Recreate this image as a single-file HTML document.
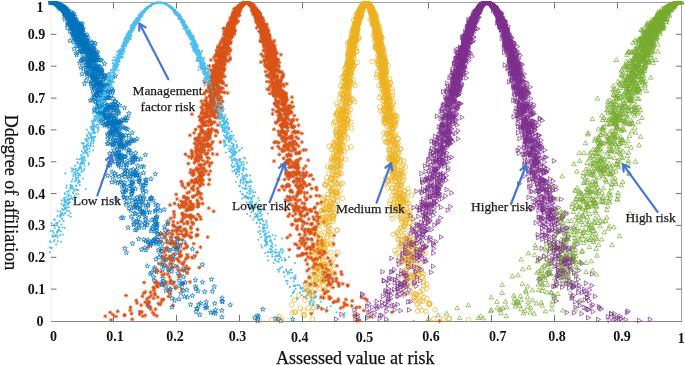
<!DOCTYPE html>
<html><head><meta charset="utf-8"><style>
html,body{margin:0;padding:0;background:#fff;width:685px;height:365px;overflow:hidden}
.w{position:relative;width:685px;height:365px;filter:blur(0.4px)}
svg text{font-family:"Liberation Serif",serif}
.tl text{font-weight:bold;font-size:14px;fill:#111}
.an text{font-size:13.4px;fill:#1a1a1a;stroke:#1a1a1a;stroke-width:0.25px}
.tt{stroke:#111;stroke-width:0.25px}
</style></head><body><div class="w">
<svg width="685" height="365" viewBox="0 0 685 365" style="position:absolute;left:0;top:0">
<defs><clipPath id="c"><rect x="48" y="1" width="637" height="324"/></clipPath>
<marker id="mlow" markerUnits="userSpaceOnUse" markerWidth="10" markerHeight="10" refX="0" refY="0" viewBox="-5 -5 10 10" overflow="visible"><polygon points="0.00,-2.50 0.59,-0.81 2.38,-0.77 0.95,0.31 1.47,2.02 0.00,1.00 -1.47,2.02 -0.95,0.31 -2.38,-0.77 -0.59,-0.81" fill="none" stroke="#0072BD" stroke-width="0.7" stroke-linejoin="round"/></marker>
<marker id="mmgmt" markerUnits="userSpaceOnUse" markerWidth="10" markerHeight="10" refX="0" refY="0" viewBox="-5 -5 10 10" overflow="visible"><circle r="1" fill="#4DBEEE"/></marker>
<marker id="mlower" markerUnits="userSpaceOnUse" markerWidth="10" markerHeight="10" refX="0" refY="0" viewBox="-5 -5 10 10" overflow="visible"><path d="M-2 0H2M0-2V2M-1.4-1.4L1.4 1.4M-1.4 1.4L1.4-1.4" stroke="#D95319" stroke-width="0.9"/></marker>
<marker id="mmed" markerUnits="userSpaceOnUse" markerWidth="10" markerHeight="10" refX="0" refY="0" viewBox="-5 -5 10 10" overflow="visible"><circle r="2.3" fill="none" stroke="#EDB120" stroke-width="0.7"/></marker>
<marker id="mhigher" markerUnits="userSpaceOnUse" markerWidth="10" markerHeight="10" refX="0" refY="0" viewBox="-5 -5 10 10" overflow="visible"><path d="M2.6 0L-1.4 2.3V-2.3Z" fill="none" stroke="#7E2F8E" stroke-width="0.7" stroke-linejoin="round"/></marker>
<marker id="mhigh" markerUnits="userSpaceOnUse" markerWidth="10" markerHeight="10" refX="0" refY="0" viewBox="-5 -5 10 10" overflow="visible"><path d="M0-2.6L2.3 1.4H-2.3Z" fill="none" stroke="#77AC30" stroke-width="0.7" stroke-linejoin="round"/></marker>
</defs>
<line x1="51" y1="2.5" x2="682" y2="2.5" stroke="#a0a0a0" stroke-width="1"/>
<line x1="681.5" y1="2.5" x2="681.5" y2="321.5" stroke="#a0a0a0" stroke-width="1"/>
<line x1="51" y1="321.5" x2="682" y2="321.5" stroke="#858585" stroke-width="1.2"/>
<line x1="51" y1="2" x2="51" y2="321" stroke="#eeeeee" stroke-width="1"/>
<path d="M113.5 2.5v6M113.5 321v-6M176.5 2.5v6M176.5 321v-6M239.5 2.5v6M239.5 321v-6M302.5 2.5v6M302.5 321v-6M365.5 2.5v6M365.5 321v-6M428.5 2.5v6M428.5 321v-6M491.5 2.5v6M491.5 321v-6M554.5 2.5v6M554.5 321v-6M617.5 2.5v6M617.5 321v-6M51 289.1h5.5M681.5 289.1h-5.5M51 257.3h5.5M681.5 257.3h-5.5M51 225.4h5.5M681.5 225.4h-5.5M51 193.6h5.5M681.5 193.6h-5.5M51 161.8h5.5M681.5 161.8h-5.5M51 129.9h5.5M681.5 129.9h-5.5M51 98.1h5.5M681.5 98.1h-5.5M51 66.2h5.5M681.5 66.2h-5.5M51 34.3h5.5M681.5 34.3h-5.5" stroke="#707070" stroke-width="1" fill="none"/>
<g clip-path="url(#c)" fill="none" stroke="none">
<polyline points="85,42.3 80.2,29.2 123.8,148.5 98.9,92.9 58.3,4.3 73.8,21 59.9,5.7 65.8,10.1 86.1,57.6 168.4,249.6 73.5,23.6 195.4,280.2 140.4,198.2 92.5,42.3 90.6,65 101.5,60.4 135.2,172.1 65.6,9.6 81,41.3 58.9,6.5 110,111.8 79.4,45.1 94.5,71.3 143.5,211.5 95.1,59.3 184.6,296.7 64.9,10.2 76.9,38.7 78.8,31.7 178,273.1 81.7,50.2 100.3,83 59.8,6 110.1,164.9 125,170 89.4,53.4 101.3,74.2 87.3,55.6 154.5,280.8 68.3,14.6 111.2,130.5 104.3,83.9 161.7,284.4 89.8,47.6 132.4,190.7 84.6,35.8 74,42.1 112.5,126.6 93.3,77.5 50.7,2.5 96.2,58 92.4,59.1 61.1,7.7 75.7,25.3 112.8,128.9 109.9,133.8 110.9,107.9 196.1,311.8 51.5,2.5 71.7,28.1 64,8.3 155.3,174.1 89.2,75.8 110.4,139.2 59,5.4 135.7,204.7 129.3,179.1 54.1,2.9 70.9,22.6 179.1,280.5 64.8,12.8 64.2,11.9 173.2,260.1 139.2,214.6 62.5,7.2 102.1,119 99.9,71.8 58.4,5 94.4,86.1 88.8,60.1 91.2,81 60.1,5.1 153.7,243.7 54.6,3.1 125.7,156.8 49.8,2.5 132.2,132.9 86.9,48 134.2,206.6 112.1,125.1 60.3,6 51.9,2.5 202.4,282.2 50.8,2.5 56.1,3.3 73.8,30 124.2,156.5 113,120.8 117.5,110.7 91.5,50.5 81.6,37.5 143.9,197.4 183.7,241.8 53.5,2.8 55,3.1 82.4,54.3 93.2,83.7 71.1,19.5 121.6,138 98.8,95.1 101.9,103.2 162.9,258.8 67.4,17.1 62.8,8.4 215.6,310 96.8,81.7 141.4,211.4 58.1,5 70.8,20.9 98.5,105.4 111.2,117.1 65.8,10.7 87.3,76.6 77,32.8 75.2,22.1 79.9,31.9 105.8,120.8 114.1,112.5 64.3,10.5 98,97.3 126.5,164.6 169.2,267.6 103.2,79.2 60.2,6.6 129.2,150.1 59.5,5.8 257.5,320.7 96.7,69.4 95.3,75.9 103.3,115.8 76,21.5 152,229 122.1,145.3 148.2,242.3 190.5,304.6 135.6,153 52.8,2.6 67.9,11.4 135.9,201.8 105.5,110.1 74.8,34.7 145.8,179.5 222,317 118.4,152 96.4,79.2 80.9,38.1 130.1,162.8 91.6,85.9 62.9,7.3 86.2,48.9 117.5,103.7 152.7,226.8 111.8,159.4 89.3,63 92.1,55.6 87.3,58.2 94.4,57.8 115.3,131.8 74.8,37.8 74,19.3 156.2,217.5 184.6,270.1 169.7,291.8 198,291 195.6,286.6 133.2,157.4 112.5,143 257.6,319.6 64,9.2 93.3,52 70.9,16.4 81.4,31.9 108.6,74.6 66.5,17.9 79.5,25.3 109.8,153.5 135.2,230.1 151.1,231 100.2,68.4 73.9,23.4 76.3,42.1 62.3,8.9 132.5,162.3 77.3,32.5 55.3,3.7 97.1,68.6 84.6,36.5 79.7,62.9 65.2,9.2 122.5,191.7 127.5,141.1 100.4,84.6 107.1,109.8 108,117.7 77.6,23.9 131.8,200.4 221.8,310.5 79,36.5 81.8,26.8 197.5,308.6 56.4,3.5" marker-start="url(#mlow)" marker-mid="url(#mlow)" marker-end="url(#mlow)"/>
<polyline points="197.3,50.6 145.8,9.4 141.8,16.4 72.8,169.8 155.7,2.9 106,93.8 153.3,3.8 101.2,103.4 226.3,135.7 311,293.3 121.6,52.1 161.4,2.7 162.1,2.8 188.6,31.3 147.3,7.8 181.2,20.5 149.9,5.7 90.4,145.2 144.6,9.9 124.5,43.5 174,10 136.7,20.2 140.4,16.6 165.2,3.7 175.5,10.4 159,2.5 229.6,157 173,10.2 105.3,88.4 272.5,247.1 166.1,4 264.3,224.7 87.1,144.8 195.5,46.1 270.7,246.3 244.9,175.6 163.8,3.3 120,56.4 117.6,59.4 144.6,9.3 96,127 111,84.3 93.8,131.7 89.1,132.7 173.4,9.8 167.9,5.6 205.3,65.9 92.8,121.7 101.5,115.6 159.3,2.5 154.8,3.2 220.7,114 152.6,3.9 251.5,198.5 163.4,3.1 270.8,252.2 305.9,290.4 122.2,50.2 256.2,214.7 192.2,40 157.2,2.7 144.6,11.5 104.5,114.5 146.4,8.1 220.4,113.1 246.7,174.4 133.1,26.8 192.2,42.2 190.5,34.9 202.9,71.7 80.1,175.4 76.9,159.3 214.6,94.6 270.9,241.4 85.9,152.6 101.6,109.3 93.1,121.9 123.4,47 133.6,27.5 103.5,99.6 54.6,240 275.6,252.3 123.1,43.5 109.3,87.6 220.6,104.1 134.3,26.1 229.7,139.6 207.6,82.5 222.2,120.7 131.3,30.1 198.9,56.9 58.5,229.5 69.8,201.8 139,19.5 245.5,188.4 139.6,16.1 136.3,18 170.7,7.1 82.7,163.7 102.6,89.3 209,75.8 184.2,26.3 208.6,78.2 70.6,213.3 143.6,10.8 172.7,9.1 219.5,118.7 177.2,12.5 142.2,12.5 150.8,5.2 153.1,4.1 64.8,207.9 160.8,2.6 213.7,89.8 207.4,72.7 62.2,219.2 227,145.3 193.8,45.1 205.6,72.7 113.9,66.6 92.8,137.1 135.3,22.1 62.2,218.2 86.9,129.8 274.5,252.4 70.4,188.1 193.9,46.6 175.9,12.3 213.5,96.4 189.1,32.5 233.3,166.8 281,257.5 72,198.2 178.2,13.5 193.4,43.2 189,30.6 258.2,232.1 178.6,15.3 236.3,168.9 234.9,160.8 170.2,6.8 196.2,49.8 109.8,79.6 182.3,20.1 151.3,4.9 132.5,31.1 222.9,127.8 154.3,3.5 297.7,299 250.8,192 211.3,89.3 124.1,45.9 224.3,117.7 171.8,7.8 93.2,137.4 201.2,59.5 179.2,16.3 133.2,28.6 116.7,58.3 83,178.4 126.5,39.3 248.7,207.2 118.5,53.7 320.6,301.7 79.1,180.7 232,156.1 234.9,155.1 238.8,169.6 203.6,59.9 54.3,224.6 237.6,166.6 235.3,152.1 165.3,4 236.4,152.6 102.5,102.9 145.3,10.2 246.6,183.1 258,198.3 127.8,40.4 282.3,253.1 232.3,167 100.8,111 76.4,185.5 285.7,259.7 196.1,47.4 140.2,17.9 186.5,33.1 53.3,237.1 119.3,55.9 57,225.3 120,55.5 185.1,24.5 65.4,202.3 148,7.1 68.9,207.2 174.9,10.4 205.1,78.1 208.9,69.1 217.2,99.5 277.3,261.3 170.8,8.1 168.4,5.4 201.2,58.2 130.2,33.8 75.3,169.4 81.3,168.9 112.6,60.3 131.4,25.8 198.5,50.4 171.9,8.5 295.5,278.9 156.7,2.8 97.2,116.2 240.7,180.1 133.8,28.2 227,128.6 206.4,73.3 117.6,56.8 141.4,15 200.4,64.6 127.9,42.4 135.1,24 158.4,2.5 265.8,236.2 261.6,219.4 176.2,13.8 166.4,4.4 117.6,64.1 244.9,196.9 192.4,35.1 227.7,128.1 73.3,193.3 214.6,102.5 210.4,94.5 233.8,148.9 164.6,3.6 140.5,15.7 207.9,84.4 86.5,152.9 253.2,219.6 185.8,30.6 94.5,133.3 247.6,198.3 228.1,139 267.2,237.1 236.8,147.7 200.1,54.6 94.6,118.8 214.7,102.1 208.8,72.8 138.6,17.3 203.4,73.4 106.5,85.5 239.7,162 175.1,14 182.5,22.9 119.9,56.9 223.7,140.5 176.9,14.7 130.3,34.5 193.1,40.1 244,157.6 68,203.4 87.3,136 300.3,288.3 133.3,25.9 196.9,54.9 141.2,16.6 179.4,17.9 344.6,313.2 202.9,62.2 169.7,6.2 167.6,5.2 110.6,70.8 99.5,100.7 253.2,211.1 198.8,55.1 89.5,148.8 75.7,174.9 353.9,317.1 190.6,35.3 224.9,130.5 203.8,73.9 175.4,13.3 127.7,35.9 151.4,4.4 251.3,199.4 299.4,285.2 195.9,51.8 205.5,70.8 78.4,182.6 134.9,21.7 73,192.4 77.5,173.1 200.9,57.1 255.9,216.7 324,308.9 220.4,108.1 136.9,20.1 245.7,197.4 174.3,10.5 234.6,148.7 52.2,236 255.2,192.2 86,151.8 184.9,27.7 293.5,292.1 168.8,5.4 216.2,94.7 107.3,85.2 96.2,107.8 231.5,135.5 66.1,208.2 80,164.3 284.9,260.4 84.5,166.2 194.3,39.8 240.1,159.5 93.1,130.6 217.9,104.4 103.7,106.2 302.9,291 305.4,297.1 94.4,124.5 200.1,60.2 115.4,64.8 146.4,9.3 95,116.2 193.2,49.1 62.9,234.5 182.6,21.9 151.8,4.6 109.4,79.8 217.3,117.6 138.8,17.5 150.4,5.2 146.9,8.2 224.8,122.3 143.1,12.9 89.7,133.2 81.6,172.1 143.8,12 69.4,190.2 103.9,86.3 250,193.8 71.7,186.7 216.5,104.8 249.5,190.8 225.4,114.9 230.3,151.5 176.5,13.6 91,144.1 193.3,46.5 197.9,48.1 179.1,18 132.7,24.3 185.2,25.7 60,215.1 146.1,9 265.4,241.5 213.5,108 263.3,229.1 139.5,20.3 92,127.8 174.3,10.2 229.9,145.9" marker-start="url(#mmgmt)" marker-mid="url(#mmgmt)" marker-end="url(#mmgmt)"/>
<polyline points="210.9,70.1 261.3,54.4 245.8,2.5 275,87.3 222.6,61.2 264.2,35 219.5,117.8 177,258.7 201.3,183.2 191.9,114.2 200.9,148.7 234.9,16.7 289.8,155.2 205.6,153.7 262.2,36 252.6,6.9 216.4,72.4 210.4,115.5 266.2,32.1 265.3,39 232.5,21 239.2,5.9 197.5,188.6 250.6,4.5 259.6,17.6 336.4,255.4 197.2,181.8 212.7,104.2 250.2,3.7 225.8,53.6 230.7,28.1 246.6,2.5 233.6,16.2 244.9,2.7 265.6,32.4 207.7,237.1 272.1,49.7 168.7,296.5 298.2,248.2 284.9,115.4 219.7,56.6 284.6,133.5 241.5,5.8 263.9,32.2 276.5,83.8 263.3,22.2 246.8,2.5 272.2,60.6 238,7.7 232.1,23.3 213.9,116.4 168.7,258.5 315.3,233.3 277,89.4 197.2,200.3 263.2,28.5 252,10.4 150.6,292.3 211.5,93.5 243.6,3.7 316.1,251.3 284.6,150.6 302.7,181.1 255.8,20.2 281.6,132.4 195.8,157.8 276,61.7 267,81.6 200.4,174.1 257.9,14.6 302.6,225.9 341.8,274.4 294.1,209.8 218.1,67.6 244.3,3 223.2,37.8 296.5,178.8 215.8,91.6 215.9,130.5 168.2,230.6 256.7,11.2 267.2,36.6 220.4,48.9 216.4,74.9 241,5.9 295.1,199.6 200.4,185.1 254.3,12.6 261.6,29.4 295.7,185.2 282.3,104.4 260.1,18.6 295.7,219.8 282,164.8 259.8,20.4 259.7,15.4 196.3,153.9 253.7,7.7 218.4,77.9 201.1,145.5 237.6,10.6 171.8,243.4 216.6,98.1 227.2,36 261.1,24.4 234.3,14.8 264,31 334.1,235.4 287.5,99.9 192.1,151.9 197,252.4 212.6,107.4 214.8,102.7 162.2,275.1 200.5,247.2 167,247.4 218.7,55.3 292.3,205.5 304.3,245.9 209.8,135.4 227,37.5 185.5,201.9 160.7,241.8 241.8,4.7 218.3,70.2 274.5,49.9 228.6,27.3 294.6,131.1 226.9,51.5 276.3,85.3 236.3,15.1 248.3,2.8 269.7,45.5 192.2,205.5 215.5,95.3 239.5,6.5 233.1,23.5 252.1,7 208.1,108.8 170,205.1 238.7,8.8 253.4,8.5 216.6,108.5 282.4,151.4 272,55.5 280.2,82.6 274.1,71.4 207.2,116.2 329,282 214.8,85.9 256.2,18.2 271.4,67.6 258.1,15.9 251.8,6.3 215.4,96.5 231.7,28.8 304.1,183.7 221.7,64.5 273.3,71.1 266.3,33.4 251,4.3 220.6,43.1 243.4,4.3 171.1,244.2 261.7,24.7 226,34 273.5,53.8 264,25.5 219.9,63.2 291.1,112 229.2,33 343.3,306.8 204.7,116.2 220,75.2 217.9,46.7 261.2,19.1 311.3,175.1 234.6,17.6 327.1,276.9 294.9,148.6 239.3,8.4 189,209.4 252.1,4.7 310.9,257.8 196.7,144.5 198,191.3 253.3,9.2 163.5,299.5 294.3,211 187.7,209.2 216.2,65.1 242.1,4.2 300.4,175.4 267.9,32.1 169.9,263.9 179,239.4 255.2,11.1 183.1,283.5 234.2,14.4 222.2,92 281.3,91.1 294.1,167.4 130.5,307.4 263,30 268.4,60.2 213.9,85.5 223.9,57.1 199.2,169.1 231.7,23.1 261.2,25 297,186.6 295.7,203.4 234.2,17.9 222.5,101.4 283.8,121.2 154.3,314.6 180.1,207.6 274.6,55.6 309,292 213,93.8 248.8,3.1 207.3,157.5 241.5,4.5 222.8,88.4 259.9,22.1 265.4,36.4 238.7,11 193,172.4 251.3,4.6 273.9,95.6 217.1,91.8 298.1,187.6 262,30.7 227.5,24.6 231.5,31.5 214,111.8 281.9,109.4 293.2,106.7 228.3,35.1 238.4,8.5 236.9,10.1 273.4,69.4 323,210.8 221.8,66.2 259.5,16.7 270.3,48 293.9,208.3 202.7,104.1 165.9,283 239.6,7 191.2,232.6 305.9,242.9 216.5,70.6 257.3,12.3 256.3,9.8 228.2,28.6 288.9,119.8 233.5,16.3 319.3,265.2 262.5,23.6 136.3,300.4 283.6,110.2 180.7,251.1 261.9,22 361.4,297.3 288.7,147.1 202.7,149.4 215.5,88.4 289.6,214.1 216.7,73.3 299,153.5 258,19.8 242.7,3.4 240.4,5.6 308.9,247.2 185.8,214.7 211.9,148.9 280.1,113.7 297.4,131.8 202.1,179.8 201.4,107.5 202,152.5 272.4,51.3 221,60.2 285.5,209.9 275.3,89.1 253.8,10.6 264.5,50 282.7,102.9 247.6,2.7 254.8,14.8 275.4,92 244.2,2.8 284.2,132.4 241.1,4.6 210.1,80.2 254.7,9.4 302.2,243.1 295.4,220.7 183.7,229.9 226.5,37.2 233,17.6 233.9,19.6 227.2,42.2 236.1,13.9 253.7,10.8 209.4,166.1 200.8,171.8 208.9,150.5 207.5,153.4 272.2,54.4 203.1,148.3 241.8,3.5 272.1,74.4 290.3,138.5 257.7,12.2 273.1,82.3 213.7,211.3 263.5,25.7 301,219.4 237.5,11.8 309.1,268.9 287.8,172.3 149.2,302.1 226,40.3 261.4,25.2 294,163 239.7,6 238.4,10.4 124.6,315 280.2,87.6 316.7,189.7 252,6.1 229.9,36.5 285.1,134.9 273.1,62.9 330.5,284.6 220.5,48.3 197.5,194.2 278.4,179.3 230.6,33.7 223.4,61.5 201.5,176.1 222.2,77.7 157.5,283.4 257.4,14.1 261.5,34.8 284.8,105.9 212.1,95.2 218.1,61.7 185.6,243.8 173.9,211.6 283.5,105.7 356.3,315 207.2,140 230.9,27.2 287.5,113.3 219.5,72.3 272.7,51.2 231.8,17.1 286.1,108.4 236,13.2 209.5,179.7 280.1,92.9 223.5,48.8 211.6,91.7 267.5,50.8 219,76.3 250.2,4.6 293.6,127.2 286.3,144.2 201.8,198.9 269.7,55.5 271.6,43.9 325.4,265.6 288.9,107 238.5,6.7 198.1,140.4 207.3,105.3 213.5,73.5 279.5,85.1 211.8,86.4 289.6,108.2 297.2,173.5 294.2,115.6 288.2,216.3 224.2,38.4 258.3,18.1 293.4,149.9 268.4,40.3 213.3,83.7 239.3,8.2 182.1,239.6 283,91.1 162.4,256.5 255,9.8 289.5,142.7 283.2,109.3 172.8,234.2 253.5,9.7 235.1,21.2 234.3,16.2 301.2,238.4 256.7,15.4 188.7,206.8 200.5,143.2 270.2,73.5 256.2,10.4 212.6,153.9 174.5,243.2 229.2,48.3 231.9,32.4 281.5,92 223.2,57.8 269.5,65 291,166.4 178,234.4 222.7,54.7 307.1,223.5 225.2,34.6 281.4,117.8 217.7,85.9 226.1,31.3 170.3,243 271.2,44.2 225.9,42.2 130.2,310.3 281.3,115.2 275.5,64.5 209.8,96 288.7,163.6 148.4,306.8 160.5,250.1 392,312.2 141.9,311.9 195.6,179.6 224.5,92.5 276.9,80.3 276.9,84.7 257.3,19.1 232.5,17.7" marker-start="url(#mlower)" marker-mid="url(#mlower)" marker-end="url(#mlower)"/>
<polyline points="358.3,21 337.2,166.7 392.9,104.3 364.8,2.8 353.5,66.8 374.7,21.9 377.6,42.8 328.2,218.4 384.3,123.3 416.4,276.2 356.8,22.6 321.9,210.6 373.3,15.1 363.5,3.9 381.2,88.8 396.8,116.1 364.4,3.8 409.8,222.6 322.3,265.4 351.9,65.2 370.7,9.7 375.4,30.1 364.5,3 377.7,37.6 328.8,173.6 325.9,295.3 387,100.3 395.1,195.7 367.4,2.9 347.4,148 351,62.2 382.5,63.4 371.1,13.5 404.3,194.6 408.7,244.9 402.3,181.4 361.4,6.8 389.1,147.2 378.2,49.4 372.5,14 372.5,11.4 365.1,2.7 345.1,118.6 375.3,28.9 350.5,74.4 365.9,2.5 385.7,95.8 385.5,91.6 308.4,257.6 351.5,61.4 341.2,138.7 373.8,16.2 351,73.4 388,117.8 355.4,30.9 379,36.4 347.2,118.7 344.6,75.8 359.7,13.8 377,31.3 309.6,281.1 368,3.4 324.9,208.8 370,6.5 322.2,256.7 354.5,32.6 390.4,159.3 407,203.5 343.6,133.7 398.9,239.3 351.4,34 375.4,34.7 368,3.1 373.2,17.3 370,5.6 383.4,90.8 369.9,6.8 357,38.1 347.5,138 343,145.9 362.4,6 383.5,60.9 374.2,11.8 358.2,24 375.9,21.5 351.8,60.7 367,2.8 373.1,23.8 357.4,32.8 392.9,172.9 386.7,132.9 357,23.1 377.8,45.3 369.3,4.6 372.2,12 401.3,171.1 372.9,13.1 371.9,11.7 387.1,103 386.2,97 413.1,239.8 343.3,94.7 382.4,60.5 316,259.9 366.4,2.5 332.4,178.8 340.8,184.2 362.2,5.2 339.6,139.3 358.5,16.1 294.5,312 398.7,189.9 303.8,311.1 346.7,66.1 407.2,239 337.3,193 409.4,240.3 385.7,142.1 363.4,3.7 357.4,22.5 359,15.1 374.8,13.8 397,119.3 398.5,184.2 310.5,283.3 390.5,100.5 384.8,56.7 337.1,165.9 388.1,105 392.7,112.1 389.1,109.2 387,86.5 390.5,166 352.4,60.8 358.8,37.4 352.6,50.1 400.3,159.6 345.3,73.5 337.7,128.5 335.6,174.8 371.5,10.3 386.6,95 392.8,175.4 342.9,124 342.8,118.3 340.8,116 342.6,99.5 333.4,216.5 407.1,215.9 375.5,31.5 353.5,43 300.2,308.3 398,185.3 383.5,76.2 381,65.4 350.2,73.7 380.1,53.7 349.7,51.6 375.8,27.7 359.9,8.4 332.3,189.6 350.9,147 389.3,130.5 394.7,115.3 360.4,10.5 349,78.6 355.4,39.1 375.6,18.9 326.4,201.8 390.3,108.5 343.7,99.5 331.4,158.3 363.8,3.5 402.8,261.4 345.7,78.8 355.4,29.6 337.1,165.4 371.4,8.6 371.4,10 352.9,31.1 374.8,17.6 383.8,78.4 354.5,39 358.4,16.4 352.3,69.5 350.4,56.1 392.5,150.4 341.5,137.6 368.3,4.4 387.1,118.8 349.8,49.8 380.7,39.6 383.3,63.8 329.2,218.7 384.9,105.4 336.8,142.2 336.4,230.4 317.6,243 360.5,19.5 401.2,219.1 429.5,304.9 417.6,311.1 390.2,179.5 394,148.9 385.5,72.2 379.9,56.4 354.1,27.4 377.7,24.4 376.6,29.6 349.4,63.4 333.4,169 346.4,83 468.5,319.5 342.1,77.4 403.1,200.9 394.2,161.4 387,134.4 352.1,61.1 414.5,275.4 372.3,13.3 350.8,58.6 347.8,78.6 406.7,283.7 338.6,186.6 345.9,71.8 365.4,2.6 376.3,33.9 334,145.5 343.4,132.1 352.1,53.3 377.2,59.1 360.2,9.4 359.4,13.7 370.4,6.2 388.3,107.7 346.6,84.1 349.6,68.9 382.3,67.9 385.3,85.5 358.2,15 397.7,153.4 358.8,10.7 398.9,193 353.7,29.5 355.5,36.3 325.3,219.5 339.8,136.1 352.9,29.6 308.3,288.9 387.7,91.1 378.8,39.1 369.6,6.2 380.8,59.2 353.1,55.8 348,42.2 385.9,87.7 361,7.4 385.3,116.9 355.3,42 381.4,60.7 394.9,165 362.6,4.9 400.8,239.4 406.5,220 291.9,305 421.7,310.2 319.9,238.3 417.3,303.8 341.9,113.5 310.2,288.8 322.9,199.2 375.4,29.5 339.3,137.8 348.7,56 389.9,159.9 340.1,136.8 375.7,33.3 393.2,171.2 314.5,267.6 332.9,168.1 372,7.4 373.3,12.1 316.7,281.3 345.1,105.2 375.1,22.4 375.1,47.9 404,172.5 356.7,28.9 350.2,81.7 342.8,129.1 339.2,120 305.2,284.3 404.7,240.2 353.3,37.7 347.6,80.5 351.6,68.6 378.9,41.1 350.1,96.6 393.2,117.8 369.9,9.2 359.6,12.5 364.6,3.3 390.2,150.1 380,60.5 361.5,6.7 385.5,122.1 312.5,294.6 385.7,62.8 345.8,111.2 348.9,71.2 357.6,17.4 406.7,258.8 359.9,11 361.3,9.6 380.4,44.1 314.3,284.3 359.6,16.5 384.4,57.7 340.1,140.4 378.1,41.9 348.4,94.9 330,228.6 385.9,93.1 386,71.6 339.6,152.6" marker-start="url(#mmed)" marker-mid="url(#mmed)" marker-end="url(#mmed)"/>
<polyline points="574.8,301.8 489.5,3.2 467.6,39.4 547.8,202.3 444.7,111 495.5,8.7 491.1,4.1 524.9,131.4 567.7,257.8 507.5,28.3 435.4,170.7 443.4,177.3 471.8,30.4 530.1,103.4 498.1,20 477.1,12.4 537.1,204.6 446.9,141.1 563.9,277.1 534.4,177.5 520.8,83.4 488.9,2.7 478.3,11.2 489.8,3.1 465.5,37.4 475.4,22.8 457.4,81 516.9,93.9 493.7,6.5 504.5,40.1 459.6,67.3 439.3,161.9 453.1,102.3 497.3,14.9 443.4,151.9 510,61.8 456.7,107.7 470.3,27.4 433.5,156 396.8,280.4 524.1,164.5 481.5,5.4 465.8,56 554.2,236.3 577.9,292.7 488.9,2.9 500.8,20.5 592.7,311.7 460.4,52.8 530.3,171.4 532.1,128.6 468.1,45.8 450.1,117.4 460.2,78.2 495.5,7.1 503.9,24.6 627.7,311.2 443.5,126.2 497.7,10.8 453.3,80.8 521.5,109.4 506.2,35.4 426.4,179.6 471.5,27.6 491.8,4.3 518.8,84.7 512.9,52 515.7,76.3 490.4,3.5 515,64.3 493,5.5 525,133.9 516.5,62 459.1,93.4 487.8,2.5 463.1,72.1 484.8,3 512,60.2 493.1,6.6 485.7,2.8 464.1,45.4 542.4,224.6 490,3.5 447.9,107.5 473.1,27.6 527.2,130.8 573,285.5 539.2,191.7 476.7,13.1 531.5,113.8 426.3,231 518.5,109.1 482.4,6.3 500.8,20.2 442,157.7 506.3,33.2 440.9,165.9 427.2,226.7 545.6,227 442.5,159.9 528.7,126.5 468.1,38.5 490.7,3.2 538.4,162.2 503.8,40.1 446.9,92 468.1,33.1 537.5,199.4 551.7,204 470.6,27.9 523.4,118.9 487.1,2.5 525.8,141.6 448.5,116.3 527.8,103.6 467.7,39.8 434.7,169.6 520.7,65.3 509.1,59.1 426.5,207.7 398.3,296.1 484.8,3.3 505,39.1 467.4,38.2 472.6,25 466.2,41.5 506.3,30.3 541,177.9 509.9,39.7 475,15 458.9,63.8 499,11.1 391.5,290.9 483.6,3.6 487.5,2.5 477.7,11.8 479.5,7.2 424.3,206.1 520.3,67.8 475.2,16.1 488.6,2.7 463.2,36.3 419.8,210.1 477.8,8.7 477.7,11 500,27.1 553.9,247.8 515.2,50.4 556.5,265.8 476.4,14.3 536.6,174.8 525.1,135.8 493.9,6.4 533.5,127 456.3,72 471.2,32.3 467.1,50.8 529.9,154.9 505.3,36.9 510.3,73.2 478.7,7 493.6,5.6 504.2,35.8 505.9,28 463.2,40.7 477.5,20.1 448.8,129.1 518.6,90.4 536.2,148.5 565.8,273.1 367,317.7 523.3,105.8 518.5,58.4 626.8,312.5 471.6,28.1 460.8,76.8 501.6,13.2 436.9,201.3 435.4,195.4 512.5,57.1 416.5,236.9 437.3,143.9 539.6,169.4 509.8,57.6 432.1,178.5 547.2,204.7 492.2,4 473.9,19.1 484.5,3.5 544.2,162.2 509.9,53.5 460.8,103.6 467.5,42.8 519.3,86.4 458.9,55.7 452.7,121.1 381.9,302.2 525.4,98.5 479,9.3 443.4,104.9 459.8,47.8 485.6,2.7 438.9,153.6 556.2,247.5 466.2,43 552.1,229.9 491.4,4.1 573.6,228.4 528.2,132.2 531.3,114.4 469.1,33.7 549.7,190 491.7,6 483,4.2 388.3,291.8 483.5,5.2 575.4,307.3 517.8,64.8 558.9,258.6 496.7,13.5 434,195.3 494.3,7.9 568.3,259.9 497,10.5 482.6,5 441.4,152.3 472.7,17.1 495.1,7.9 531.8,129.2 520.2,93.1 450.9,138.7 416.8,267.1 473.7,17 457.5,74.9 519.4,105.1 455.2,123.4 514.3,63.2 471.9,25.9 533.5,162.3 405.2,272.2 388.6,299.7 502.8,20.4 441.7,127.5 534.8,127.3 486.3,2.6 558.2,258.8 454.9,79.9 408.2,278.6 509.1,40 477.3,9.7 475.6,18.1 573.8,312.7 524.7,89.3 517.1,66.6 434.2,225.1 455,63 525.6,100.6 434.2,187.1 494.2,7.3 448.5,124 437.1,204.9 513.2,60.8 445.9,128.2 520.8,91.3 519.4,147.9 501.4,18.8 527.6,132.9 526.2,125.2 537.5,169.1 497.3,14.5 501.1,17 500.8,22.6 531.7,169.6 469.1,39.5 550.2,218.7 446.2,112.1 562.6,276.6 509.6,66.7 614.2,313.6 497.8,16.1 521,74.7 424.8,223 478.2,11.7 496,10.8 506.8,33.3 519.1,71.8 538,125.2 428.1,214.9 472.7,28.8 513.3,76.9 485.9,2.8 534,173.2 463.3,62 475.5,20.8 516.4,66 537.8,260.2 443.9,177.9 401.2,243.8 432.9,161.7 434.2,169.4 500,16 535.7,122.3 498.5,14.1 510.3,65.3 504.1,28.6 499.6,19.4 497.4,14 531.2,161.5 442.6,146.5 469.2,34.4 501,16.7 581.3,313.6 454.1,94.7 528.5,93.4 458.4,72 481.3,5 452.6,79.4 578.6,270.5 506,29.4 471.6,34.5 527.8,132.3 461.4,65.4 497.7,17.8 437.1,184.1 478.1,13.5 499.9,25.5 503.4,25.2 454.4,91 460,76.5 425.5,246.9 407.6,284.8 479.6,8.6 532.5,158.8 508.1,41.5 511.2,57.9 551.8,247.9 476.2,15.8 541.1,174.7 432.5,196.6 445.2,134.2 447.5,210.2 555,230.7 499.2,14.8 509.8,35.8 469.1,28 510.3,46.6 463.2,52.8 534.7,202 549.7,197.1 464.6,54.5 453.4,85.9 427.7,204.7 429.4,196.1 549.1,194.6 521.5,106.7 553.1,244.3 510.8,61.8 526.9,130.6 527.1,91.2 473.6,21.3 503.5,20.9 536.5,145.3 500.5,16.1 450.9,91.3 457.5,95.4 620.8,318.5 452.5,73.6 468.3,40.9 496.3,10.1 537.5,162.4 478.6,11.9 527.8,94.4 497,12.1 495.6,12.3 455,72.5 472.1,21.2 444.1,125.6 498.4,14.7 504.6,25.6 442.6,124.2 460,54.7 479.6,7.7 543.9,212.5 501.6,22.3 511.3,42.2 553.7,197.9 512.4,61.6 473.4,22.6 573.3,260.4 546.6,190.4 506.4,48.1 518,87.1 542.8,209.3 474.8,16.3 445.8,180.4 509,34.2 491,3.7 481.9,4.9 492.4,5.9 428.8,207 492.7,4.5 481.8,6.9 504.7,28.3 477.8,12.5 521.2,81 453.9,83.3 462.2,54.1 552.8,181.1 415.2,231.8 498.1,17.5 506,39.6 397.9,276.1 497.4,10.3 398.6,291.5 461.2,51.9 450.7,133.1 399.7,284.6 544.3,235.3 466.8,37.3 419.8,252.3 439.2,179.8 474.5,17.5 513.9,44.3 482,6 435.7,194.7 552.6,203.1 495.3,9.2 562.2,218.1 540.6,178.4 496.2,9.8 541.5,178.6 478.6,7.4 530.4,122.8 413.7,244.5 407.9,266.7 448.9,158.3 503.9,33.8 451.8,87.4 458.7,64.2 459.7,58.9 530.8,131.6 521,113.4 476.7,12 508.7,45.3 438.9,150.8 485.8,2.7 511.1,45.4 505.3,28.9 466.6,37.8 446.9,98.7 456,114.9 532.7,198.4 430.2,175 383.4,280.6 554.3,215.2 476.9,15.2 447.1,108.2 522.3,87.6 475.4,19.7 481.5,6.5 498.2,14 473,20.1 504.5,65 520.5,90.4 464.5,50 377.1,308.6 471.6,31.5 462.5,51 515.4,73.1 448,144.2 531.5,138.1 479.7,6.3 500.4,26 528.9,180.2 491.8,5.5 455.5,58.9 499.1,15.7 558.1,270 515.4,111.4 542.7,188.6 533.9,147.5 480.4,10.2 446,158 526.7,139.6 557.2,247.7" marker-start="url(#mhigher)" marker-mid="url(#mhigher)" marker-end="url(#mhigher)"/>
<polyline points="680.3,2.5 660.8,18 674.7,3.5 490.7,311.2 679.4,2.6 574.1,227 642.2,46.5 619.2,152.8 577.2,187.9 666.3,7.4 581.3,221.9 676.3,3.1 663.3,17.8 665.8,10.7 616,118.3 636.2,110 660.8,29.3 585.5,198.4 662.9,18.3 659.2,14.8 644.4,43.7 600.4,161.2 658.7,19.4 662.7,11.4 573.6,245.7 525.7,290.8 603.1,162.7 681.3,2.5 657.8,14 670,5.3 634.4,76.7 676.4,3.3 662.1,24.2 615.8,184.1 645.9,38.4 656.9,26.5 619.4,93.2 665.5,11 674.6,3.8 676.2,3.2 659.2,17.7 679.8,2.5 617.7,151.5 590.5,238.4 654.4,20.4 661.2,18.6 605.7,180.4 593.1,240.5 591.4,206.6 592.5,165.3 640.1,56.1 646.7,33.4 667,12.1 652.9,48.4 594,200.8 667.3,8.5 639.4,39.4 596.3,274.5 601.7,239.6 667.5,11.2 673.8,7.4 613.1,111.4 677.2,3 663.3,12.6 643.3,56.1 634.7,115.8 665.3,19.7 506.5,307.3 588.4,225.4 550.1,269.6 629.8,75.1 645.5,59.6 600,167.4 645.1,44.3 579.5,220.1 666.4,12.3 658.5,21.5 658.4,27.7 674.4,4.3 661.1,20.3 571.1,221.1 582.8,225 602.9,221.9 663.9,25.9 662.7,12 658.1,20.4 629,98.8 478.3,318.1 644.5,43.9 616.9,105.1 668.3,7.3 600.4,168.4 658.9,15.9 678.1,2.9 635.2,52.6 446.6,313.7 675.8,3.5 641.2,48.6 655.6,19.9 580.6,262.5 609.6,198.8 652,26 608.7,201.1 615,178.5 602.7,120.1 586.7,174 664.4,11.3 656.3,22.7 621.8,108.6 649.6,48.8 638.2,67.6 631,100.2 580.1,300.6 653.9,24.8 607.7,171.8 622.4,105.8 658.9,25.6 675,4.4 666.3,11.4 630.7,99.8 558.5,218.2 634.1,58.6 622,74.6 653.9,19.7 647.9,30.1 673.1,7 578.7,207.5 645.2,50.6 569.7,267.5 638.1,63.9 590,190.6 677.6,2.9 678.5,2.9 645.4,49.7 661.7,17 651.9,44.7 610,131.9 595.9,153.3 651.9,37.8 632.5,73.9 626.4,67.1 605.4,133.8 609.5,142.7 638.2,122.2 682,2.5 666.6,9.2 666.8,9.4 667,12.8 637.8,76.2 578.9,214.5 606.6,182.3 642.1,60.2 656.6,28.2 621.5,105 634.7,87.3 667.3,9.3 631.9,109.9 612.6,179 668.7,8.6 668.9,7.2 669.8,5.9 592.7,201.2 674,4.5 582,199.4 588.7,228.8 587.4,207.3 592.2,205.7 671,7.5 550.8,274.4 641.9,70.2 675.3,4.1 545.5,311.5 651.2,55.4 598.3,142.9 599.4,144.1 583.7,200.5 635.8,105 615.6,104.8 671.8,7.5 660,15.8 673.5,4.6 658.5,26.9 663.9,9.3 629,67 606.7,217.6 600.1,135 638.8,99 581.7,236 676.8,3.4 671.7,6.7 623.6,81 644.9,49.6 656.2,16.2 497.5,307.9 579.6,161 649.7,34.3 606.9,141.6 656.3,35 602.2,127.8 566.5,231.1 530.5,307.9 656.7,20.1 595.7,213 575.6,250 675.4,3.4 660.5,17.6 664.3,12.9 639.8,65.6 630.2,99 655.4,19.2 643.8,52.2 666.6,10.5 579.5,199.4 635.5,60.4 626.6,114.9 542.2,305.7 596.3,206 652.3,31.7 672.6,4.6 654,25.5 675,3.5 593.1,230.9 631.4,101.6 642.4,58.3 627.3,80.4 622.4,140.5 544.6,266.1 629.7,60.7 615.9,171.6 646.3,32 593.7,199.9 557,275 637.3,46.1 647.6,60.2 637.5,80.4 667.8,9.9 629.8,76.3 587.8,134.5 627.7,141.2 594,222.3 653.3,27.6 655.4,30.7 657.7,29.6 623.2,114.5 660.2,23.8 600,172.8 572.6,250.1 646.9,52.8 583.2,233 532.5,300.5 637.3,90.5 666.8,9.8 574,164.3 659.6,16.7 582.1,197.8 615.9,132.5 658.5,22.9 670.4,8.8 647.8,55.2 667,13.9 651.1,58.2 664,8.4 680.9,2.5 538.7,290.2 616.9,113.1 653.7,28.2 656.8,20.4 601.4,161.1 671.2,5.7 653.7,32.7 515.8,303.9 629.1,77.6 659.8,17.7 634.3,52.6 627.9,99.1 643.8,60.2 651.5,30.3 564.5,255.8 545.2,270.8 592.8,163 651.2,38 649.4,38.3 638.6,76.1 597.1,239.2 641.4,61.8 651.1,25.1" marker-start="url(#mhigh)" marker-mid="url(#mhigh)" marker-end="url(#mhigh)"/>
<polyline points="126.4,202 70.1,19 210.8,312.4 78.7,31.4 198.7,304.5 75.7,25.9 101.3,106.5 81.4,39 84.8,43.2 66.4,9.3 95.5,76.8 74.7,30 109.9,115.4 107.2,95.1 107.3,123.7 145,223.6 61.4,5.9 115.7,110.1 81.9,29.6 78.4,38.2 60.3,5.1 109.2,107.1 59.2,5.1 278.6,319.9 80.3,33.4 130.3,176 94.4,45.3 177.7,253.1 85.4,40.2 141.5,249.7 61.4,8.8 119.2,176.6 80,25.1 104.5,63.9 115.4,101.8 86.4,71.1 121.2,218 82.8,46.6 108.9,126.5 118.9,135.9 125.9,204.5 89,49.1 91.8,42.9 103.8,76 113.8,129.5 75,24.2 131.3,216.6 68.2,16.8 175.4,244.2 116.4,116.2 137.2,197.7 95.2,85.3 88.8,52.8 58.3,6.4 58.3,6.2 71.1,24.8 87.5,67 70.1,40.7 136.3,204.8 56.8,4 69.2,22 98.2,89.2 134.7,140.5 192.4,295.8 93.2,74.9 77.4,41.8 153.7,277.5 140.6,159.1 65.7,12.8 125.7,190 73.8,13.7 96.9,53.1 118.9,152.1 60.9,6.9 131.5,191.1 75.2,24.4 108.3,98 83,32.4 118,155.7 278.1,319 79.2,42.7 162.5,269.7 95.4,102.1 106.3,115.4 56.6,5 110.1,121.9 155.8,238.4 74.5,18.8 145.2,219 62.9,11 206.2,302 124.9,176.8 179,299.1 141.6,166.9 90.7,66.8 120.8,123.4 91.4,55.8 69,23.2 72.2,33.7 179.9,275.5 55.2,3.4 59.1,4.1 63.2,6.6 154.8,231.2 67.5,12.6 132.9,184.2 75.3,31.5 111.3,135.6 143.2,185.3 143,212.2 102,86.4 108,138.8 95.4,110.7 65.2,11.9 113,103.9 80.5,27.8 58.8,6 86.2,53.1 63.4,8.1 52.3,2.6 107.5,105.1 161.9,248.3 113.7,150.3 71.9,18.7 73.1,34.1 83.3,34.3 66.4,10 73.3,26.1 61.2,8.9 112.6,125.2 132.5,243.6 83.8,46.8 158,205.3 98,98.7 72.7,15.3 116.3,142.1 116.6,134.7 64.4,11.1 59.2,8.6 113.7,124.4 133.4,220.1 88.8,61.6 70.5,17.5 90.1,59.2 92.9,76.6 144.6,223.8 71.6,20.5 128.7,150.2 90.8,57.2 157,242.6 230.3,304.9 140,196.6 101.8,112.5 162,251.2 76.3,37.1 157.4,209.1 88.6,55.8 104.8,85.6 155.5,204.5 119.5,144.6 62,6.4 94.3,53.4 182.2,283.3 98.7,89.4 157,227.7 93.5,60.2 57.5,4.7 77.5,28 147.6,221.8 143.2,204.5 176.6,244.5 120.4,141.4 108.1,114.8 145.9,183.1 97.4,93.2 136.9,139 157.3,234.5 61.1,6.5 107.7,175.6 154.6,269.6 60.7,7.7 110.8,104.7 165.1,229.9 119.6,149 87.4,52.4 91.9,67.9 118.9,123.6 62.1,7.5 120.9,145.2 65.2,8.7 80.2,26.4 124.7,182.5 101.6,95.6 67.3,15.5 135.5,188.9 80.7,33.1 157,223.2 92,99.9 142.6,189.8 125.4,144.7 112.6,106.3 126.3,120.5 126.7,198 74.6,29.2 69.6,18.5 162,284.7 80,42.6 105,125 128.1,152.6 108.2,143.3 79.3,39.7" marker-start="url(#mlow)" marker-mid="url(#mlow)" marker-end="url(#mlow)"/>
<polyline points="218.1,106.4 212.2,92 131.3,32.2 170.8,7.4 110,73.3 214.8,108.1 203.8,66.3 121.4,50.6 171.7,8.4 207.1,84.4 111.3,82 139.1,17.1 204,66.2 206.2,78.7 113.6,57.2 265.7,240.2 297.5,284.9 258,219.6 248.3,197.2 167.5,4.7 253.2,210.6 102.2,93.7 86.5,138.5 181.1,18 107.7,91.1 295.1,262.9 68.1,203 138.3,21.2 265,245.8 211,90.6 184.7,27.2 198.7,57.6 183.7,23.9 169.9,6.1 154.8,3.4 59,226.9 223.7,131.6 135.7,25.2 185.7,29.8 193.4,45.4 232.9,143.8 110.5,80.3 215.3,102.7 219.9,107.9 96.8,125.1 131.2,29 85.5,147.1 238.9,171.4 112.8,79.8 86.6,135.1 202.1,50.9 137.9,20 96.5,112.5 188.6,33.6 218.2,105.6 219,116 205.1,69.9 132.1,28.4 144.2,10.4 210.8,80.3 259.9,213.5 300.5,287.3 250.2,201.5 204.3,74.7 75.8,186.1 135.1,24.4 170.3,6.6 122.3,50.5 197.6,57 275.1,260.3 149.4,6.4 78.4,173.8 126.7,38.1 118.4,70.6 205.4,77.9 254,206 227.2,137 226,137.7 116.9,64.8 84.1,142.9 109.4,85 138.1,17.7 180,18.4 230.5,139.5 167.1,4.8 271.2,251.5 113.4,77.7 205.6,67.8 227,138.1 160.1,2.5 124.8,38.1 153.9,3.5 104.6,96.6 91.9,138.6 211.3,98 121.9,49.1 243,176.1 317.4,308.8 136,20.1 221.3,110.7 259.7,219.6 81.9,163.1 151.1,5.4 149,6 64.3,205.4 183.1,20.6 198.7,55.4 64.5,201 201.6,62.4 144.4,11.1 197.5,51.5 195,48.9 197.6,60.8 78.1,182.6 150.5,5.5 94.5,125.5 104.7,93.4 237.5,146.6 86.9,145.4 231.6,159.9 279.2,259.1 248.2,198.8 83.7,152.8 59.4,227.2 294.3,285.5 143.7,11.9 123.3,54.2 206.8,75.5 239.9,159 148.7,6.8 191.5,36.7 128,32.6 114.9,61.3 140.5,13.8 138.1,19.4 98.4,112.5 191.3,43.1 226.5,134.9 190.8,39.4 114.5,69.5 203,66 63,209.5 143.3,12.3 246.8,202.6 226.4,121.4 148.4,6.4 302.9,288 225.1,141.1 114.7,76.5 178.1,15.5 125.9,36.9 121,56.7 81.4,171.2 208.5,71.3 292.9,293.2 216.7,98.6 70.7,187.6 61.8,213 175.3,9.9 225,137 255.2,213.8 147.3,7.1 263.3,227.1 101.4,118.6 57.7,231.4 276.8,252.5 311.3,296.7 60.9,231.6 220.9,116.1 213.2,91.3 131.3,29.2 95.5,118.9 169.1,6.6 135.8,19.5 213.9,93.6 114.6,59.9 246.8,162.7 118.3,59.6 261.2,237.1 220.3,107 233.9,154.9 134.6,25 145.1,10.5 236.1,163.7 118.6,64.5 109,86.2 145.5,10.3 183.2,22.4 70.8,186.1 120,57.5 86.7,141.3 232.2,137.4 156.8,2.8 202.9,68.3 72.2,186.5 184,24.1 89.5,138.4 116.9,62.4 124.9,42.3 177.3,14.9 67.8,204.8 181.1,19.4 172.7,9.3 100.6,103.3 241.2,180 232.3,155.8 115.7,57.5 268.6,232.3 132.8,29.9 102.2,108.6 239,150.7 181.9,18.6 310.8,297.7 143.1,11.2 207.5,77.3 177.1,13.2 134.8,27.5 157.7,2.6 157.8,2.6 56.7,223.7 222,106.6 119.1,58.5 107.4,88.2 227.2,123.1 243.2,177.9 171.2,6.7 125.8,42.9 140.5,14.7 175.2,11.1 148.8,6.3 93.8,125.5 90.8,136.5 287.4,283.7 179.4,17.2 122.4,49.6 189.8,35.3 109.9,80 143.2,12.5 267.3,225.4 249.9,182.2 88.8,162.9 85.8,150.2 126.6,41.7 291.1,295.9 175.9,13 126.4,41.2 244.3,189.1 225.9,121 102.9,98.5 83.3,158.8 105.3,92.6 74.1,190.7 117.3,61.2 203.5,70.2 234.7,152.1 167,4.5 207.9,76.5 65.5,194.2 267.6,213.5 296.7,298.1 149.8,5.9 196.1,50.5 226.5,131.3 190.4,36.8 55.5,235.6 131.9,29.6 233.6,158.1 193.3,50.8 64.3,198 122,51 115.7,70.3 114,73.3 147.3,7.5 68.5,215.6 185.7,27.4 111.2,70.1 210.4,78.3 311.1,297.8 58,231.3 173.2,9.7 216.8,95.9 119.8,52.9 300,292.5 124.4,41.2 116.6,65 238.2,168.2 99.2,109.2 127.5,35 180.9,17.4 182.3,20.4 217.8,125.4 110.2,79.2 96.2,104.3 123.7,46 127.6,37.8 180,16.6 216.4,95.1 87.1,148.6 119,55.2 141.4,13.1 194.8,50.7 248.6,186.2 73.5,176.2 269.3,236.7 174.8,12.9 179.5,18.4 65,213.1 177.6,13.7 105.6,97.7 194.7,46.4 211.2,79.7 232.4,162.9 83.5,170.5 106.1,87.4 242.1,198.6 194.3,43.2 211.5,91.2 127.4,42.9 210.8,92.7 79.1,168 114.6,66.5 177.3,12.8 250,197.7 202.7,67.5 105.7,92.8 79.3,159.2 197.9,61.3 92,126.9 163.1,3 124.1,44.7 194.7,44.2 75.5,171.4 68.4,195.9 69.8,198.7 147.2,7.7 243.7,180.6 213.4,94.9 173,9.1 239.6,168 223.9,135.2 247.6,192.5 200.4,67.9 186.4,26.8 184,25.9 180.4,15 103.6,101.4 101.8,94.8 262.9,224.6 53.6,241.6 249.4,190.4 252.6,190.5 189,32.2 84.5,168.9 279.4,269.5 228.9,140.7 243.9,168.5 143.1,11.8 186.8,28.2 144.1,11.1 83.9,156.7 108.9,84.7 128.8,40.4 224.2,121.5 196.6,46.1 223.8,130.7 57.3,216" marker-start="url(#mmgmt)" marker-mid="url(#mmgmt)" marker-end="url(#mmgmt)"/>
<polyline points="310.4,284.4 216,87.5 256.3,12.1 301.3,244.1 188.1,185.1 206.1,104.9 279.3,134.7 258.5,25.4 186.5,199.3 307.3,264.2 233.7,19.4 275,77.8 212.3,83.5 310.9,224.2 290.9,108.1 299.7,151.9 236.4,10.7 253.3,5.9 232.3,30.3 220.2,52.7 295.8,172.4 188.3,163.6 225.1,44 226.5,35 221.3,55.1 182.4,183.9 211.4,100.5 273.7,74.9 227.7,33.1 310.8,230.6 189.7,206.1 285.6,118.7 259.8,13.6 192.2,209.3 226.6,38.9 227.8,37.1 298.9,167.7 273.7,95.6 196.1,179.1 169.7,256.9 191.1,217.5 236.9,13.9 260,15.3 284.2,111 262.4,24.9 237.2,13.4 282.4,118.8 274.1,76.5 308.7,219.1 297.4,182.9 219.3,94.1 174.5,226.3 273.6,47.8 286.7,139.2 214.2,83.4 304.6,204 240.7,7.6 259.3,13.5 190.6,218.4 164.4,251.9 228.4,32.7 198.3,180.7 241.6,4.9 152.8,312.4 211.8,112.3 261.5,28.5 172.9,305.2 224.7,34.3 182.7,214.4 163.4,285.4 292.3,126.6 279,119 224.6,47.5 215.1,60 303.4,177.4 275.3,141.7 243.3,5.7 271.2,78.3 229.7,32.9 264.9,37.7 221.9,49.5 262.1,33.8 230.6,25.2 219.9,54.4 259.6,18.1 275.3,89.7 258.6,15.6 208.7,129.7 268.9,37 189.9,135.3 201.4,178.1 237,20.3 271.4,67.1 269.4,47.7 265.8,30.3 303.4,174.6 272.2,77.8 229.2,37.9 277.2,64.7 233.2,26.1 258.9,14.4 264.5,36.2 238.2,7.9 176.6,231.9 235.2,12.5 239.2,9.4 224.9,42.5 197.9,169.3 176.1,245.2 273,50.5 272.9,71.3 317.2,265.4 271.9,52.3 281,80.6 240.3,5.8 270.4,59.3 253,9.4 265.5,35.5 231.1,41.8 266.9,32.4 298.1,138.6 206.1,121.4 221.5,52.3 185.5,154.4 284.4,92.8 279.2,95.6 213.8,96.6 276.2,84.2 230.1,57.8 224,40.8 263.9,38.2 228.7,30.9 221.5,61 283.9,97.5 288.1,163.7 351.7,305.9 217.8,54.8 232,24.4 172.8,225.1 196.4,168.2 266.7,48 258.8,12.9 254.6,11.3 265.3,29.1 214.1,103.6 174.2,246.9 280.1,134.6 296,144.5 243.6,3.2 274.8,74.3 225.6,48.2 244.6,2.7 240.1,8.6 257.5,19.9 298.7,193.1 267.5,56 142.9,316.2 241,5.4 245.4,2.6 275.7,83.2 213.4,76.1 208.6,91.2 231.9,22.9 219.4,77.2 289.6,197.7 267.7,49.8 280.2,114.5 338.9,286.1 234.9,11 235.1,18.6 193.6,173.5 223.5,62.9 204.2,117.8 263.9,33.3 265.1,29.7 291.9,97.2 210.9,87.5 297,119.8 206.1,125.2 305.6,175.9 305.7,166.1 284.9,138.9 329.2,283.4 278.4,131.3 236.3,13 236.1,10.7 215.9,85.3 254.4,10.3 222.4,81.2 220.3,58.5 203,123.7 174,243.1 347.1,305.1 274.7,103.6 144.1,282.6 263.4,31.2 224.6,48.5 153.3,287.4 240.4,9.8 254.4,9.2 268.4,49.9 291.8,145 206.4,97.7 265.5,64.2 266.5,45 261.9,25 250.2,4 285.9,170 208.6,174.4 183.1,214 318,248.8 263,29.5 279.4,148.2 257.9,11 238.1,21.6 229.7,32.2 254.1,6.1 228.8,33.3 285.7,95.7 272.4,91.2 312.3,233.2 219.1,67.1 290.3,124.6 258.4,25.1 161.4,301.9 262.1,27.1 228.4,29.7 230,22.7 221.2,64.7 290.4,166.8 273.3,78 256.5,14 298,159.8 284.3,125.7 215.1,79.4 208.4,121.4 214.1,112.9 282.8,93 297.1,180.3 275.3,55.3 242.7,4.4 201.1,156.1 241.2,6.8 330.7,298.1 228.2,51.9 219.5,73.7 304.4,207.7 249.3,3.1 205.6,125 224.7,39.7 253.2,7.7 284.8,147.6 321.6,308.8 304.1,208.6 282,77 221.1,69.3 279.2,66.8 297,195 279.4,111.3 272.3,82.4 288.2,145.3 249.2,4 295,149.8 278.1,83.5 297.8,165.2 224.9,65 287.5,196.7 202.8,117.8 243.9,3.4 200,153.2 210.3,109.1 232,19.9 287.2,127.7 200.4,174.5 308.5,229.4 253.5,12 260.9,62 296.5,206 215.4,130.8 184.9,202.2 214.5,84.7 259.8,22.3 266.4,31 233.7,21.9 217.6,61.4 241.7,4.2 195.4,139.7 191.8,222 261.1,30.6 204.1,164.6 230.7,34.8 151.3,295.6 205.6,162.9 203.1,184.3 263.8,24.9 224.4,31.5 258.9,17.2 217.5,53 184.8,207.1 272.1,61.8 228.9,49.5 261.4,17.8 217.2,80.1 232.9,26.5 287.5,156 208.7,122 221.3,51 264.7,56.4 156.9,315.9 264.4,39.4 297.6,255.9 255.3,10.8 171.9,267.4 290.7,176.7 333.4,302.3 267.7,40.5 194.7,143.5 212.5,71.9 252.5,5.5 285.1,145.8 170.2,294 231.6,19.8 306.6,253.5 222.6,54.8 187,198.8 235.8,19.8 172.8,260 287.9,130.7 240.4,7 276.9,82.6 269.2,37.4 302.9,187.8 297.1,229.4 234.7,30.3 291.6,123.3 251.3,4.9 219.1,56.2 218.9,100.4 223.6,42.1 111.1,319.9 302.4,253.5 274.1,68.9 269.8,63.3 253.3,6.4 218.8,81.5 263.1,35.1 247.8,2.8 239.6,5.7 255.2,10.4 226.4,49.3 267.3,58.5 292.3,119.9 250.1,5.1 273.6,86.7 253.5,6.9 143.7,293.4 172.8,267.7 237.2,9.2 198.1,146.1 271,46.4 194.8,182.3 226.2,28.2 224.1,46.1 210.9,77.1 249,3.6 229.9,43.2 253.1,6.5 264.4,42 237.9,8.6 223.5,67.6 213.7,65.6 227.4,36.1 228.7,43.5 249.3,3.4 363.9,310.6 285.2,145.7 247.8,2.7 276.3,52.2 272.2,51.5 295.7,173.1 297.6,200.9 206.2,113.8 315,292 227.7,93 219.6,87.7 164.6,237.5 176.2,248.3 313.5,273.5 295.6,213.8 206.4,114.7 208.9,139 300.8,215 210.5,109.8 265.8,37.4 328.4,279.8 278.1,86.1 317,216.2 258.9,12.5 196.5,235.7 204.7,82.6 176.5,247.3 262.7,21.2 201.3,175.7 252.6,6.1 227.2,34.9 219.5,64.3 269.8,43.3 227,32.1 219,88.7 285.5,126.6 183.3,206.8 291.3,161.6 193.4,196.9 255.6,11.3 264.1,43.6 238.1,12.3 206.8,90.7 234.4,17.8 232.6,20.2 207.6,143.1 286.3,97.5 216.8,53.3 218.7,73.6 304.4,193 220.4,75.9 170.8,218.4 243.2,3.2 332.6,281.8 222.9,47.4 302,188.2 277.9,102.7 299.4,207 242.4,3.8 234.2,17 239.8,8.1 262.8,18.4 283.8,120.7 307,238.5 184.1,248.6 293.6,142.2 264.2,26" marker-start="url(#mlower)" marker-mid="url(#mlower)" marker-end="url(#mlower)"/>
<polyline points="394,121.4 375.6,24.5 375.8,24.1 336.8,152.9 403.2,203.6 384.9,84.7 371.4,7.3 349,54.8 395.3,190.2 343.5,98.4 350.4,83.4 427,288.3 382.5,56.6 388.1,112.7 382.7,75.8 404.2,287.2 377.4,29 378.4,41.9 345.9,100.2 332.5,219.3 357.8,23.1 380.3,77.1 411.5,195.2 350,66.8 341.3,139.5 373.8,14.7 354.7,101.6 407.5,245.8 397.2,178.2 345.6,122.2 372,10.8 388,181.8 343.8,109.8 352.7,37.2 364.8,3.3 392.1,195.5 377.3,36.4 360.2,11.4 373.1,18.8 366.9,2.7 370.3,7.2 375.1,36 378.4,61.3 361.5,16.1 357.1,18.5 328.1,234.1 350.1,41.3 398.6,252.6 378,36.8 385.1,92.7 352.5,43.5 356.6,24.9 376.1,35.5 351,122.2 383.3,97.8 384.8,58.6 370.9,7.7 371.8,8.7 380.8,67.3 313.4,307.8 377.7,34.3 342.2,123.5 352.2,45.2 351.9,34.9 356.4,34.1 320.4,246.2 329.4,271.1 362.9,4.4 375.4,26.2 334.4,181 356.4,18.3 384.5,84.1 357.6,24.4 354.3,53.5 416.5,278.8 331.3,239.8 348.2,89.7 339.8,145.3 352.8,39.6 433.7,318.7 338.6,133.7 357.7,14 356.1,44.3 343.9,82.4 392.6,95.5 356.3,32 394.6,144.2 393.4,206.9 354.4,34.2 398.8,206.5 337,156.5 373.6,23.2 388.7,141.8 344.2,122 377.7,45 380.9,61 374.1,27.8 414.2,281.9 385.7,178.1 420.1,291.7 354.4,46.6 359,21.4 347.6,120.6 382.3,85.9 397.6,215.3 323.9,241.9 349.5,99.5 351,45.5 414.1,298.1 358.2,15.9 378.8,34.3 344.1,151.6 392.6,118.8 335,121.3 341.1,118 373.2,17.1 372.6,15.9 416.9,267.4 348.2,62.6 400.4,203.6 378.1,27.3 376.7,26.4 373.5,20.8 395.4,115.4 392.4,108.8 377.7,72.2 373.2,21.8 332.2,215.4 392.4,117.5 401,166.8 377,35.9 376.2,27.1 345.9,78.9 373.4,24.1 391.6,119.8 337.7,167.1 356.7,23.5 392.8,188.1 358.4,22.8 323.5,248.2 398.7,199.1 357.5,23.1 371.6,14.8 406.7,251.4 361.4,8.2 361.3,8.5 379.8,36.8 347.3,72.7 320,234.9 371.7,9.5 358.9,16 377.9,29.4 370.7,8.7 381,52.9 344.9,129.6 375.6,25.1 346.3,97.6 376.6,28.1 354.5,23.4 423.3,249 342.7,93.9 312.3,292.1 355.7,27.6 346.6,101.9 372.3,12.9 405.6,242.4 363.3,4.8 346.6,64 398.6,207.9 392.2,156.2 354.7,41.9 380.9,77 351.6,66.3 350,55.9 345.3,88.9 379.9,45.6 400.3,217 415,252.6 328.5,272.6 332.5,245.1 386.2,103.4 396.2,176.5 314.2,255.4 355,85.5 333.8,218.2 342.7,110 337.2,136.4 346.1,93 333.9,168.5 344.7,104.9 358.3,17 386.6,141.6 351.7,37.4 373.4,35.8 356,34.5 403.1,165.6 385.5,61.6 383.1,66 348,122 360.4,11.3 379,34 390.5,115.9 349.5,72.5 352.9,53.9 327.8,198 328.8,225.7 391.6,125.7 380.4,35.6 391.3,127.2 335.4,139.9 348.2,60.7 375.2,24.1 387.7,187.8 387.8,120.3 348.3,73.1 340.7,86 378.3,32.6 380.1,41 373,11.2 391.3,171.4 371.6,13.1 394.6,202.3 378.5,43.9 338.9,143.4 372.7,18.6 388.1,105.4 370.1,8.1 335.9,114.1 325.3,256.7 357.2,12.9 419.1,249.7 344.2,141.7 353.7,31.6 384.2,119.1 340.9,115 373.9,16.8 341.8,151 376,28.3 340.3,124 370.3,7.6 380,58.7 368.4,4.1 340.9,163.9 383.8,69.7 377,74.5 371,6.8 386.2,91.9 354.7,30.2 344.2,87.1 362.8,6.4 382,37.7 384.1,105.1 348.7,64.1 371.8,10.3 354.7,34.5 328.1,272.7 323.5,238.8 380.3,111.1 330.9,212.5 325.9,251.4 323.2,203.2 357.9,20.9 394.2,170.9 373.5,20.7 355.6,37.5 358.7,18.8 376.8,27.2 324.9,248.6 388.4,158.6 339.6,137 361.1,11.8 375.2,28.3 357,19.3 408.4,252.7 359.9,15.5 383.9,119.9 333.3,147.1 382.6,61.6 377.1,23.3 392.5,157.7 402.6,229.7 398.1,139.1 373.3,21.5 381,49 388.4,101 347.6,77.2 337.4,113.2 383,89.1 342.1,135.2 362.2,10.5 402.7,254.9 387,113.5 394.8,174.4 395.7,157.8 348.9,84.5 353.1,79.6 362.6,5.4 349,63.3 392,180.5 363.1,5.4 331.5,149.4 391,105.2 386.3,73.6 397.4,159 337.5,153.9 347.5,92.8 307.9,291.3 374.8,23.4 352.4,48.1 397.5,183.6 345.2,79.8 355.4,40.3 336.6,103.3 344.8,130.9 359.9,10 357.7,25.6 340.3,152.2 332.5,194.1 357.2,62.5 363.1,5.1 346.8,111.4 354.4,38.3 355,29.1 339.4,125.3 319.8,223" marker-start="url(#mmed)" marker-mid="url(#mmed)" marker-end="url(#mmed)"/>
<polyline points="516,68.5 543.5,167.1 496.5,8.4 528.5,106.7 553.3,198.6 536.8,183.6 452.1,95.4 506.6,35.8 504.2,45.1 516.3,63.2 483.4,3.8 506.9,39.5 473.4,22.1 516.3,108.5 452,94.2 428.2,180.6 541.5,147.3 409.3,267.8 482.3,5.7 529.4,107.4 478.2,7.8 480.3,7.8 411.9,255.4 528.6,127.6 448.4,132.1 456.9,85.6 537,152.9 456.1,113.4 437.7,192.8 518.9,183.8 456.2,64.1 504.5,29.3 427.6,218.9 525.1,128.4 445.4,134.3 504.6,31.3 450.2,107 532.6,114.3 457.4,106.4 431.4,188.1 531.6,160.6 432.8,266.4 477.5,10.2 381.8,315.4 527.6,154.1 445.4,131.6 540,184.4 576,275.6 479.8,6.7 460.1,79.4 428.6,210.2 540.5,180.9 423.3,205.9 459.4,90.1 473.6,18.8 538.3,144.9 520.3,96.5 453.9,63.6 493.7,7.2 468.5,32.9 476.8,14.6 562,287.2 505.2,35.6 476.3,13.8 448,140.7 423.2,203.7 522.7,76.9 514.8,94.9 558.8,230.3 443.9,134.7 519.2,81.8 421.1,173.5 519.6,69.8 511.7,50.8 497.2,11.4 478,17.4 465.5,38 473.4,23.9 405.8,273.2 515.4,68.1 434.9,155.3 495.5,6.5 521.7,76.3 521.3,129.9 467.9,24.5 454.9,102.5 483.2,3.6 526.8,83.3 503.5,31 494.8,8.8 553.7,160.9 501.6,21 508.2,67.5 473.9,21.7 567.3,227.8 518.9,74.2 448,104.3 448,95.8 569.1,262.8 499,16.3 546.8,259.1 592.6,304.7 495,10.1 502.9,25.1 532,108.1 451.6,92.8 415.4,251.1 568.1,274.2 454.9,76.1 542.1,232.1 494.6,7.3 538.8,135.2 506.3,30 443.4,162.8 462.3,65.9 493.2,8.5 540.3,143.6 432.9,215.3 509.3,51.7 470.2,29.8 478.3,10.3 519.1,91.8 421.1,256.4 449.4,100.4 504.5,21.8 433.6,202.8 539.3,195 335.9,319.2 525.4,154.1 517.5,88.9 463.5,56.5 459.3,73 557.7,271.6 505.8,44.2 497.7,18.8 445.2,196 401.3,270.7 493.6,8.5 550.2,210.6 517.3,67.6 480.6,6 474.6,19.6 542,188.3 511.6,61.5 499.2,21 589.2,289.9 467.1,47.9 442.1,109.3 478,9.6 467.8,40.5 463.4,47.6 517.9,63.1 506.4,49 425.1,247.8 463.5,65.9 407.7,263.6 513.1,59.6 492,5 456.3,64.9 497,11.1 466.5,36 507.4,36.3 457.2,74 532.9,112.1 505.1,26.4 465.4,56 440.1,185.6 500.3,14 532.8,143.9 544.3,203.3 513.8,77.7 541.8,180.8 413.2,218.9 458.4,66.8 490.5,3.8 496.2,10.5 481.2,6.4 469.3,30.1 385.3,292.3 544.6,150.2 519.2,80.8 460.1,63.9 526.3,126.6 535,156.8 468.7,43.2 445.8,115.8 421.3,241.5 502.5,28.9 458.8,62.9 508.4,45.9 540.8,140.4 500.7,17.2 549.8,217 471.7,28.7 455.2,92.4 500,14.5 433.1,253.1 440.4,148.3 545.9,182.4 452.7,90.3 477.2,11.9 463.3,42.1 562.6,283.8 532.1,141.4 570.2,269.2 448.2,121.8 494.8,7.4 570.8,270.4 442.5,180.2 461.6,117.4 452.7,119.3 474.7,23.7 517.2,85.9 540.6,219.3 529.6,155.6 544.8,188.2 502.4,22.7 465,45.9 441.9,110.9 451.2,111.2 428.6,171.2 506.7,46.1 458.2,103.9 471.9,18.4 576.5,283.6 508.7,37.4 509.9,40.7 475.8,12.3 451.3,112.4 510.4,49.2 472.1,29.9 479.6,7.8 460.1,61.1 502,24.3 362.1,293.9 452.2,124.2 572.4,262.3 440.6,126.8 499.9,20.1 539.1,144.8 535.6,142.7 465,46.3 522.8,106.8 497.5,11.3 463.3,42.8 391.3,258.3 465.4,47.1 415.8,231.6 505.1,25.8 560.3,248.8 427.8,222.9 430,237.2 477.4,13.1 527,91.3 431.3,170.8 419.5,268.3 444.7,144.3 625.5,319.6 442,147.7 457,75.6 521.1,79.7 508.5,39.7 466.8,45.7 386,319.1 507.8,42.5 465.8,63.7 536.4,169 503.6,36.3 406.3,278.4 479.6,6.2 464.4,44.2 498.4,22 509.7,43 465.9,39.6 510.4,52.1 544.2,212.2 479.2,7.9 498.9,14.1 479.2,10.5 497.3,12.7 513,87 475.5,22.1 512.3,65.1 545.8,240.7 478.8,10.2 446.7,83.3 469.8,27.7 511.1,65.3 498.9,26 465.7,54.5 400.4,310.7 501.6,38.4 506.6,31.7 503,28.7 457.3,72.4 362,295.1 471.1,25.5 455.7,84.7 511.4,50.7 547.5,224.5 518.7,102.8 475.9,15.5 524.8,92.5 467.2,42 513.2,85.1 491,4.4 471,34.9 504.4,29.8 548.8,207.8 483.8,3.7 552.8,212.5 505.6,31.1 500.6,16.7 553.2,286.3 376.6,301.3 441.8,198.7 470.1,38.8 552,209.9 552.7,244.2 511.5,38.3 469.3,31 445.1,163.1 520.3,88.5 511.6,59.4 471.5,18.8 551.2,184.8 573.9,272.7 462.9,59.3 511.6,53.4 440.4,130.8 506.1,41.6 450.3,128.2 502,19.1 584.6,291.5 474.4,18.8 555.9,250.4 537.5,234.8 556.2,212.9 447.5,162.4 497.4,15.5 519.1,103.8 470.8,19.6 457.8,65.6 451.8,134.8 649.7,319.3 398.7,264.3 522.8,127.7 478.8,17.3 549.9,196 542.6,211 452.9,99.8 480.1,6.1 522.9,78.1 526.5,123.3 515.5,66.3 468.8,29.3 528.2,173.3 518,63.3 514.7,71.1 476.6,12.5 524.5,107.5 476.5,11.3 555.9,214.5 518.2,53.8 403.4,288.7 516.3,89.3 516.6,72.3 495.6,10.1 532.1,125.4 438.3,188.7 508.7,42 504.7,24.5 463.6,49 432.8,152.8 478.8,7.6 437.4,222.9 495.4,8.1 524,103.7 544.3,208.3 508.1,47.3 553.9,199.6 450,91.1 415.1,272 550.1,198.9 439.2,155.7 408,260.3 504.8,24.4 480.4,6.5 475.2,12.3 437.4,181.5 467.7,32 534.8,176.5 426.6,208.4 496,9.3 539.3,206 457.7,138.8 520.3,74.9 518.9,78 457.3,74.7 516,76.7 528.1,116.2 465.5,44 421.3,202.2 496.7,10.5 495.5,10.3 519.8,77.8 542.3,209.6 537.3,163.2 517.8,118.9 546.4,192.3 534.5,174.6 476.4,13.4 469.7,26.9 434.4,179.8 467.7,26 491.5,4.3 515.2,70.3 491.7,5.7 461.6,84.1 545.6,189.9 424.5,231.4 541.4,152.1 494,6.8 502.5,24.6 461.3,49 571.7,248 505.5,29.4 357.5,317 464.9,36.8 463.3,51.8 435.7,150.6 558.4,248 482.2,4.3 459.2,65.5 527.8,107.6 514.7,69 427.1,179.2 511,50.4 390.2,298.8 386.3,311.3 477.5,11.5 569.3,251.9 510.6,52.9 456.1,95.5 481.2,5.4 505.3,45.1 452.1,83.4 464.2,36.7 523.5,108.8 544,171.4 469,52.4 555.7,220.3 530.6,191.3 457.7,83 460,61.4 434.1,172.3 454.7,85.8 387,294 598.7,306.6 511.3,72 562.5,269.9 402.3,261.5 474.4,14.6 473,20.6 461.8,37.3 432,192.7 457,77.7 573.4,287.3 441.4,145.9 565.8,212.6 502.3,25.6 517.5,93.5 534,158.9 443.4,124.5 507.8,33.6 611,313.7 505.5,33.3 529.1,137.1 496.2,11.5 503.4,27.7 498.8,17.5 541.3,146.2 501.3,21.7 516.9,115.8 463.4,58.1" marker-start="url(#mhigher)" marker-mid="url(#mhigher)" marker-end="url(#mhigher)"/>
<polyline points="632.3,72 671.9,6.2 637.9,85.9 678.6,2.7 631.4,92.5 592.1,235.4 620.2,114 656.9,25.8 617.9,161.5 627.4,89.1 583.2,216.9 658.6,16.6 665.8,15.7 607.5,137.4 515.4,306.7 649.4,35 538.4,284.8 653.5,41.6 678.8,2.7 671.7,5.4 625.6,121.1 579.1,192.2 647.7,29 595.8,237.7 564.6,237.1 612.5,113.5 532.4,290.5 659.7,32.1 596.3,196.4 597.4,191.9 584.7,182.9 613.1,172.6 669.8,6.3 672.8,4.4 650.6,40.3 645.4,48.2 668.7,8 669.6,7.6 664.2,11.7 562.9,223.3 657.5,18.2 648.1,53.5 626.9,145.9 648.7,46.9 668.5,9.5 661.8,16.9 642.7,56.9 612.4,121.3 621.3,185.5 668.2,13.4 667.4,19.9 660.5,17.2 626.7,107.7 649.8,28 587.3,189.8 640.7,80.3 649.1,40.4 611.2,107.3 670.6,7.2 644.4,33.8 552.1,304.9 666.5,14 662.6,19 656.8,18.3 649.5,42.1 635.9,68.6 628.4,74.1 500.9,313.3 615.9,99.4 599.9,149.4 619.5,83.4 673.8,3.6 635.5,55.8 615.8,119.4 635.9,107.8 530.3,312.6 598.2,223.1 638.6,49.6 671.8,5.5 629,85.8 644.7,86.4 637.3,54.4 626.5,81.1 636,83.2 617.4,96.9 585.5,143.3 635.6,63.1 557.7,231.2 596.2,149.2 653.1,43.5 574.9,190.7 598.5,196.7 563.5,263.2 647.8,36.3 639.4,83.2 586,272.2 653.2,22.4 648,35.8 620,149.7 641.1,44.1 639.1,107.5 644.8,69.3 629.1,173.5 638.3,112.3 629.6,84.4 604.6,160.1 624.3,76 628.2,92.1 650.6,31.4 491.4,310 614,106.1 670.7,6.5 617.1,146.5 610.4,146 644.2,37.4 664.3,14.9 595.2,211.1 613.9,227.4 617.7,127.4 608.2,113 615.7,102 635.4,66.1 635.5,75 540.5,282.6 660.4,22.7 541.2,302.8 651.9,36 585,196 656.4,20.8 628.7,69.9 579.4,206.6 623.5,86.1 614.6,152.3 620.7,120.1 647.1,55.7 563.3,230 558.2,262.2 590,196.7 653.1,44.3 669.2,7.4 632.4,72.6 539.4,258.5 637.6,92 666,12.8 654.6,30.8 588.1,133.2 614.3,137.2 674.2,4.2 600.7,168.1 643.4,75.9 596.9,255.8 546.6,292.4 634.8,67.4 643,31.2 598.3,148.9 575,260.5 576,262.6 631.2,83.3 667.6,11.7 660.5,22.8 624.4,66.1 609.3,163.8 660.6,15.2 656.5,27.2 667.5,7.7 615.2,144.3 608.9,124.9 610.9,173.7 659.1,24.3 644.6,49.6 626.8,77.5 619.4,84.3 648.5,54.9 625.9,73.1 648.7,31.3 577.2,196.8 591.2,184.9 572,207 641,30.2 602.6,128.5 592.8,171.1 663,11.1 674.1,6.4 600.3,201.9 642.9,68.3 672.1,4.4 655.7,39.2 641.8,58.6 619.6,144.3 657.6,25.9 661.1,20.9 654.7,27.5 645.1,34 652.9,20.4 664.5,9.7 638.6,40.9 608.9,146.5 582.3,209.1 428.3,319.1 634.9,75.8 626.8,118.9 657.1,28.2 638.8,90.1 620.8,137.4 618.1,91.2 641.9,38.2 596.6,206.9 588.1,207.3 667.9,16.3 623,109.4 652.3,26.6 625.8,97.3 643.2,58.4 613.8,123.2 648.1,43.7 625.2,106.6 643,71.8 549.9,243.6 634.3,109.1 601.3,135 635,74.4 615.1,124.3 635.5,48.7 675.2,3.8 651,45.1 671.6,5.1 635.4,161.9 666,11.5 669.8,7.4 602.2,193.1 650.1,35.6 624,103.1 633.2,83.5 657.7,32.6 597.6,187.8 656.7,20.7 645,84.6 606.9,167.5 649.8,32.1 659.6,17.5 669.4,9.6 574.9,238.2 627.7,52.8 661.2,16.8 593.8,200.2 664,11.2 586.6,207.8 666.1,11.1 614.5,158 669.1,10.1 589.8,153.6 560.9,274.3 596.1,249 561.2,239.6 654.7,25.1 637.4,86.9 563.5,245.5 632.9,88.7 625.6,81.1 664.9,12.2 595.7,190.4 559.3,229.6 626.3,85.7 656.8,28.5 641.3,40.7 611.6,151.1 534.7,255.2 600.2,226.3 644,55.8 566.5,260.3 629.4,136.1 617.9,165.7 670.7,5.9 560.4,213 674.3,5.3 522.7,269.4 596.7,169.1 608.1,105.9 646.9,32.7 667,11.3 662.6,12.5 659.2,17.1 615.9,96 615.4,124.9 645.5,31.3 659.9,18.6" marker-start="url(#mhigh)" marker-mid="url(#mhigh)" marker-end="url(#mhigh)"/>
<polyline points="68.6,18.6 97.7,65.7 145,185.2 146.1,191.6 164.7,264.9 173.1,249 90.6,52.6 158.9,257.4 80,36.2 139.8,205.4 70.8,17.2 148.7,201.2 205.6,305.7 139.7,180.3 92.8,127.3 96.6,93.2 139,180.5 57.8,5.3 62,9.6 70.8,27.3 102.2,92.6 147.2,212.5 95,73.3 110.6,107.4 182.9,290.5 77.1,33.4 154.2,219.1 132,156 106.7,125.1 137.8,159.3 76.4,53.2 166,290.6 186.9,270.7 73.6,28.4 95,60 130.2,170.7 70.1,24.4 67.2,10.7 86.3,72.5 66.3,10.6 63.5,9.6 222,301.2 100.1,85.9 117.5,183 59.7,5.4 126.5,190.5 127.6,129.6 114.6,137.3 106,118 100.4,91.8 71.9,22.5 86.9,34.8 70,14.1 117.7,163.5 115.9,122.8 57.3,5.1 205.5,308.2 107.5,117.6 115,140.7 88.6,54 122.7,135.5 83.2,51.9 124.5,186.5 153.5,240.9 53.4,2.6 75.2,30.4 87.8,45.6 185.2,282.5 163.6,265.8 83.8,42 118.1,132.4 96.6,95 64.9,9.6 107.1,97.4 100.7,83.9 83.1,28.7 186.8,290 73.9,20.2 100.1,103.8 99.4,71.3 93.4,93.7 78.4,27.5 68.5,13.6 193.5,257.1 171.1,237.7 88.9,45.5 102.3,77 143.7,239.7 53.2,2.8 86.9,41.2 148.9,306.1 155.2,239.5 93.5,87.5 90.8,68.9 84.6,46.3 80.7,26.2 173.5,255.9 71,24.4 98.5,119.1 82.2,46 72.8,20.3 72.5,27.1 133.1,175.6 117.7,159.1 96.7,84.5 67.9,12.2 84.3,43.5 98.9,88.1 84.7,59.7 179,286 81.2,31 117.9,128.4 131.2,141 84.9,51.5 162.4,243.6 145.3,155 76.2,19.2 124.5,197.7 63.1,7.8 97.3,106.6 64.6,14.3 80.2,44.4 94.7,67.3 160.2,253.9 97.9,108.9 93.7,79.8 129.8,142.9 215.3,313.4 97.3,57.1 87.1,45.6 120.3,135 91.3,62.1 60,4.3 108.2,86.4 92.3,56.6 84.4,83.7 82.7,45.4 66.7,11.8 84.8,37.8 139,178.2 110,116.1 91.6,71.1 67.7,11.1 95.5,101.6 69.4,14.2 88.3,58.1 173.5,265.5 121.5,161.2 70.5,18 120.4,122.3 92.3,71.5 86.2,80.6 172,298.3 67.5,16.3 124.9,248.4 124.3,128.2 125,120 57.9,4.5 137.1,174.7 93.7,97.5 65.3,8.9 112.5,121.2 94.3,49.5 62.6,6.5 71,15.5 84.4,48.8 74.2,48.8 140.6,184.3 166.1,259.6 121.3,181.8 74.3,33.4 108.2,165.9 112.9,98.6 92.6,73.6 121.8,159.7 92.6,89.8 222.6,301.9 64.6,14 91.5,46.6 83.3,68.7 132.2,182.3 83.8,62.8 79,34.6 143.5,198.8 104.3,78.9 68.1,16 122,155 134.6,213.3 136.8,222 78.8,34 68.2,13.4 108,119.6 66.2,14.7 71.2,18.6 157.8,239.5 70.1,18 56.8,3.6 158.3,244.3 213.7,312.7 169.5,242 119.6,129 104.9,75.3 73.1,24.4 74.7,37.6 67.5,27.7 84.8,43.8 64.9,7.2 93.8,60.4 86.4,44.9 81,60.4 156.5,219" marker-start="url(#mlow)" marker-mid="url(#mlow)" marker-end="url(#mlow)"/>
<polyline points="190.8,36 145.3,8.9 127.4,37.2 92.2,137.5 265.2,230.6 99.6,106.3 248,181.8 100.4,101.1 83.3,153.4 195,49.7 180,17.8 209.1,78.2 95.3,136.9 113.7,69.1 172.5,8.7 207.7,65.5 94.1,137.3 141.8,11.6 266.4,220.4 109.1,82.5 165,3.8 200.5,66.6 124.5,45 122.2,52 76.8,170.5 311.7,299.9 95.2,120.8 238.8,167.2 59.4,220.9 260.3,233.9 131.3,35.3 50.5,242.2 95.1,112.8 113.1,66.5 182.8,19.8 71.9,185.5 367.2,317.5 212.3,91.8 145.3,9.3 120,51 354.9,311.8 107.4,86.2 261,210.9 99.5,116.6 196.6,49.9 246.3,197.3 259.7,208.3 195.6,45.3 169.4,6.4 78.8,169.7 317,304.8 261.4,219 206,75.2 254.7,217.2 160.7,2.6 87.3,149.9 222.3,117 98.6,120.2 124.8,43.8 210.1,81.6 142.6,15.7 84.8,158.1 81.1,167.6 145,9.8 138.8,15.8 70.8,216.7 75.9,177.2 105.2,91.2 227,122.1 116.7,68.1 125.3,39 109.6,92.2 215.4,96.6 134.2,21.3 201.9,65.9 79.8,185 152.4,4.4 100.3,113.4 120.3,57.6 81.3,162.5 212.3,84.3 132.2,31.8 191.3,33.6 86.9,152.7 199.7,61.5 201.5,69.3 202.8,63.9 203.5,64.9 93.9,121.5 241.9,148.1 98.3,120.5 316.2,296.2 97.7,113.7 164,3.2 194.4,49.4 120.9,53.4 102.1,98 189.9,32.6 231.3,152.8 233.8,153.2 67.9,199.7 282.2,249.2 109.8,81.1 129.2,36.6 284.4,258.6 215.6,112.4 137.6,20 61.1,241.7 141.7,14.2 118.9,53.2 246.7,182.1 222.1,114.7 275.6,235.8 123.1,50.2 79.5,168 218.8,110.2 270.8,246 207.7,81.9 208.1,88.8 196.2,50.8 69.1,211.1 206.7,81.3 57.1,231.2 181.3,19 201.5,57.8 87.8,154.2 118.7,56.6 178.6,15.9 162.7,3 101.1,100.3 327,307.6 124.3,48.5 272.5,235.1 77.7,162.3 118.2,59.3 247.3,192.8 211.6,102.4 270.1,236.7 197.1,57.8 118.7,55 130.5,31.4 233.8,139.5 200,59.3 244.5,177.5 112.9,68.7 134.4,22.5 243.5,182.5 238.2,164.4 174.9,9.8 69.1,199.2 232.3,160.5 61.3,213.8 167.9,5.2 195.8,53.7 213.7,96.8 119.6,61.8 90.4,134.6 136,21.7 184.4,23.3 130.4,33.7 115.3,60.4 190.6,39.5 214.8,94.3 178.6,15.2 92.7,132.7 294.3,291 93.5,141.4 135.9,22.4 218,112.5 94.7,119.9 246.5,182.5 224.9,124.5 199.5,56.3 138.9,18 70.1,199 235.9,141.2 100.9,99.4 212.9,89.7 223.1,111.3 213.6,90.8 309.6,303.8 201.1,62.1 141.8,15.1 199.1,51.8 187.1,26.7 210.4,88.3 220.3,117.1 289.9,287.1 223,125.5 128.9,39.5 306.1,297.8 220.9,113.9 310.6,294.6 241.2,162.2 65.2,204.6 181.8,19.9 211.5,85 150.9,5.9 91.5,141 233.4,145 128.7,38.7 269.8,241 197.8,61.1 203.4,65.5 212.2,90.4 130.8,30.5 135.8,21.1 247.5,197.3 107.8,85.9 208.9,85.6 130.4,36.2 76.9,178.6 121.5,48.2 101.1,105.5 202.5,64.6 269.6,249.3 207,79.3 222.7,115.4 121.6,57.5 223.1,107 117.2,62.2 107.2,76.4 190.4,33.2 214.3,91.9 181.4,19.6 132.8,26.1 183.5,24.4 187.8,32.7 240,185.5 81,163 85,151.6 107.7,86.4 112.8,75.8 268.1,260.4 106.6,93.3 117.2,63.6 136.1,20.6 105.8,88.7 120.4,50.9 217.2,105.4 258.4,210.2 126.9,42.6 224.3,145.5 193.4,44.9 130.4,38.2 201.1,68.7 129.9,32.9 188.3,36.1 97.6,121 123,46.3 205,72.4 212.8,92.2 231.5,147.7 247.2,213.9 98.5,108.8 124.5,51.7 226.6,126.8 188,33.1 186.1,27.4 197.1,46.9 143.1,13.6 244.1,197 102.1,96.9 208.4,87.5 131.6,32.3 108.1,83 295.4,285.7 143.3,11.4 212.2,89.2 117,62.8 251.5,181.7 193.2,42.7 198.4,49.9 206.4,74.4 222.2,116.6 196,52.4 209,86 186.7,28.5 175.2,11.8 242,165 218,110.1 177.4,14.5 122.5,54 205.6,68.4 90.6,142.8 102.3,105.7 98.1,107.9 267.2,241.8 73.3,188.5 211.8,102 94.3,132.9 197.4,58.5 225.9,122.7 289.7,272.7 216.6,117.5 189.6,34.9 204,69.2 168.6,5.8 237.3,163 122.3,52.2 230.1,136.7 130.7,38.9 126.4,37 209.6,88.3 203.3,60.5 170,6.4 314.5,292.4 68.1,200.4 76.9,189.8 67,210.9 64.2,198.5 155.9,2.9 120.8,56.9 193,38.4 99.6,115.7 272.9,251.2 83.8,146.3 124.2,42.7 68.4,194.7 224.7,116.7 220.9,110.5 204.8,80.1 270.7,249.3 100.8,101.2 189.2,33.2 218.4,102 82.2,156.6 118.8,61 195.5,43.7 51.5,248.2 191.8,39.5 56.3,223 98.4,126.9 195.4,42.4 235.9,173 214.3,94.8 344.1,315.2 77.4,163 108.7,76.3 223.6,130.6 100.5,124.2 97,113.8 279,252.5 116.2,63.4 103.8,99.5 210.4,91.5 289,257.1 93.3,145.9 118.2,60.7 203.1,80.8 57.6,210.9 250.2,204.7 229.4,136.1 105.8,97.8 91.6,139.8 198.3,55.1 210.5,80.5 265.6,233.5 93.1,129.5 218.7,118.2 88,156.1 217.7,114.4 214.8,92.1 111,76.6 265.1,224.4 71,196.2" marker-start="url(#mmgmt)" marker-mid="url(#mmgmt)" marker-end="url(#mmgmt)"/>
<polyline points="201.6,126.7 257.9,23.2 179.4,253.5 293.3,176.3 210.6,106.5 242.5,5.4 280.9,54.7 201.2,181 282,99.2 265.9,31.6 316.3,226.7 259.9,19.2 244,4 184.2,261.9 231.5,19.7 303.9,240.2 232,29.4 234.1,34.3 283.6,102.9 186.6,247.3 317.3,259.4 270.4,56.9 327.8,275.5 229.1,27.1 285.6,96.2 251.6,5.3 201.1,168.6 273,78.3 238.3,11.8 229.2,23.6 212.9,94.5 200.1,140 249.7,4.1 207.4,107.6 271.4,54 301.1,184.9 281.6,126.6 239.7,11.6 263.2,32.3 208.2,146.9 266.7,33.9 227.4,34.2 296.7,196.2 220,64.1 255.9,8.9 212.9,75.8 273.4,62.6 274.1,64.6 209.7,119.4 323,274.7 268.7,42.8 192.6,196.7 210.6,101.3 187,254.7 187.2,273.3 242.9,4.6 170.6,280.4 265.3,27.2 172.5,230.6 234.3,21.7 299.3,247.6 286.2,174.4 233,15.6 268.7,47.1 209.4,86.1 231.5,21.8 252.9,5.9 220.9,78.5 268.3,56.8 275.1,62.6 217.8,112.1 276.4,69.9 285.9,100.1 200.2,120.3 142.3,296.3 282.6,130.3 278,101.9 200.3,158.5 282.5,186.4 211.3,105.2 284.9,119 269.2,39 237,11 278,70.7 230,25.5 232.6,19 214,100.7 288.5,109.1 279.9,109.7 203.7,122.8 261.9,31.6 257.2,12.9 273.9,55.4 236.4,12 307,192.8 218.6,59.6 239.6,9.9 188.4,257 227.2,27.4 224.9,41.2 236,23.6 263.6,45.5 220.9,61.1 259.1,24.1 228.7,28.8 226.8,37.8 166.4,266.2 258,21.6 270.7,49.3 194.1,132.9 158.8,263.7 226.8,30.6 195.7,159.5 257.8,15.7 239.4,9.3 263.7,40 205.6,112.6 165.7,255.2 215.2,69.4 322.6,245.6 251,5 289.4,185.4 228.2,29.8 181.4,233.8 264.9,40.7 255.3,10.2 253,8.7 191.3,204 254.6,8.7 210.1,107 288,173.5 190,282 230.2,22.2 257.8,11.5 292.4,120.5 207.1,111.4 273.6,67.2 261.6,35.7 179.2,261.7 181.3,255.3 110.2,312.4 212.9,141.7 208.5,129.8 145.3,291.9 310.5,253.5 200.3,197.2 255.8,16 269.3,62.1 347.5,285.1 229.7,26.2 312.2,223.8 203,160.6 242.9,3.4 228.8,31 210.9,132.2 257.7,17 322.8,264.9 342.7,283.8 272,63.2 197.4,155.5 204.1,93.9 266.8,51.9 264.4,47.4 270.9,45.9 234,15.5 210.2,112.1 264.3,31.2 244.8,2.8 305.9,200 283.2,95.3 290.7,190.6 315.3,274 325,272.5 207.8,134.4 194.4,162.8 251.8,5.5 148.7,302.1 300.3,211.9 261.6,38.8 280.5,132.2 252.8,7.9 289.8,159.8 257.1,13.6 328.8,270.3 188.8,156.6 271.9,46 185.1,229 320.1,217.3 201.3,166.6 170.7,259.5 236.1,10.1 327.6,275.1 180.4,227 156.4,281.7 354.2,315.2 221.8,52 190.1,215 252,5.2 263.7,50.6 312.2,228.8 236.3,9.6 214.7,77 272.9,66.1 210.9,93.9 258.5,21.2 283.2,122.4 218,75.8 214.6,71.4 255.8,14.1 266.9,33.4 199.9,216.6 216.7,95.8 227.8,26.8 329.2,296.9 265.8,71.6 298.7,172.8 284.1,137.2 232.1,21.5 314.7,227.3 222.3,82.6 298.5,125.2 256.2,12.2 231.7,25.3 315.4,229.4 285.6,122 235.6,8.9 209.8,88.1 277.3,93.2 215.1,94.6 266.1,44.9 211.2,112.9 250.3,3.8 214.1,105.9 235.9,9.6 311.3,239 314,249.9 223.9,39.2 238,15.6 187.4,246.1 258.5,15 291.1,151.1 211.5,103.2 206.9,115.1 258.8,20.6 223.4,53.2 252,7.4 291.6,224.7 267.6,33.5 269.5,66.3 313.9,267.1 257.6,11.2 277.9,69.7 218,83.6 309.8,233.7 197.8,202.2 198.6,160.6 212.4,96.1 188.8,184.4 234.6,13.5 269.6,34.8 309.5,184.5 188.9,268.5 256.4,10.4 232.6,27.8 226.3,59.8 241,4.8 325.6,292.2 260.5,20.4 192.4,156.6 293.2,145.9 230,43.4 242.8,4 216,85.1 204.3,114.9 188.4,183.4 181,201.2 277.1,75.4 303.3,240.5 320.4,264.7 219,60.4 222.4,73.1 280,82.1 207.6,104 298.1,153.2 283.8,138.4 208.1,116.6 283.4,84.4 311.2,211.4 263.3,37.3 235.7,12.9 239.8,5.4 266.4,41.2 216.8,71.9 266.8,24.3 218.9,71.2 214.4,114.7 267.9,54.7 204.8,100.9 256.6,13.4 186.6,257.9 263.7,26.3 281.3,124.4 271.1,49.4 268.6,55.1 236.9,10.4 204.1,125.3 198.2,149.3 219.6,74.4 257.5,15.4 291.1,137.5 259.1,26.2 280.5,89.7 233.6,14.6 256.6,12.7 240.2,7.1 198.6,172.7 232.3,19.7 214.9,82.5 305.8,253.5 301.7,211.9 230.4,51 210.5,91.5 186.8,209.6 288.8,179.1 228,31.2 294.7,141.3 287.8,184.2 254.2,7.4 285.9,132.5 189.1,235.9 215.4,77.1 215.4,92.4 186,230.8 277.5,104 344.2,302.9 194.9,182.8 225.3,46.5 282.8,140.9 236,14.8 209.4,87.4 259.5,19.9 200.7,119.8 276.1,81.1 263.7,42.9 262.5,24.1 220.5,81.5 237.5,9.4 267.6,35.4 212.9,105.2 126,295.5 224.5,44.4 240.1,6.1 287.6,115.8 199.7,165.1 190.2,207.5 295.9,163.7 274.3,142.7 192.4,153.2 229.6,39.6 185.7,259.2 296.8,178.8 271.5,85 203.4,137.8 255.2,13.9 220.7,74.8 255.9,17.2 227.2,46.7 272.1,57.8 296.4,173.9 261.6,25.6 277.3,101.9 230.7,28.3 238.1,6.9 300.4,185.2 252.7,6.7 269.5,49.8 193.6,190.1 234.8,16.1 263.2,37.1 235.9,16.5 223.1,47.8 230.6,22.4 269.7,43.1 206.5,113 217.7,65.4 357.3,320.5 272.8,57.9 261.5,17.4 201.3,193.9 288.7,186.3 220.5,103.8 273.1,81.8 227.9,47.4 257.1,18.3 208.8,184.4 276.1,64.9 226.2,36.8 188,198.7 216.1,90.6 278,65.5 179.7,227.3 183.9,196.3 269.7,82 261.8,24.6 273.2,91.3 166.3,249.9 272.3,57 175.9,237.5 304.9,243.8 230.3,32.9 266,53.2 259.1,18.1 216.7,61.1 295.7,161 316.1,285.4 259.4,20.5 318.4,306.7 288,200.5 220.1,81.8 341.1,271.9 296.2,175.1 288.6,175.1 236.1,14.4 219.2,48.1 217.6,96.4 298.1,161.3 279.8,71.2 156.4,286.2 286.1,139.7 217.7,66.7 139.9,311.6 190.3,172.9 263.5,31.4 324.2,222.4 140.2,312.9 189.5,192 184,223.8 204.3,134.2 191.6,215.8 233.5,23 206.5,102" marker-start="url(#mlower)" marker-mid="url(#mlower)" marker-end="url(#mlower)"/>
<polyline points="359.3,10.4 407.6,212.4 375.7,26.7 350.5,78.7 349.6,67.6 395.4,124.8 334.3,157.2 399.1,246.1 357,20 393,117.6 382.8,114.2 408.9,259.1 370.6,10.1 331.4,203.6 378.8,42.7 375.3,22.2 389.7,106.5 396.5,148.7 338.1,148.6 362.9,6.2 363.2,3.9 321.5,245.8 373.3,15.6 368,4.2 417.3,270.4 348.6,86.9 357.3,30.8 380.2,37.5 389.1,108.5 400.2,170.9 340.9,93.4 368.7,6 380.9,68 347.3,70 415.3,294.1 370.3,20.1 371.1,9.1 329.3,208.3 348.8,58.7 317.4,269.5 381.9,70.5 347,79.8 374.9,26 356.1,25 381.5,79.1 335.2,143.8 315.4,260.9 326.3,208.6 376.6,77.3 400.3,196.3 354.4,47.8 375.9,23.7 340.4,191 350.7,43.6 328.3,209.5 278.9,316.5 325.3,224.7 320,255.4 376.6,27.1 362.7,4.5 421.8,273.2 335.7,131.7 349.8,44.5 382,51.6 374.7,24.1 405,281.7 368.7,5.1 343.7,126.3 336.7,155.9 385.1,75.1 304.6,314.9 371.9,18 383.5,82.8 356,41.1 390.4,169.9 402.8,201.7 401.8,184.2 385,110.5 336.6,171.4 319.9,288.9 401.6,245.9 390.1,122.1 328.6,187.3 383.9,133 353.2,37.2 339,175.5 413.8,277.3 337.6,161.2 382.2,84.2 380.8,35.5 336.4,141.4 360.5,12.2 350.3,109.7 352.9,45.5 406.2,252.4 372.4,11.2 386.2,79.8 336.5,115.4 352.2,51 377.3,28.3 392.7,159.4 410,211 422.6,301.2 322.4,259 382.2,59.9 359.5,11.8 405.4,237.7 374.1,17.8 331.2,234.6 388.4,120.5 357,21.8 376.3,27.6 343.6,76.2 360.3,9.2 324.6,185 356.3,15.4 388.4,139.7 386.3,108.9 340.4,129.1 388,87.3 356.3,30.5 349.9,69.7 381.5,46.3 380.2,66.2 349,66.8 391.2,105.9 423.4,285.9 329.3,221.5 360.8,14.6 345,106.2 333.7,200.6 395,163.4 372.4,12.2 330.1,203.7 351.3,53 356.5,29.3 372.8,15.4 342.6,131.7 397.8,208 390.1,200.9 379,42.8 360.8,15.2 361.8,8.2 376.2,24.4 373.3,12.3 381.6,81.7 394,169.4 343.9,131.6 326.6,237.3 344.9,112.9 393.4,168.3 348.1,61.2 374.3,20.3 383.4,75.5 340.4,151.3 344.9,126.4 363.7,4.7 348.1,80.6 403.6,295.4 398,170.6 362.3,7 379.3,64.3 339.7,168.5 389.9,111.6 361,8.9 348.4,73.8 324.5,197.4 392.3,91.8 349.9,54 387,126.4 361,13.5 371.5,12.1 352.4,38.5 375.1,26.6 339.8,160.3 345.9,97 348.4,49.9 384.3,71.7 355.1,40.2 375.3,27.6 323.9,217.9 407.1,215.4 402.2,209.4 371.8,15.4 357.5,28.5 327.4,217 310.7,252.4 354.1,65.8 328,226.9 323.4,209.4 380.9,43.6 340.8,166.3 435.1,309.8 342.5,101.7 359.1,19.6 364,3.2 370.4,11.5 371.2,12.5 389.5,133.9 392.5,155.2 372.5,19.2 346.4,86.1 347.4,61.4 355.9,28.4 400.4,185.1 347,77.5 369.6,7 384.8,83.4 349.8,58.3 353,28.1 398,138.5 371.4,11.5 353.7,45.9 389.9,158.6 367.8,4.5 351.1,41.4 390,111.1 396.2,253.9 356.4,26.1 333.7,123.9 305,300.2 413.8,260.8 352.7,44 359.7,16 346.3,124.7 340.3,134.1 401.8,221.7 385,72.9 349.9,43 334.1,166 382.4,54.6 347.1,93.1 391.3,181.9 375.7,16.4 332.3,160 372.1,13.4 342.5,183.1 400.4,161 334.1,272.4 358,20 419.2,301.8 354,36.5 386.6,80.8 395.6,142.5 372.3,24.4 384.3,138.1 395.5,146 398.6,234.2 396.3,192.7 347.3,119.1 379.9,50.5 383.3,57.9 371.9,9.8 352.5,47.1 333.8,152.6 380.9,49.4 316.7,220.5 352.8,39.8 324.7,264.3 351.2,60.2 370.9,10.6 334.6,191.7 386.1,97.3 393,127.6 379.3,38.2 383.9,76.3 405.9,222.5 383.8,93 330.1,232.5 349.8,80.9 312,231 368.7,5.5 361.7,7.3 349.8,103.4 316.6,279.3 335.7,175.6 331.1,183.2 378.2,43.2 345.9,82.3 416.8,243.6 382.5,56.8 412.9,225.7 392.8,142.1 396.9,233.2 373.6,20.1 358.1,22 329.1,146.2 381,58 379.2,44.1 385.8,70.9 375.7,21.2 389.5,149.6 400.4,200.5 369.1,5.1 343.1,88.1 397.2,232.4 403.2,196.1 351.9,37.2 399.6,210.2 381.3,73.2 344.9,73.8 374.5,19.5 336.6,131.1 360.5,8.3 369.2,5.3 387.5,180.7 332.4,174.4 303.4,315.1 389.6,103.2 400.3,149.1 390.4,132.2 416.9,261.1 315.2,253 408,248.2 369.9,6 358.8,15.7 403,250.2 408.7,203.4 341.2,158.8 358.1,29.2 403.1,235.5 336.3,161.7 380.3,50.8 382.8,74.4 360.9,16.9" marker-start="url(#mmed)" marker-mid="url(#mmed)" marker-end="url(#mmed)"/>
<polyline points="502.5,22.2 509.9,45.8 569.3,258.9 401,284 457.9,80.5 440.5,118.4 478.8,11.5 423.3,247.2 452.1,116.4 452.4,115.5 416.6,254.4 447.7,138.4 461.1,61.7 532.8,134.4 464.9,45.2 459.2,84.9 534.1,163.1 545.8,180.8 449.9,102.9 469.8,24.3 500.8,15.6 447.7,141.4 514.5,51.3 523.6,91.5 533,106.6 569.9,266.5 529.3,125.2 427.9,204.8 461,65.1 532.3,147.9 440.2,175 466.3,40.3 562.1,216.2 461.7,65.8 495.8,8.1 527.7,138.1 427.8,196.9 455.1,96.2 503.4,33.1 500.2,13.6 455.5,81.8 498.2,11.5 411.9,243.5 437,178.1 523.9,147.6 478.9,8.7 548.2,215.8 446.5,91.7 475.4,15.5 550.7,263.9 464.1,42.7 446,99.1 523.6,124.7 614.1,316.8 524,119.3 540.4,187.4 539.7,191 506.1,50.4 482,5.5 548.4,264.1 514.3,49.3 438.3,139.5 469.7,30.3 455.7,83.4 472.5,21.6 473.1,22.2 430.1,205.1 540.2,223.8 448.5,142.5 439.1,178.3 516.4,70.6 482.2,4.1 561.1,262.7 459.7,71.9 432.5,178.7 448.5,97.4 455.8,59.2 500.9,16.2 508.7,49.2 534.8,162.7 468.7,27.1 509.1,42.3 444.8,117.1 468.2,35.6 494.9,6.4 432.7,153.1 568,249.9 469.8,29.2 457.6,108 456,110.5 563.3,248.1 451.2,192.9 493.1,6.1 446,105.4 525.5,96.1 466.6,45.2 388.8,294.3 439.1,160 474.9,17.3 471.8,19.6 558.2,220.4 503.4,29.1 449,137.7 514.6,87.5 585.7,283.2 472.7,15.5 459.9,63 554.8,256.7 471.2,26.2 557.7,224.2 530.4,186 525.3,150.7 511.4,57.5 560.7,269.8 468.9,33.2 394,305.3 517,79.1 478.5,8.8 538.1,170.8 402.5,293 475.2,16.9 547,186.1 499.7,17.5 533.5,179 497.1,13.9 435.4,169.7 495.7,7.6 434.7,189.4 564.1,233.2 452,107.8 414.4,260.6 509.3,40.6 477.9,10.7 468,39.7 425.9,261.3 517.5,83.7 445.9,133.9 505.4,36.7 422.7,252.9 440.3,144.5 524.2,91.1 425.8,217.4 433.7,176.4 472.2,24.3 475,22.2 517.5,65.7 469.9,22.5 549.2,236.4 525.4,111.6 494.7,9 501.1,19.2 411.2,266.7 429.3,185.4 572.8,287.4 418.7,225.3 523.8,117.1 504.5,26 470,31.6 586.2,308.4 550.4,213.4 463.4,71.3 496.7,14.8 500.3,17.5 522.7,154.2 496.1,13.8 437.9,188.3 412.2,256.2 550.9,198.8 532.4,120.9 533.6,104.6 478.9,11.9 507,37.5 382.6,296.4 464.1,65.4 387.8,301.6 466,33.3 495.8,13.3 465,60.5 541.4,189.9 483.1,4.4 537.5,161.7 522.9,99.6 423,182.9 398.1,291.8 471.1,25.2 501.8,17.7 468.8,42.6 581.8,292.6 538.4,216.9 405.2,252.3 508,36.4 532.4,140.3 599.4,308 458.4,70 461.2,54 471.6,18 463.7,53 545.6,192.1 457.8,56.1 521.8,94.2 509.2,54.8 494.3,6.9 537.5,152.9 430.8,272.3 452.1,81.3 410.4,301.5 471.2,26.6 501.4,17.6 414.5,282.1 446.2,135.4 448.6,104.4 535.9,163 514.8,65.2 505.3,26.2 446,116.3 562.9,264.5 540.3,149 511.7,74 548.3,210.4 495.5,9.5 520.9,89.2 521.7,95.4 577.3,244.1 470.3,25 567,264 537.5,144.5 499.3,24.3 411.4,259.7 481.6,6 471.3,24.2 587.5,309.4 471,24.5 507,54.5 509.7,74 471.1,29.4 426.8,206.5 442.3,116.5 550.5,230.9 459.4,79.6 503.1,21.1 500.1,17.4 431.8,148.4 521.2,95.8 503.8,43.6 437.5,191.3 452,122.2 471.9,33.2 527.7,144.4 459.6,77.9 406.7,280.4 555.7,256 440.1,146 460.1,59.8 459.8,63.7 400.3,283.5 529,187 520,127.6 527,143.6 597.9,319.5 431.4,206.9 470.6,19.2 385.1,303.6 454.5,99.5 475.2,13.1 480.2,6.9 471.6,26.6 475.3,15.1 540.3,180.7 536.5,200.5 539.1,217.8 452.8,103 505.4,31.8 541,197.3 387.6,298.9 473.5,17.4 591.4,306.1 479.8,9.4 452.2,80.6 461.3,85.9 462.5,58.5 463.9,42 493.5,5.2 417.4,206.7 542.2,179.6 538.2,149.1 465.6,49.4 475,15.3 505.1,28.5 511.9,53.4 532.9,155.4 538.1,237.5 534.1,145.6 480.3,6.8 418.6,224.5 493.6,6.2 565,248 515.9,63.2 461.5,59.9 501.9,24.2 474.1,26.3 456.9,58.2 541.5,248.3 407.5,293.1 440,138.8 514.6,63.6 390.9,295.2 473.3,32.3 437.4,186.8 502.3,20.9 476.9,11.3 556.6,276.6 474.3,22.2 449.4,143 425.5,231.1 441,151.6 517.9,132.9 524.4,154.7 455.7,120.5 392.2,271.7 525.7,140.1 473.7,13.9 584.2,307.5 440.8,237.1 472.7,23 560,231.4 528.8,152.7 499.7,27.1 519,71.3 501.2,23.4 401.7,259 454.3,100.5 501.5,23.4 539.8,258.9 541.5,185.5 448,101.8 506.7,31 424.4,215.8 424.8,190.8 567.5,264.3 502.6,28.1 498,22.4 436.2,170 459.5,63.3 416.6,240.7 524,108.5 467.1,29.7 555.9,189.6 440.3,217.9 472.3,29.6 526.2,139.1 474.4,18.4 413.6,231.2 472.4,25.3 519.2,86.7 495.7,11 442.9,91.7 466.2,72.6 572.2,262.6 553.8,245.1 540.3,202.7 484.7,2.9 411.8,228.1 513.8,93.7 461,66.7 525.8,97.2 470.4,24 462.7,70.9 390.8,272.1 504.4,20.6 509.7,60.8 509.5,71 521,127.2 412.7,244.2 526.8,117.4 530.3,154.1 421.4,236.7 501.3,18.5 526.4,152.1 511.3,79.3 451.2,107.2 534.7,129.4 501.1,19.5 551.7,223.7 462.4,65.7 496.7,9.3 489.5,3.3 517.7,80.9 433.6,204.7 439.8,186.4 464.5,49.2 524.1,99.1 507.5,44.2 505.1,36 482.5,4.3 464.6,59.7 417,255.9 497.7,12 466.7,42.4 449.3,77.9 442.2,149 505.5,48.6 453.5,75.3 511.9,76.9 422.5,212.1 449.2,104.4 516.9,76 477.2,14.2 466.5,49.7 508.3,41.1 515.2,81.6 499,23.6 461.7,50.3 498.6,13.2 476.1,14.1 397.2,286.5 464.8,61.9 422.4,226.6 450.6,132.4 431.5,200.6 412.3,229.7 504.8,33.2 464,41.3 425.2,179.7 501.6,33.6 513.5,85.8 421.1,222.3 511.3,62.3 430.6,184.3 601.1,309 499.3,17.9 394.5,282.8 544.6,157.3 440.6,131.9 503.1,31.1 556.6,249.1 406.9,238.8 462.9,63.5 496.7,10.8 472.4,20.6 551.6,225.1 460.9,62.2 541.9,170.1 442.1,125 428.2,222.1 537.1,158 422.9,199.2 469.7,28.9 473.5,36.8 457.4,49.3 517.7,59.8 455.2,67.6 529.5,130.3 514.5,56.9 540,118.4 529,148.8 507.2,32.5 456,73.4 426,205.9 462.8,67.6 538.2,155.9 424.7,258.9 442.6,105.9 426.8,190.7 501.1,24 455.7,133.3 559,276.1 591.5,285.6 451.7,95.8 461.1,66.8 473.5,20.5 529.7,110.4 544.2,196.8 425.5,203.9 516.1,54.1 493.8,6 447.7,125.7 467.2,42.6 426.3,246.1 464.4,42.2 459,59.6 379.5,318.5 548.9,186.6 512.1,59.5 460.5,64.2 528,125.6" marker-start="url(#mhigher)" marker-mid="url(#mhigher)" marker-end="url(#mhigher)"/>
<polyline points="633.4,66.1 644.7,71 620.5,140.5 639.5,55.4 647.3,26.4 534.1,313.9 645.8,42.5 580,240.5 655.8,33.4 655,38.3 649,44 599.2,140.2 617.2,127.4 645.4,66.9 589.4,233.3 624.3,86.3 649.9,40.2 611.1,136.2 642.2,60.3 649.7,50.3 546.8,243.8 665.9,7.8 594.6,163.2 583.4,201.5 653.8,27 664.1,15.9 603.1,166 576.3,222.8 607.2,153.5 649.8,40.8 604.4,158.9 625.7,113.5 608.5,138.2 559.2,256.7 653.3,45.8 661.3,15.3 636.3,70.3 636.8,55 611.7,119.3 666.2,19.6 609.1,138.4 593.5,166.5 659.7,12.4 670.8,5.9 621.6,75.8 649,31 613,112.7 647.3,38.5 642.5,48.6 661.5,27.6 614.2,142.6 604.4,170 593.4,149.8 566.6,275 657.5,15.3 664.1,10.2 653.2,23.1 586.5,189.2 631.8,63.1 667.8,7.9 663.6,12.1 618.2,129.1 622.5,80.1 663.1,12 588.4,173.2 528.9,267.8 561.7,219.4 606.5,120 647.6,49.2 648.8,62.2 658.6,20.4 634.8,49.9 671.3,10.5 669.5,15.5 624.1,130.1 542.2,291.1 595.4,182 588.7,230 604,143.6 536.5,303.7 674.4,4.9 631.7,70.6 645.4,41.9 547.4,285 650.2,48.6 660.4,21.8 657.1,24 585.7,210.4 579.4,262.2 636.7,83 672.7,4.2 560.8,268.4 642.9,42.8 609.6,226.3 611.7,139.6 634.8,110.7 652.1,24.5 562.3,257.8 616.3,60.1 619.5,105.8 621.8,75.4 667.7,9.1 573.4,262 560.8,218.7 650.1,25.6 650.3,23.3 613.9,112.7 661.3,15 575.4,230.5 641.5,52.9 607,123.8 591.9,228.2 632,72.2 500.7,309.4 630.9,84.2 642.7,73.4 637.9,64.4 600,146.1 650.1,31.6 502.9,308.4 648.3,38.2 577.4,231.5 608.9,193.9 601.9,170.4 574.4,242.1 667.9,13 663.6,10.7 660.5,18.5 654.8,27.5 602.9,169.5 645,47 647,24.9 617.9,81.9 640.7,56.8 595,156.1 626.3,61.7 662.8,14.7 571.2,260.7 582.4,251 605,174 611.6,102.5 613.5,118.2 542,283.8 552.6,301.6 626.6,64.7 633.3,95.9 611.2,173.9 641.9,118.1 612.6,136 603.2,128.3 643.5,55.2 659.2,23.7 604.6,169.4 610.2,157 665,10.2 590.6,226.5 635,65.4 604.6,166.7 598.7,217.7 542.3,284.3 630.9,79 615.2,108 651.3,31.9 632.3,89.5 566.9,245.3 599.3,177.7 652.7,33.7 657.9,25.6 647.8,32.6 568.3,277.5 673.4,4.1 619.2,144.2 631.1,52.7 551.7,292.9 581.8,252.1 617.5,98.8 631.8,75.6 616.5,164.8 673.7,5.3 665.5,12.7 644.1,46.1 664,13.1 676,4 603.3,188.4 642,41.1 561.4,259 670,8.7 589.3,185.8 606.9,136.2 668.2,8.6 678.8,2.9 657,22.4 623.5,124.3 599.3,164 612.4,143.6 653.8,20.5 579.7,207.1 632.1,94.6 669.6,9.1 589.7,200.8 669.4,6.7 668.1,8.8 625.1,86.1 575.9,217.4 538.6,278.5 613.7,95.2 664.7,11.8 671.5,7.1 583.6,243.2 647.1,52.5 563,272.2 662,13.7 643.3,40 649.5,48 569.5,230.8 647.3,31 567.8,234.6 576.6,199.3 637,60.2 668.2,6 612.9,90.6 648.7,37.3 645.5,47.4 590.5,157.8 561.4,212.1 576,190.9 644.4,45.9 624.1,103.7 632.1,124.1 595.4,150.3 544.1,256 554.7,241 590.7,192.3 584,230.5 567,239 644.7,59.2 550.3,248.7 660,21.7 667.8,10.8 631.3,106.4 643.2,45.1 609.8,118.2 644.4,66.5 595.4,138.8 668.3,11 653.7,36.5 672.9,5.6 640.6,77.6 630.1,101.2 639.7,60.4 587.1,193 623.7,94.6 523.5,313.4 653.9,34.2 618.1,196 576.7,204.8 666.4,10 620.4,112.6 618.8,115.7 627.2,88.6 610.5,195.7 653.6,24.6 628.7,63.4 672.4,5.1 634.4,59.5 616.9,122.7 661.2,27 562.8,242.5 667.1,7.9 607.3,166.3 561.9,280.9 583.9,153.2 673.5,6.8 661.9,18.1 658.3,14.5 659.6,18.6 610.7,167.9 628.6,88.1 660,33.9 633.7,67.1 612.1,120.1 657,19.8 670.5,8.1 663.4,11.2 519.8,305.6 630,213.6" marker-start="url(#mhigh)" marker-mid="url(#mhigh)" marker-end="url(#mhigh)"/>
<polyline points="70.3,17 116,129.9 180.3,245.4 117.2,149.3 113.6,155.3 133.9,207.6 75.7,38.7 73.4,23.2 101.4,91.2 69.7,14.5 122.1,186.6 174.5,300.5 98,60 102.5,110.6 170.5,289 97.7,70.5 90.6,54.7 66,9 63,8.9 84.4,38.9 101,76.2 90.2,46.6 275.1,318.7 60.8,5.1 110.4,132.7 125,173.6 109,82.2 105.9,118.5 149.1,243.9 120.1,144.2 97.4,59.7 121.5,175.4 207,307.2 110.1,112.3 106.9,107.9 156.7,271.9 82.3,32.6 115.1,101.3 100.3,66.7 123.9,197.1 136.4,201.6 154.7,267.7 75.8,28.8 64.8,19.2 97.8,73.5 71.9,14.7 140,209.7 115,173.4 100.5,80.2 77.6,30.3 116.1,120.9 86.9,45 89.3,68.2 121.4,158 153.1,200.5 132.4,188.4 92.2,75.3 119.8,155.3 114.7,115.5 102.1,105 71.9,21.6 126.3,252.8 146,250 93,59.5 169.8,289.6 63.5,6.3 79.9,34.5 157,224.8 74.6,31.9 87.9,42.6 67.2,11.3 98.8,92.5 60.7,5.5 138.6,239 110.2,123.4 257.6,315.5 118.6,165.6 109.4,162.4 119.7,158 96.4,95.3 104.2,109.8 72.7,28.5 167.3,233.3 108.9,122.5 86.8,48.5 116.2,128.1 61.4,6.4 88.9,60.9 67.7,11.8 87.9,49 71.3,16.5 80.8,24.2 67.4,24.6 132.5,159.4 111.4,114.8 112.1,171.9 88.1,73.6 152.1,220 199.8,314.8 67.8,22.9 138.5,218.2 97.9,56.7 101.5,120.9 71.7,31 87.8,61.8 139.9,222.5 167.8,223.8 73.6,21.8 56.7,3.9 160.6,233.3 88.2,40.8 92.8,76.1 101.8,101.4 72.5,27.5 78.4,36.1 162.9,278.3 113.2,144.5 161.9,264.6 113.3,109.9 127.5,171.6 112.6,177.1 87,43.5 143.6,166.5 169.7,250.8 64.7,13.5 67.2,12.7 61.5,5.6 145.7,180.9 75.9,26.5 128.9,113.4 139,201.5 64.5,7.7 90.8,62.1 129.1,208.5 107.9,135.4 60.8,5.8 113.1,145.4 106.3,105.9 87.7,61.5 110.4,131.1 128.9,143.9 95.9,84.2 74.9,16.4 73,16.2 68.6,22.6 74.7,20.2 57.3,3.9 104.7,75.9 165.2,234.6 98.9,70.5 78,28.8 98.2,70.2 113.6,121.2 89.8,72.6 59.4,4.7 86.3,67.1 125.7,162.5 93.3,51.3 72.3,13.4 123.8,185.1 102.6,91.2 103.4,113 147.3,266.1 135.3,171.9 135.7,206.7 83.6,46.2 150.3,273.9 104.3,101.4 196.7,308.5 144.6,248 58.9,4.6 62.6,9.8 113.6,118.3 66.4,12.7 280.9,320.9 167.9,221.7 88.7,61.1 115.8,175.8 70.5,15.3 75,34.8 95,54.2 172.7,256.2 80.2,48.4 222,298.1 147.6,205 90.7,83.3 103.5,85.5 82.9,46.2 76.9,28.5 118.8,123.2 67.3,13.1 106,108.3 94.2,78.3 118.2,111.8 82.8,38.8 92.9,50.7 112.6,133.7 113.3,134.6 65.9,12.8 133.2,181 87.9,54.9 96.3,65.8 82.6,40.5 164.1,209.7 131.3,182.9 212.4,291.4 182,284.5 124.3,147.1 130.2,204.3 111.2,117.6 160,210.7" marker-start="url(#mlow)" marker-mid="url(#mlow)" marker-end="url(#mlow)"/>
<polyline points="216.7,106.1 223.8,109 252.4,201.5 212.1,92.7 197.7,45.2 253.4,208.3 120.5,52.3 212.7,88.7 92,121 221.3,127.2 194.1,39.8 120.3,53.5 146,8.5 85,139.6 231.6,131.5 229.3,151.3 93.4,143.1 185.4,27.1 230.9,139.9 74.9,195.9 182.7,24.3 176.7,12.3 62.2,214.1 113.5,77.9 65.4,213.4 277,256 110.5,78.5 66.5,202.4 61.6,200.4 286.5,270.9 219.8,125.3 194.3,47.8 106.1,92.5 186.3,25.8 207,78.6 65.4,207.2 205.6,76.8 221.5,124.8 102.3,104.8 96.3,112.9 73.5,189 140.6,14.9 141.6,15.4 252.8,195.9 92.2,126.6 138.4,18 239.1,186.3 218,133 198.1,60.4 113.1,73.6 139.2,16.3 113.7,64.2 267.3,241.9 190.6,44.2 187.8,28 145.4,10.9 259.5,220.4 206.5,67.8 236.3,173 134.3,21.2 126.4,38.5 102.5,100 64.2,200 88.7,164.6 236.8,163.3 132.2,29.1 206.1,77.3 99.5,122.5 106.4,97 130.3,32.9 226.9,131.4 118.4,51 193.9,42.3 267.5,244.4 128.1,35.8 272.2,256.4 96.2,110.6 209.6,98.8 127.2,38.4 82.7,158.4 191.6,38.4 73.6,168.9 214.2,94.4 232.9,151.6 114.5,72.2 224.9,142.8 171,6.9 215.8,104 128.8,36.1 184.6,23.9 89.5,151.8 121.5,53.5 183.6,23.5 209.3,84.1 107.1,88 191.5,37.1 112.2,80.4 181.6,20.2 128.4,37.6 95.9,110.1 279.9,256.1 54.2,235.8 174,10.7 87.1,144.5 194.3,48.9 64.9,209.1 253.1,207.5 234.6,170.9 86.4,146.9 283.9,272.4 156.7,2.7 113,71.1 173.8,10.9 182.5,21.1 149.1,7 188.2,31.8 64.6,193.2 128.8,35.6 80.5,166.2 110.4,76.2 278.7,256.1 91.6,129.3 253.4,206.8 233.6,159.4 182.5,25.6 202.3,61.3 95.9,105.7 86.1,140.2 212.5,77.8 59.5,230.3 68.2,191.7 60.8,213.9 136.5,22.6 122.8,46.1 88.3,145.8 125.2,43 320.1,298.6 99.7,94 194.6,42.5 228.7,129.2 193.7,39.6 88,141.4 83,160.3 204,62.6 205,68.6 93.8,120 81.8,151.5 234.6,169.9 224,142.5 208.6,81 229.8,141.7 140.2,15 231.6,143 140.6,13.5 202,67.9 94.1,111.2 62.9,210.1 81.9,143 189.8,33 98.7,114.6 188.8,30 237.8,164.8 169.3,6.8 222.1,114.2 97.9,127.7 193.7,37.6 118.2,61.5 270.6,239.7 63.8,204.4 141.8,15.8 215.6,107 71.4,188.4 201.6,65.2 200.5,62.9 83.3,163.1 175.8,12.2 200,58.4 201.4,63.5 252.1,205.4 222.5,120.4 142.7,12.3 200.8,65.9 81,154.9 60.2,235.3 212.9,88.6 230.4,149.7 199.3,53.7 180.4,17.1 64.7,227.7 64.6,201.9 118.3,57.7 265.1,238.1 140,15.6 107.5,86.9 242.3,187.8 201,52.2 190,36.3 141.1,13.9 121.8,53.3 262.2,247.7 81.3,159.2 63.3,206.1 248.1,204.3 116.1,66 102.9,98 262.7,228.3 97.4,107.3 114.9,68.5 192,45.6 188.2,34 210.1,83.5 76,174.3 176.7,14 232.7,154.1 65.8,199.9 221.1,118.3 122.4,48.6 119.3,52.9 120.3,49.6 206.8,79.1 173.6,10.8 100.7,117.4 266.4,233.6 101.7,108.1 240.4,191.6 245.6,181.3 208.1,84.1 82.6,163 113.3,70 263.9,231.8 179.1,19.2 192.4,38.6 179.6,19.2 224.5,146.5 311.2,291.8 214.4,95.7 245.8,186 192.9,41.7 94,140.1 124.4,41.4 204.7,67.3 134,27 191,38.7 213.4,92.6 263.4,221 279.2,254.2 204,70.5 238.6,165.8 111.8,76.9 206.3,80.5 261.4,245.6 204.1,71.1 49.7,247.4 242.5,169.3 303.9,282.9 219.3,110.7 118.5,61.4 102.2,109.6 266.2,238.9 196.5,50.4 148.6,7.5 195.7,47.1 139.4,17.6 55,219.7 180.6,19.7 256.9,215.8 214.4,93.1 240.9,182.8 123.4,44.8 122.4,46.3 98.7,104.9 226.6,127.6 255.5,207.6 129.7,37.1 196.2,60.4 85.5,160.6 195.2,41.8 223.8,122.9 122.9,57.3 250.9,204.4 186.9,33.7 282.1,260.3 76.1,189.8 204.5,64.3 282,238.6 168.8,6.1 200.5,66.2 291.3,269.6 132.7,27.4 107.8,81.3 119.9,54.4 228.6,148.6 56.9,232.8 98.1,124.5 128.8,38.1 108.7,83.2 310.4,300.9 235.5,153.1 129.6,32.9 119.5,52.4 94,130.3 184,23.1 256.4,216.6 125.7,42.9 222.7,129.4 207.3,68.9 82.1,161.1 121.7,56.8 223.7,121.3 114.2,65.7 171.3,7.5 101.4,107.4 233.8,151.8 301.7,288.5 96.1,117.4 216.2,87.4 183.9,24.3 80,166.8 57.9,241.2 140,17.5 224.2,141.1 225.6,144.4 330.8,306.2 55.4,235.9 183.8,25.4 293.8,281.6 124.4,48.1 262.2,218.7 65,209.5 237,166.4 106.6,91.1 92.9,113.1 191.2,36.4 135,22.1 181.4,21.8 110.4,77.9 212.8,105.2 117.3,60.1 116.2,64.2 76.1,180.2 183.2,23.6 254.2,196.1 200.4,53.2 238.1,171.3 127.1,36.5 141.2,14.7 225.1,128.8 260.1,230.8 166.1,4.3 232.4,171.2 206.2,74.4 265.3,252.9 294.1,276.7 244.5,178.3 142.1,13.1 137.1,20.4 234.4,151.3 126,41.3 141.8,14.4 107.8,77.2 249.4,194.2 74.9,181.5 260.5,216.2 78.3,175.7 200.7,61.2 186.8,27.6" marker-start="url(#mmgmt)" marker-mid="url(#mmgmt)" marker-end="url(#mmgmt)"/>
<polyline points="291.2,122.2 255.3,9.1 289.3,249.7 185.4,235 279.7,80.7 117.7,311.4 257,16.8 226.8,40.9 345.1,304.7 275.9,66.1 202.4,120.8 273.3,68.5 112.9,314.6 209.3,133.5 231.2,25.9 166.5,234.1 285.6,122.6 308,239.4 191.7,205.4 213.3,97.1 226.9,41.7 279.5,95.6 274.5,62.5 211.2,81.1 269.9,45.9 239.4,9 231.3,37.8 235.4,10.2 293.3,126.6 329.9,284.4 187,204.2 211.5,129 241.3,6.4 307.6,213.1 219.5,99.4 352.2,300.9 329.5,298.8 147.4,302.3 282,72.1 278,59.5 230.9,27.3 161.6,262.9 256.6,16.7 297.4,169.4 275.3,56.2 212.9,110.7 332.7,279 322.8,267.9 297.2,225.8 294.3,126.7 252.8,6.8 225.4,38.5 165.1,260.7 155.8,271.9 284,86.1 182.4,185.7 259.8,15.2 238.1,10.2 206.6,144.7 211.7,123.4 228.3,42.4 302,228.9 266.7,33 278.7,107.6 196.5,151.3 198,214.4 213.9,99.5 283.7,146 238.5,12.7 231.4,26.7 293.6,181.6 271.9,80.3 213.2,98.8 209,132.6 216,112.1 278.3,80.7 255.2,8.5 216.9,93.1 215.7,135.7 298.6,187.2 209,86.4 250.3,3.6 249.1,4.4 262.2,33 233.4,20.6 190.9,237.6 332.9,287.5 202.7,145.5 268.7,56.3 202.8,147.2 267,67.4 208.9,145.4 306,249 196.9,235 312.4,247.9 161,271.9 232.5,21.4 296.3,152.6 231.8,27.3 301.4,185.3 214.1,57.3 302.1,179.2 226.5,39.4 284.9,119.5 233,14.2 185.1,205 209.9,82.5 356.4,307.5 366.9,299.8 160.3,234.4 274.3,89.7 309.3,175.7 233.5,16.8 275.2,68.1 204.6,140.6 230.4,22.8 281.6,138.2 234.4,15.3 182.7,203.5 198.9,142.9 221.8,52.4 218.5,114.8 326.4,268.6 171.1,263.4 198,157.4 212.3,73.2 265.7,39.7 187.1,222 252.2,10.1 206.7,112.5 212.3,100.9 260.5,26.9 280.3,91.3 281,131.9 200.3,175.2 298.5,132.3 292.3,136.1 260.2,17.2 265.7,31.7 239.1,7.4 292.1,102.3 313.6,246.7 282.5,119.3 208.8,208.2 295,244 264.8,24.8 318.7,217.7 235.7,15.2 211,106.9 199.4,116.6 278.8,119.6 256.9,16.3 220.4,142.1 271,41.6 233.3,24.7 216.8,72.8 197.2,170.1 274.7,45.7 213.5,70 264.8,39.2 287.1,110.4 191.4,158.1 256.9,12 346,299.4 225.7,37.7 236.2,15.7 221.2,41.8 277.5,111.2 221,87.8 268.6,50.7 231.6,27.5 236.3,17.8 303.1,237.9 257.2,15.2 300,200 207.1,132.9 269.1,68.6 168.1,290.4 231.5,31.2 287.4,149.2 278.8,82.5 277.6,105.6 311.5,224.2 269,46.6 269.4,54.2 323.2,271.7 276.5,111.6 213.5,88.2 210.7,105 216.5,81.7 215.4,81.2 316.2,187.5 292.1,143.8 216.5,85.7 209.2,87.3 295.2,173.6 174.2,282.2 206.1,171 154,290.2 215.6,71.5 326.6,310.7 218,88.9 292,138.4 321.8,240.5 224.1,70 218.7,78.6 270.9,66.7 186.3,234.7 215.5,97.3 300,241.1 212.8,97.1 261.5,23.3 279.2,135 237.5,8.3 222.8,51.1 215.6,68.5 223.2,60.3 166.8,242.7 227.8,43.5 234.4,11.3 272.8,74 230.6,31.9 222.6,69.1 317.6,269.6 206.4,107 226.2,44.7 205.2,105 203.9,174.6 230.5,35.5 199.3,203.8 321.2,250.8 209.6,163.8 302.6,254.7 261,17.7 290,105.5 315.6,212.3 193.8,243.7 312,239.9 268.2,38.9 226.5,38.7 223,82.9 260,23 197.7,234.9 305.7,260.1 238.4,6.2 250.9,5.9 233.9,26.8 231.5,21.3 216,96.6 302.7,186.7 268,44.1 271.3,78.6 261,41.6 290.4,191.4 225.4,52.6 210.1,116.3 235.8,13.6 289.6,175.7 296.1,137 279.2,62.4 270.3,53.5 258.5,13.3 282.7,97.2 253.8,9.5 225,62.3 211.4,90.7 260.9,17.9 288.8,143.9 255.8,11.1 205.5,146.4 297.6,210.5 310.3,247.5 217.3,131.9 225.6,43.8 259.8,13.2 183.2,202.2 291.7,166.9 265.7,26.2 306.5,172.6 221.8,55.2 220.3,66.2 268.8,74.5 283.4,124.6 289.1,167.5 269.7,36.4 279.3,154.5 216.6,83.3 292.8,147.9 206.7,90.7 252.5,7.3 236.8,11.3 209.9,109 186.5,232.1 295.1,198.9 294.9,208.7 215.3,99.5 250.9,4 239.9,5.2 192.8,223.9 289.3,172.9 237.3,13.2 254,11 210.3,121.6 318.3,223.6 185,217.6 313,267.7 232.5,26.3 235.1,20.5 215.1,66.9 285.4,199.9 211.3,99.2 219,102.8 214.6,117 261.2,37.2 270.2,44.2 218.1,75.6 274.2,40.8 297.5,220.9 202.9,130.8 304.5,223 265,65.8 178.5,205.1 214.4,79.8 131.5,313.7 264,38.7 192.4,175.2 300,193.2 191,208.2 284.7,94.3 233.9,20.1 204.4,150.5 302.8,172.7 261.2,23 217.6,77.1 264.4,36.5 213.9,110.1 228.4,30 178,237.9 199.1,193.4 273,93.5 188,209.8 237.8,13.3 235.2,23.3 199.1,192.4 219.5,91.1 273.5,49.2 251.6,6.2 280.1,98.1 259,24.5 267.3,89.1 238.3,9.4 240.6,8.2 240,7.4 177.8,222.9 261.3,26.2 220.7,74 219.7,91.4 230.5,29.3 323.4,279.1 220.9,97 305.2,208.1 175.6,288.4 232.8,19.8 314.4,264.1 260.9,19.5 222.6,55.6 169.5,277 266,36 288,105.9 292.7,132.3 321.8,266.4 270.4,39.8 181.8,289 231,22.5 250.6,5 305.1,174.8 313.1,260.6 308.1,231.4 261.1,32.5 250.7,5.4 289.5,159.8 234.1,8.7 171.8,240.6 199,165.1 370.4,316.5 279,190.1 221.9,39.9 235.4,13.8 260.1,16.3 257.7,17.9 179.8,274.9 187.5,197.9 272,70.7 296.6,228.1 257.9,12.9 287.4,123.2 221.1,55.4 322.6,281.1 205,139.4 273.3,86.9 282.4,76.5 304.3,230.9 199.4,150 210.6,108.3 237.5,14.5 283.1,76.3 278.7,101.2 155.5,309.3 233.8,17.3 254.9,12.2 260.1,21.2 258.5,22.2 186.4,266.2 285.7,101.8 147.4,304.1 207.3,115 195.6,129.5 275.7,98.2 260.2,17.6 269.2,52.5 291.3,135.9 288.5,147.8 279.2,84.9 260.9,32.2 266.4,75.7 150.7,309.2 225.2,46.7 211.1,81.7 216.4,78.8 272.7,54 297.6,164 278.4,88.1 202.5,172 208.2,136.9 231.3,23.7 201.5,129.3 324,221.7 216.6,50.4 294.5,166.5 198.1,137.7 234.4,14.3" marker-start="url(#mlower)" marker-mid="url(#mlower)" marker-end="url(#mlower)"/>
<polyline points="393.1,128.4 349.4,81.6 380.9,95.2 330.9,179.7 360,12.2 372.2,61.5 339.9,165.1 397.8,239.6 377,46.1 370.4,5.4 342.5,95 375.2,25 383.1,48.4 358.3,23.8 378.6,34 336.9,184.6 328.1,194.4 350,58.8 325.1,264.6 315.2,232.7 350.6,56.3 351.4,64.3 403.4,179.5 348.5,53.5 352.6,39.8 360.1,10.7 394.3,135.9 417.5,249.5 371.3,12.7 393.4,102 384.8,76.6 353.6,20 405.1,191 374.3,17.8 369.1,6.6 377.5,33.3 386.7,106.2 315.8,279.9 389.9,203.4 334,273.8 334.3,158 382.8,67.7 340.9,152.9 347.5,85.7 347.6,67.4 375.5,45.1 312.6,303.9 400.1,214.1 341.5,143.4 337.2,135.6 340,110.1 353.3,52.7 409.2,242.5 383.3,52.9 391.3,128.8 390.6,154.7 368.8,4.1 386.1,89.7 326.9,198.2 347.1,87.5 390.6,82.5 420.7,295.1 405.5,277 342.8,111.8 361.1,6.9 426,311.3 351.6,62 395.6,181.2 378.8,85.4 334,160.9 427,284.7 322.2,280.1 357.6,21.4 336.7,195.5 357.1,18.8 358.2,21.6 335.8,151.5 356,40.6 362.4,7.9 369.7,8.6 324.6,290.2 352.2,43.6 392,135.1 395.2,156.6 337.6,252.5 349.1,52.8 371.4,14 388.9,85.6 425.3,253.4 332.9,171.2 371.7,15.5 353.5,57.6 346.4,106.8 330.7,179.1 352.6,45.2 375.5,19.6 343.4,111.8 279.7,320.4 349.4,102.2 384.9,65.3 385,110 400.3,228.3 380,47.5 395.6,208.3 378.2,35.4 422.7,289.8 349.6,65.7 389.7,112.1 317.5,236.6 403.8,196.3 347.3,75.3 347.3,64.5 398,143.4 380.6,54.3 409.8,217.1 389.3,136.7 308.1,307.8 384.4,84.5 361,9.5 375.8,15.4 344.3,136.1 369.1,6 382.7,100.6 352.7,39.5 354.4,23.9 326.6,182 360.5,12.4 379.4,49.7 338.5,159.7 390.9,157.2 368.3,3.4 360.8,11.2 380.8,75.7 314.9,275.3 395.6,122.9 383.9,53.3 312.4,319 259.7,320.8 314.1,266.3 390.1,83.7 383.1,110.8 294.4,300 341,131.8 358.7,12.1 341,148.9 380.3,75.1 356.8,24.6 373.4,16.1 343.5,87.1 337.6,230 331.6,191.9 340.3,123.4 412.1,274.4 374.6,21.1 362,6.2 384.2,100.6 339.9,161.3 371.1,12.2 372.8,13.3 313.3,296.8 349,60.6 359.7,17.9 342.8,94.9 387.6,94.9 385.5,117.8 336.4,134.8 361.3,14 396.2,177.1 340.4,93.9 322.5,213.6 392.3,137.2 334.9,179.3 387.4,90.5 387.4,118 324.9,232.3 358.5,15 358.4,19.3 359.1,12.6 354.9,36.8 322.7,260.8 332.9,199 350.5,64 411.7,262.6 346.6,75.6 361.4,9.8 402.6,198.4 381.2,50.4 385.2,110.9 345.2,87.7 380.6,57.2 382.6,75.1 402.9,211 410.2,265.2 356.6,51.2 404.3,220.7 408.1,227.1 373.8,19.3 381.3,67 411,258.8 429.4,303.8 384.1,98.3 346.6,104.2 374.4,18.4 378.1,31.7 319.5,269.8 362.8,9.4 402.3,219.3 385.7,85 349.7,61.3 374.9,32.1 333,221.6 380.1,54.7 349.4,86.9 349.1,80.4 397.3,145.2 360.9,10.2 326.9,177.8 396.1,177.5 311.4,311.4 338.2,146.5 410.8,250.8 379.8,30.9 390.2,108.7 327.3,244.7 391,123.1 405.8,214.1 385.6,93 323.8,250 330.3,167.6 295.4,312.2 386,118.1 356.1,48.4 336.1,132.9 383.4,81.8 335.8,150.4 421,263.2 376,37.5 406,198.3 369,4.7 357.9,14.6 377.4,37.9 347.2,97.9 358.6,12.4 361.8,6.5 341,128 331.1,161.9 318.7,278.2 356.4,26.7 361,10.4 355.4,30.3 362.2,5.7 361.1,6.7 312.8,250.5 385.9,112.9 352.9,41.1 348.6,111.9 348.1,70.7 380.2,35.1 400.8,148.7 448.7,318.7 271.8,319.7 350.5,81.6 381.3,70.2 375.9,28.9 384.3,122.8 395.5,120.7 356.6,35.3 388.4,90.6 342.2,145.1 340.3,109.9 384.6,65.6 346.7,123.6 380.6,62.2 385.5,73.2 334,160.2 413.8,267 356.6,25.6 405.4,223.1 348.2,85.2 320.5,274.4 393.7,172.1 335.2,212.7 348.1,107.2 423.6,274.2 376.5,25 399.5,258.2 376.1,47.7 352.6,45.8 385.6,115.3 339.9,134.3 390.6,117.3 384.8,87.1 342.7,121.6 325.6,184.6 403.6,160.9 335.7,182.2 281.1,319.2 352.2,63.4 400.9,189.9 327.1,222.8 388.7,125.5 382.8,47.3 345.4,98 372.9,9.3 384.3,65.9 335.9,191.8 318.9,260.5 384.4,65 375.9,22.8 367.7,3.6 351.8,56.2 388.7,109.4 377.7,47 415.9,249.8 386.7,70.6 369.8,8.4 355.7,20.4 405.1,233.2 360.1,13.1 374.6,20.2 377.8,50.1 401.4,209.3 426.9,298.6 370.7,6.4 375,18.8" marker-start="url(#mmed)" marker-mid="url(#mmed)" marker-end="url(#mmed)"/>
<polyline points="468.9,38 500.1,22.7 499.9,12.2 521.1,101.2 471.2,31.6 516.2,69.7 544.1,166.8 496.7,12.5 459.7,60.5 468.8,26.6 471.5,21.9 502.6,27.4 566.2,214.1 527.5,160.7 450.6,140 554,208 521.1,90.2 528.7,124.3 562.3,270.8 460.1,74.8 540.9,217.1 471.9,29.1 477.3,13.8 528.9,106.3 404.1,273.9 527.2,110.4 537.8,187.6 409.3,243.3 466.2,60.4 533.4,139.4 444.4,120.4 436.9,187.8 552.2,258.8 470.3,25.7 549,238.8 525.6,137.1 503.3,26 459.5,86.8 532.3,150.1 514,42.9 465.5,48.7 454,76.9 475.3,19.8 440.2,153.9 468,38 506.7,37.7 447.4,106.5 468.9,22 480.7,5.5 458.2,68.2 533.6,165.7 439.1,181.4 465.6,46 535.5,161.6 524.3,105.5 478.9,6.9 434,141.4 498.2,12.3 459.4,60.2 411.2,243.8 465.5,46.3 501.9,26.6 425.9,218.1 428,160 408.1,262.7 524.7,103.5 515.7,63.6 577.9,279.2 435.7,241.7 521,96.4 461.2,56.2 437.8,137.2 523.3,112.3 512.6,47.8 429.1,159 429,211.9 500.6,18.8 468.4,36.7 496.2,8.8 492.9,7.9 499.3,22.1 531.7,129 514.5,78 503.4,25.3 463.9,38.4 543.5,197.5 469.6,43.8 539.5,194.7 515.2,66.5 514,52.3 512.6,72 506.1,32.2 442.9,177.1 425.2,216.5 461,83.1 464,54.6 481,7.2 497.8,18.1 433.5,248.4 450.3,86.7 454.5,80.8 457.1,83.3 447.4,128.2 514.1,57.9 517.6,62.3 453.5,89.3 448.5,89 532.2,148.9 509.5,44.2 479.9,9.2 427.3,188.8 468.5,51.1 431.1,165.2 505.2,29.5 469.9,23.3 411.6,246.9 457.9,52.9 526.9,122.6 402.3,258.9 446.6,141.6 436.1,144.9 459.3,75.6 524.6,141.2 532.2,208.9 383.9,280.9 527,161.8 508.6,56 519.7,73.5 506.7,32.6 463.8,49.4 461.8,63.6 452.7,117.1 493.1,5 416.5,249.2 451.9,91.4 448.7,118.7 483.9,4.8 525.4,88 550.9,218.9 514.3,62.7 509.9,44.7 456.9,76.4 522.3,98.5 472.1,20.7 552.2,219.1 591.8,273.9 459,67.3 499,16.8 554.4,225.5 435.2,173.5 539.4,170.6 533.4,155.5 515.7,59.8 504.6,27.2 441.3,183.5 470.3,37.1 468.8,32.3 512.5,59.7 473.1,21.1 532.2,148.2 477.7,17 507.9,52.8 441,174.1 528.1,141.7 524.2,130.7 638.9,320.5 469.4,32 462.3,53.8 435.2,161.1 587.9,317.7 456.2,68.6 525.2,124.6 544.5,199.3 553.6,217.8 520,73.3 496.8,22.8 520.5,114.8 537.3,139.4 440.8,207.4 553.8,222.8 524.4,131.3 530.3,141 501,29.8 439.4,149.5 409,241.9 518.7,114.7 464.4,56.6 419.7,207.7 465.9,39.9 562.6,227.2 452.5,141.8 505.5,34.7 469.8,32.5 441.7,130.6 533.5,205.3 478.9,9.1 498.4,16.5 475.6,12.2 571.3,260 499,18.1 471.8,31.6 524.1,109.5 449.7,125.3 423.2,215.5 464,55.5 459.7,47.3 421.9,230.2 406.6,286.5 512.1,45 432.1,177.4 482.5,4.1 468,31.9 451.4,120 461.9,57.6 464,74.4 467.7,34.4 449.6,138.7 442.4,148.7 477.2,13.4 520,55.6 474.7,22.6 449.6,113 421.9,179.7 515.7,87.1 461.4,63 439.6,162.6 543.8,189.5 517.4,112.4 458.8,66.5 436.7,116.2 536.7,183.9 513.4,116.9 539.4,170.1 394,269.6 454.7,89.6 538.8,177.4 461.2,64.4 459.5,66.1 459.5,89.7 527.3,93.4 579.3,302.2 400.2,287.2 436.9,183.3 564.1,261.5 529.4,112.3 460,74.4 467.5,57.3 418.1,239.3 533.9,121.3 422.1,243.6 518.2,75.4 526.6,104.6 533.4,149.7 583.9,289.3 453.1,91.5 554,250.7 388,288.5 469.2,27 478,9.9 518.7,153.2 448.5,116.1 456.7,125 466.6,27 509.1,41.2 444,149.2 457.8,70.5 505.6,32.5 441.6,159.8 432.9,175.6 452.9,85.3 499.4,13.5 531.6,173.2 455.7,77.6 566.1,283.5 519.7,83.5 397.4,304.4 514.9,59.2 533.6,150.1 533,134.8 463.1,52.2 426.2,237.8 488.7,2.8 513.1,58.7 506.8,41.4 497.7,17.4 458.1,81.9 462.3,47.5 573.2,255.9 553.8,260.3 470.4,33.3 463.7,36.8 427.2,192.2 517.1,46.6 464.9,31.6 534.9,133.3 461.5,69.4 460.7,50.6 433.4,244.8 512.2,68.4 466.1,51 524,73.8 481,8.4 457,61.9 442.5,119.1 533.3,146 512.4,47.2 539.3,119.1 428.1,214.5 476.9,9.7 512.4,47.7 509.9,60.7 522.7,96.3 531.3,133.1 519.5,109.5 546.6,235.4 419.4,256.1 510.6,65.2 514.9,59.4 522.2,92.2 458.3,78.3 498.1,12.8 514.4,87.1 518,116.2 404.4,284.7 556,300.9 439,141.5 579.7,305.6 514.1,88.4 468.6,52.7 484.1,3.2 510.1,58.2 433.8,201.4 475.4,16.9 408,301.9 473,40.7 436.3,150.3 449.1,132.9 461.6,55.5 469.2,42.8 461.6,52 460.1,65.8 530,140.2 471.5,26.9 519,77.1 549.7,186.6 422.2,205.5 476.4,21.8 448.2,121.2 433,243.3 457.6,130.8 446.1,90.8 520.1,109.8 397.7,288.9 505.9,43.5 457.6,55.1 458.1,74.8 558.2,270.3 469.5,38.6 533.1,149.9 446.5,100.5 477.9,10.8 500.4,27.7 512.3,74.1 581.7,263.4 516.1,53.7 546,172.6 462.1,62.8 464.4,44.6 373.6,316.3 467.2,47.4 541.4,158.2 549,229.7 555.5,218.6 470.9,23.3 562.6,249.4 435.4,159.4 448,145.1 456.6,109 462.9,54.8 368.3,303.3 521.9,64.3 476.9,17.8 421.4,250 500.6,20.6 522.4,115.9 553.3,252.5 532.8,123.8 524.6,106.1 560.5,251.9 447.6,170.4 568.6,258.7 566,266.8 539.8,158.8 429.9,192.7 607.7,316.9 526,108.3 454.8,107.3 492.6,6.4 523.8,89 536,159 505.2,25.3 462.7,38.5 530.3,147.1 620.7,319 401.4,283.6 528.4,140.6 455.5,50.9 445.4,133.6 452.2,71.7 435,136.4 402.4,255.2 427.9,202.7 530.3,121.1 492.5,4.8 433.7,162 460.6,75.6 451.4,101.2 520.7,92.5 483.6,4.4 499.1,15.8 503.6,47.4 454.4,77.9 422.1,209.7 467,36.8 498.4,21.7 429.9,196.9 549.7,200.3 546.3,182.7 508.4,42.9 481.3,4.7 447,115.2 446,106.1 550.1,245.5 458.8,91.8 460.3,86.6 463.4,60.2 495,6.9 446.1,155.9 526.2,146.1 620.1,316.2 498.8,23.9 470.4,53.7 429.1,240.9 443.6,116.9 460.1,51.6 517.4,123.6 451.7,90.3 560.2,249.7 537.1,157.5 469.1,28.4 519.9,111.1 437,140.5 490.7,4.4 502.2,18 496.2,7.5 535.8,139 546.6,220 518.4,67.8 535.8,179.7 455.8,71.9 404.6,283 479.9,11.7 394,289.5 451.4,128.9 500.9,28.7 432.9,186 402.4,286.3 426.5,198.2 579,285.6 404.5,282.2 442.3,161.5 534.8,164.1 506.9,29 387.7,283.8 531.2,111 554.1,237.3 453.7,63.6 456.7,87.6 474.4,24.5 441.5,181.5 439.9,158.9 539.7,164.3 465.2,56.3 429.6,219.5 505.2,32.4" marker-start="url(#mhigher)" marker-mid="url(#mhigher)" marker-end="url(#mhigher)"/>
<polyline points="491.2,297.6 590.2,195.9 663.4,11.4 551.6,263.1 594.5,176.2 586,169.4 528,302.5 589.3,221.9 664.5,16.9 598.1,149.9 611.1,150.9 609,173.9 600.6,164.7 615.6,89.9 637.6,46.7 645.3,63.7 617.9,95 632.1,73.5 586.9,239.1 607.7,206.6 646.4,91.2 649.4,32.1 583.2,202.3 661.6,17.6 641.8,64.3 593.9,204.2 643.3,41.9 657.7,51.7 594.5,203.5 596.5,193.2 651.1,37 459.7,318.2 576.9,267.9 593.3,191.8 603.3,197.6 629.1,76.8 662.2,26.5 625.8,68.4 618.7,116.2 664.2,12.2 620.9,85.4 480.7,316.4 538.8,271.6 546,275.4 642.9,79.4 576.1,235.5 602.1,198.3 632.1,64.7 656.2,27.1 591.2,152.5 635.5,132.8 634,88.1 651.9,26.9 643,40.2 564,245.9 608.1,105.4 599.7,170.3 633.1,60.2 545.8,250.3 662.5,11.1 658.1,17.4 601.5,171.9 586.3,240.7 551.9,309.6 671.9,5.1 650.8,77.8 660.2,12.5 649.9,23.5 657.5,23.3 607.6,170.8 661.6,15.8 652.6,34.9 632.7,113.5 664.1,13.4 641.2,71.1 660.8,22.2 671.4,9.1 635.9,55 514.6,298.7 601.8,151.7 652.8,25.7 557.8,249 554.6,278.4 586.6,220.7 585.4,211.7 544.4,248.5 672.8,5.9 626.3,91.9 594.7,186.5 561.5,257.7 587.3,192.4 637.2,114 636,67.1 598.6,245 612.5,165.6 648.9,29 651.3,25.4 599.1,190.9 659,22.2 645.3,81.4 581.1,207.6 634.3,75.1 658.1,18 621.1,157.4 670.2,5 642.5,51.9 657.9,12.3 656.1,27.5 527.7,286.6 665.8,22.1 600.4,143.8 520.3,296.3 649.1,34 595.7,184.6 661.1,19.1 522.4,284 605.3,164.9 642.3,36 660.5,12.7 584.3,232.5 666.1,11.8 631.1,61.7 632.1,52.2 604.2,232.5 591.2,261.4 614.9,117.5 592,185.9 647.4,36.5 647.1,44.9 627.4,156.1 617.2,161.4 655.3,24.3 671.1,9 521.1,259.7 646.5,54.7 638.7,77 633.9,63.6 528,306.8 639.8,92.8 669.3,8.3 652.4,27.5 563.3,213.5 606.9,198.4 614.7,141.7 669.2,9.1 631.8,131.4 634.1,73.2 672.3,8 653.1,24.4 647.8,50.8 558.1,232.1 572.6,257.9 574.8,273.8 628.5,152.7 560.6,259.4 652.6,60.1 657.5,25.4 583.3,176.6 639.5,89.7 623.2,129 639.1,69.3 640.3,47.8 667,10.5 661.2,17.6 603,201.8 634.8,52.1 673.9,5.6 666.7,9.7 671.1,4.8 587.5,189.7 651.2,36.3 621.9,69.8 668.3,5.9 618.9,107.7 647.4,58.8 668.8,13.5 502.2,284.9 656.3,28.9 635.2,68 642.5,30.2 569.6,227.9 616.9,124.1 637.9,66.4 664.4,13.7 597.6,166.2 641.6,59.1 601.8,115.7 664.9,9.1 646.3,63.5 636.3,65.5 659.7,24.4 599.5,161.7 628.1,163.4 586.9,163.1 603,176 580.4,199.9 662.7,10.3 618,193.2 670.4,5.6 553.8,242 659.2,25.1 585,178.2 620,117.4 638.8,64.7 661.5,26.6 644.7,67.6 663.2,17.3 612,245.3 597.5,140.8 659.3,13.3 612,135.5 582.9,199.4 656,40.3 627.5,90.6 554.4,210.5 652.2,33.1 597.8,153.7 505.5,301.8 629.1,173.9 650.5,33.8 663.1,27.7 622.4,108 657.7,21.7 643.5,40.8 644,29 652,51.2 650.8,52.5 610.7,112 653.4,38.9 653,33.3 623,143.1 629.9,123.5 588.3,169.3 601.3,170.6 651.6,24.4 651.1,40.6 549.2,263.4 549,272.9 483.3,318.4 615,137.3 614.2,89.3 638.4,65.8 657.4,27.1 604.7,202.9 617.2,199.5 573,260.1 575.7,241.1 643.4,82.4 595.7,180.6 615.5,182.4 653.2,46 657.1,17.3 651.9,30.4 659.7,20.5 570.4,293.3 627.8,92.5 630,91.5 643.9,36.5 574.9,208.8 672.7,7.1 639.1,89.2 629.5,88.7 659.3,17.8 614.5,138.7 648.1,44.4 655.9,21.7 645.9,41.2 535.1,245.5 605.8,221.2 639.8,38.8 526.1,292.4 595.1,218.7 637,59 542.7,288.1 540.2,278.7 554.6,298.8 592.9,156.1 631.5,78.1 496.8,302 612.8,169.3 645.9,47.4 618.7,138.4 652.6,31.1 599.2,144.6 625.4,122.6 650.3,44.4" marker-start="url(#mhigh)" marker-mid="url(#mhigh)" marker-end="url(#mhigh)"/>
<polyline points="135.9,175.1 78.9,25.3 91,56.4 116.9,143.7 107.1,105.2 71.3,16.9 55.3,3.2 115,128.4 75.3,33.1 135.2,174.1 79.5,34.6 171.7,282.5 113.8,125.2 69.3,17.2 87.9,49.4 117.3,121.2 71,14.6 94.9,57 68.1,14.1 97.4,83.8 211.5,279.4 119.5,139.7 148.2,205.4 104.4,94.5 107.5,84.4 58.2,4.2 67.5,10.6 93.1,55.5 118.6,163.5 73,35.3 123.8,164.6 72,25.5 82.2,23.6 112.6,92.1 101.8,71.7 150.3,245.7 97.4,52 62.9,9.8 100.6,59.9 155.1,211.6 114.2,118.5 63.3,8.8 187.4,297.2 128.1,227.7 118.9,136.9 94.3,88.9 78.1,36.6 74.8,28.5 94.8,68 75.8,25.3 59.8,6.8 88.7,64.5 66.1,8.2 183.6,268.4 156.3,230.6 92.4,60.3 177.5,228.4 98.9,85.6 121.5,141.2 81,39.2 146.3,207.6 134.3,224.1 122,147 111.1,107.5 163.3,281.2 161.5,282.7 100,82.2 214.3,286.8 72.3,18.4 59.6,7 135.3,157.2 59.8,7.9 80.5,36.7 121.1,137.5 102.9,114 123.2,217.8 76.9,46 124.8,174.1 111.8,88.7 127.7,142.7 72.5,17.4 115.1,107.6 76.7,55 67,16.6 128.6,176 126.5,167.2 113,104.6 80.2,35.4 144.1,227.5 63.3,7.4 200.7,303.3 177.4,268.1 166.1,286.3 139.9,208 158.1,234.1 130.1,197.2 96.7,75.2 90.6,64.2 122.2,155.5 109.3,97.8 123.8,120.3 108.7,117.9 151.2,198.6 77.8,22.9 86.4,61 81,67.6 292.7,319.1 139.3,227.5 111.2,95.1 112.9,90.5 138.8,181.7 135.1,159.2 145.6,241.2 121.6,119.7 120.1,127.8 107.6,91.8 67.9,17.7 147,225.2 82,60.2 115.2,129.4 103.3,88.7 97.4,79.4 180.9,293.3 82.7,41.6 72.5,23.9 70.4,11.7 82.9,49.7 107.7,97.6 177.4,241 121.3,134.1 62.1,7.2 115,123.8 80,51.3 72.4,22.5 93.4,78 105.6,117.2 93.5,47.7 97.9,76.5 83.3,38.2 68.7,14.9 94.8,95 135.6,213.8 136.8,175.6 196,288.8 102.8,123 109.7,126.4 132.9,141 79.7,43.6 133.2,174.3 102.8,98.7 164.6,226.8 75.3,24 160.8,239.2 63.6,10.8 116.8,132.2 112.1,144.5 151.7,272.6 65.9,11.5 119.6,161.9 64.1,9.6 101.4,72.3 77.9,28.1 115.3,181.4 62.1,6.1 65.1,10.8 123.4,194.1 85.6,64.8 177.4,238.9 87.4,50.4 94.7,67.2 63.5,10.1 132.6,190.1 56.2,3.8 72.8,22.2 88.8,66.1 204.7,291.8 124.9,191.6 110.4,91 95.4,68.7 91.1,82.9 150.4,198.7 101.8,70.6 96.6,54.6 97.9,75.8 90.6,64.7 63.8,7.5 116.6,157.2 101.1,82.3 143.3,192.9 151.4,197.4 137.6,165.8 96.7,83.4 78.4,46.2 118.8,157.3 96.2,60.6 81.8,26.3 152.6,240.9 70.5,15 82.1,39.5 137.5,208.2 152.8,241.5 262.8,309.3 126.1,145.5 90.5,100.6 131.6,194.5 101.6,69.4 117.6,146.7 78,22.6 86.3,42.7 62.5,8.3 110.4,162.7" marker-start="url(#mlow)" marker-mid="url(#mlow)" marker-end="url(#mlow)"/>
<polyline points="187,27.2 126.4,45 257.8,217.1 233.2,147.2 310,302.2 240.3,182 260.3,223.4 148.2,6.7 126.9,35.8 203.7,72.4 388.2,319.9 61.4,224.6 121.6,52.5 222.1,125.9 135.7,23.8 215.4,91.2 111.7,84.4 194.6,45.8 292,272.8 265.9,243.3 114,66.9 122.2,49.3 107.9,87.6 267.2,227.7 61.1,215.5 76,193.8 293.9,278.4 260.3,212.4 204.1,66.9 56.2,244.4 115,64.1 233.5,135.6 104.7,106.3 204.7,85.7 225,126.7 75.8,177.8 104.1,94.9 209.5,81.8 68.4,199 218.3,108.9 230.6,137.5 205.4,69.5 63.5,214.9 74.2,172.8 135.4,22.7 147.7,8.4 91.2,137.8 91.1,128.1 87,139.8 124.2,49.2 138.1,20.3 99.2,112.9 229,139.4 171.7,8.9 92.8,127.4 336.5,312.3 199.1,58.5 124.2,51.3 229,139.8 215.7,108.8 193.3,38.5 174,9.6 222.2,116 173.8,11.9 252,197.7 124.5,42.1 182.8,20.9 106.4,94.9 96.1,116.3 105.8,95.5 188.9,33.7 258.4,239.7 270.9,241.1 266.3,238 192.3,47.4 230.2,135.8 94.2,119.6 246.4,175.2 111.9,82.6 203.6,72.9 260.4,223.1 258.3,210.9 204.5,79.3 286.2,269.5 181,22 116.3,59.8 181.7,22.4 198.8,54.1 76.6,189.4 92.9,123.3 228.4,123.6 192.9,41.1 122.7,48 224.3,128.7 127.9,35.7 280.7,249.2 132.8,23.8 178.1,16 108.4,75 193.8,36.4 212.3,98.1 119.1,60.3 81.1,158 132.7,28.3 175.5,11.7 54.1,219.5 100.4,104.9 93.6,107 133.7,28.6 142,13.9 193.6,40.4 127.1,37.3 180.7,17.6 116.3,62.6 107.2,89.1 198.1,51.2 189.3,31.9 66.4,197.2 263,231.5 136.4,21.5 248.1,182.5 106.5,88 239.7,160 236.9,159.9 149.5,6.2 295.7,288.7 130.9,25.2 198.4,69.8 111.1,76.8 187.9,31.5 238.9,171.8 204.1,57.7 197.6,53.5 231.4,138.6 117.4,59 115.6,66.1 112.3,81.5 203.6,72.2 135.5,21 178.2,14.5 224,128.1 262,214.7 146.8,8.8 143.9,12.9 227.6,133.1 315.1,297.6 259.4,200.6 199.4,52.8 189,31 137.7,19.3 287.8,274.3 128.6,39.1 111.1,76 195.3,40.9 205,63.5 113.6,66 246.3,169.2 124.2,48.6 184.7,25 196.9,50.5 208.6,90.3 265.1,233.9 66.6,185.6 88.3,132.6 97.5,132.1 179.3,17.4 243.4,167.3 192.6,36.4 221.4,108.3 343.9,317.3 84,158.8 250.6,186.3 134.9,22.8 287.8,272.4 188.3,31.2 256.4,202.8 78.2,177.4 256.5,222.9 192.8,38.8 220.3,122.9 101.2,101.9 198.8,57.9 175.6,11.8 185.1,26.6 112,80 213,93.3 84.3,163.4 100.9,115.3 280.3,251.4 267.8,252 130.9,36.1 133.6,29.4 97.9,110.2 161.9,2.7 83.5,147.8 72.8,199.2 235.4,152.3 203.7,68.2 141.7,14.7 278.8,271.8 144.5,10.7 137.1,19.4 260.1,208.4 245.9,195.8 140,17 91.4,134.5 262.7,209 91.8,128.6 318.4,304.9 133.5,23.1 288.5,271.9 71.7,181.6 100,95.2 249.5,202.4 210.1,82.1 234.8,151 277.9,269.7 86.4,147.3 137.9,18.8 228.8,129.7 222.6,131 101.6,101.4 251.2,212.2 183.4,22.2 188,33.5 270.9,246.4 93.1,138.3 183.3,28.6 114,78 113.9,82.2 259.1,219.9 194.2,47.9 180.6,18.9 212.9,92.5 131.3,28 245.1,188.2 209.1,78.7 173.1,8.6 227,133.9 106.8,87.3 216.7,104.4 217.8,111.5 133.5,26.4 97.3,119 190.2,30.8 133.8,26.3 54.7,228 204.9,72.2 198.9,50.5 138.3,18.8 72,171.3 123,48.5 128.2,34.3 213.7,99 99.8,107.1 136.3,22.2 301.8,295.2 187.5,33.5 184.4,23 295.7,275.5 242.2,177.6 189,31.4 95.4,115.8 315.6,297.1 275.2,256.6 69.3,203.2 243.4,183.6 185,25.1 137.3,21.5 135.9,24.1 130,35.6 282.1,267.1 312.9,304 121.8,56.3 207.3,78 128.5,36.3 111.4,72.8 93.2,150.5 277.2,255.2 49.9,252.3 50,241.6 250.1,180.2 78,170.4 117.7,58.6 102.5,96.2 132.6,29.4 189.6,34 135,23.3 112.8,72.7 228.9,133.3 141,13.6 268.9,252.2 121.5,45.9 76,168.4 200.7,56.4 62.6,227.6 67,191.7 153.7,3.6 94.1,129.9 184.4,21.4 72.6,179.2 123.1,45 272.1,243.2 117.2,51.7 198.3,58.6 102.9,108 141.9,13.3 222.5,118.7 192.1,36.8 124.3,39.8 215.6,98.5 210.8,87.2 267.7,256.2 108.4,82.4 110.8,82.7 247.2,196.8 117.4,66.7 138.6,14.9 185.5,28.3 237.2,172.2 234.1,151.5 181.8,21.2 227.2,118.9 103.3,102 110,84.4 250.5,188.9 182.1,19.2 215,101.3 202.3,65 216.8,91.9 219.2,102.5 229.2,128.7 290.4,270.2 251.4,208.6 82.9,143.7 213.4,106 81.1,163.7 100.2,112.4 126.8,37.9 303.6,296.8 224.3,119.2 93.2,126.3 147.9,8.2 65.4,200.3 280.1,268.1 237.5,168.5 200.4,64 234.4,166.2 186.4,30.4 114.3,64.3 90.5,146.5 198.9,66.7 104.8,93.2 84.4,149.4 194.4,47.5 104.5,87.3 211.6,92.8 239.2,174.8 275.3,259.3 215.7,96 181.2,18.6 229.1,127.5 109.6,77.8 57.7,237.6 199,53 224.4,124.2" marker-start="url(#mmgmt)" marker-mid="url(#mmgmt)" marker-end="url(#mmgmt)"/>
<polyline points="280.8,85.5 259.1,15.2 141.1,305.2 263.6,29.5 187.4,222.1 226.2,38 231.7,20.6 263.1,22.2 297.5,169.1 185.4,197.5 201.9,112.9 298.9,219.9 290.4,155.6 317.9,241 280.1,125.3 136.9,303 213,122.4 174.6,203.5 210.5,146.2 284.7,120.7 298.6,208.9 225.7,41 230.2,23.9 286.7,155.1 219.2,69.8 266.6,53.6 300.4,158.6 139.8,314.3 238.5,9.9 271.6,65.7 224.5,52.5 201.2,119.8 256.7,27.9 250.3,5.8 256.1,12.6 295.4,173.6 257.5,17.5 199.1,150.4 226.5,29.1 314.2,208.5 266.1,34.5 230.8,20.1 277.6,77.2 231.4,33.6 261.2,33.1 200.2,143.4 327.5,276.3 280.5,119.9 273.5,57.5 281.7,101.1 271.1,70.9 200.4,156.2 234.2,32.9 218.3,67.3 266,34.8 273,109.8 336.4,278.7 201.1,147.9 255.7,16 257.9,13.7 263.7,40.8 221.7,47.9 287.7,124 221.4,56.6 282.8,102 210.9,60 233,22.5 317.4,244 286.4,108.6 264,36.5 264.2,35.3 279.5,91.8 213.5,80.1 292.7,164.2 283.6,158.4 301.9,142.1 298.5,146.2 147,299 287.5,127.5 264.7,38.5 167.9,223.6 267.5,65 226.6,45.5 217.1,154.4 219.7,55.7 115.9,316.5 257.6,10.4 201.4,101.2 233.8,21.2 313.3,217.1 213.5,104.5 233.6,15.1 154.1,288.8 211.5,76.1 167.9,274.1 272.5,67.1 220.5,67.7 274.2,85.8 204.7,144.4 235.3,12.7 208.4,105.7 198.9,126.7 232,17.3 216.8,67.4 239,10 196,158.3 171.2,233.5 287.5,176.7 231.4,30.6 251.2,5.7 206,136.9 183.3,216.2 259.5,26.6 258.3,16.9 268.8,63.5 240.6,4.9 310.7,232.8 271.1,51.2 187.6,223.7 201.4,132 315,229.5 223.8,51 255.6,17.4 220.9,50.1 310.2,210.2 289.3,137.1 229.1,29.7 233.4,17.8 292.4,192 158,286.8 302.1,221.5 279.3,119.6 181.3,181.5 258.3,14.4 269.2,54.6 254.4,10 287.3,237.6 285.8,172.9 217.1,81.7 272.6,114 280.5,117.7 230.3,17.9 296,153.7 212.6,88.8 285.5,96.6 178.8,247.9 265.5,38.7 336.2,281.2 314.1,219.5 219.6,87.2 105.3,316.2 255.1,15.8 285,142 253.4,4.9 255.6,12.4 187.2,193 198.2,176.9 200.3,180.6 306.9,198.9 263.6,21 210.8,87.8 237.2,8 210.4,121 217.2,55.4 173.3,221.7 220.3,66.6 295.2,132.3 203.9,123 213.8,108.5 264.3,34 170.1,256 220.7,52 212.6,111.2 184.4,236.4 237.9,12.2 216.9,63 203.7,140.9 217.2,79.4 226,85.4 276.3,122.8 262.1,35.1 291.9,175.4 275.9,105.5 319.6,252.3 256.9,14.5 229,22.7 272.1,67.6 264.1,28.7 265,43 293.2,142.2 192.1,188 274.4,58.7 218.1,47.6 238.8,13 285.7,103.2 274.9,84.3 259.2,31.5 296.6,143.9 277.4,142.4 281.7,95.9 235.5,13.4 201.2,130.1 315,207.2 277.5,106.7 296.8,244.8 168.4,270.9 269.2,69.9 228.2,40.2 290.8,190.3 268,36.9 279.2,112.2 242.8,5.5 263.7,27.4 284.9,132.1 240.7,6.7 319.7,195.9 309.8,277.3 233.3,17.6 237.1,8.7 299.2,189.9 232,19.5 294,181.3 282.9,126.8 309.1,277.3 162,299.4 234.9,17.1 269.8,65.7 255.1,8.1 281.7,136.3 269.2,69.4 295.4,167.5 234.6,31.5 266.8,56.6 322.4,254.6 231,37.1 258.2,20.9 190.6,170 269.1,45.9 221.9,57.1 277,80.8 211.2,124.7 212.9,103.2 251.4,4 268.9,44.5 335.2,301.5 267.2,44.8 269.7,53.1 307.2,270.8 287.1,160.2 202.3,111 266.4,60.7 287.8,111.3 276.2,58.3 191.2,237 315.9,264.1 291.4,112.5 213.4,85.3 191.4,181.1 132.2,319.3 273.3,42.9 207,136.4 213.7,72.7 217.4,86.6 233.8,30.5 230.2,37.6 304.5,216 273.3,46.2 293.1,171.9 165.7,281.9 319,253.3 290.1,235.2 275.9,59.7 171.1,237 313.1,179.2 211.5,103.5 282,149.3 222.2,70.5 211.6,92.6 265.9,35.3 201.6,117.6 265.7,42.8 234.8,22.9 330.4,277.8 225,41.4 289.5,113.4 276.3,95.1 177.1,228 261.4,23.9 274.9,64.6 238.9,8.2 306.7,214.6 289.8,197.1 232.8,24.3 202.4,144.5 266.6,52.7 305.8,149.9 224.7,58 181.8,270.3 202.5,113.4 274,161.1 327.8,291.5 281.9,95.6 315,283.8 298.5,190.8 230.6,27.2 221,60.5 334.7,273.3 261.6,28 278.9,142.6 221.1,108.1 222.5,52.8 279.6,117.7 209.5,66 225.3,34.9 299.7,219.3 273.9,53.3 257.7,19.3 201.6,122.8 182.6,218.8 173.6,225.7 224.7,58.4 263.2,25.1 288.6,149.9 195.9,150.9 236.2,11.2 202.6,132.1 154.6,293.3 213.5,99 277.2,106.4 179.7,256.3 275.4,93 283.7,98.1 239.1,7 302.2,203 303.3,150.1 277.8,121.4 193.8,186 206.4,109.3 170.8,260.2 219.3,74.2 325.2,280.6 178.7,276.8 210,89.2 182.2,263.6 254.1,12.8 278.4,94.6 307.4,248.1 215,92.4 273.8,51.6 208.7,125.5 275.4,49.2 197.5,229.5 235.2,14 212.9,77.6 259.3,14.2 283.2,74.2 191,228.6 189.1,215.9 158.6,303.6 204.1,168.2 222.8,83.5 192.3,188.1 193.4,170.6 285.4,163.7 281.6,125.2 290.8,191.3 248.3,3.6 359.7,307.2 214.3,102.9 233.8,26.6 202.6,203.6 220.9,98 227.6,33.5 228.8,54.4 189.4,202 216.2,117.7 286.2,114.2 172.6,283.9 236.8,11.8 284.3,111.2 270.9,49.9 233.8,26 263.3,28.4 257.9,19.1 258.2,17 220.4,51.5 124.6,315.4 201.1,157.8 206,100.2 271,75.2 214.6,94.9 262.9,24.2 292.7,224.5 254.7,8.2 281.7,99 268,30.8 220.9,48.2 298.1,209.7 274,129.3 223.8,34.1 239.3,7.7 284.7,179.5 229.1,35.9 299,178.6 305.2,233.1 324.7,293.6 233.3,13 268.3,75.6 227.2,44.7 200.8,164.5 230.5,29.9 195.1,195.4 274.6,70.4 268.6,76.7 277.2,61.4 264.4,62 216.6,92.1 269.6,43.5 255.4,8.6 213.4,67.1 256.4,22.4 211.4,143.7 145.2,315.3 263.9,29.6 253.6,10.6 320,257.1 233,18.6 283.9,104.5 219,103.6 201.5,152 234.4,17 288.5,154.1 303.6,168.8 203.3,168.9 336.9,265.8 295.3,207.1 202.6,141 219.9,62.7 210.1,95.6 304.6,196.9 183.1,264.2" marker-start="url(#mlower)" marker-mid="url(#mlower)" marker-end="url(#mlower)"/>
<polyline points="373.3,25.1 413.1,219.3 395,136 343.6,119.1 337.4,174.6 374.1,25.1 373.7,18.3 350.7,60.1 372,19.9 397.3,204.3 377.9,46 390.9,142.1 351.8,49.8 357.7,22.2 349,74.3 316.7,248.3 399.5,198.7 382.8,86.2 419.1,270.8 347.6,68.8 375.8,38.3 346,73.5 402.1,209.2 380.4,50.6 385.3,83.8 385.1,76.1 429.8,303.4 298.7,295.2 357.4,20 371.2,9.7 384.2,67 369.5,4.8 391.9,132.1 395.7,143.6 356.8,27.1 406.4,206 375.4,30.6 421,300.6 409.8,251.6 330.7,252.5 386.5,123.7 397.7,165.2 381.1,50.2 353.4,30.3 400.5,246.5 358.7,17.4 369,7 347.7,53.5 333,198.4 407.9,188.8 350.9,40.9 357.1,14.1 410.1,242.5 414.1,297.2 382.1,59.7 351.3,100.1 338.2,106.5 370.5,8 348.5,53 360.8,8.7 382.2,75 371.1,8.3 349.5,48.3 331.8,184.8 394.3,167.7 384.2,86.6 374.8,40.9 321.9,248.8 355,25.3 383.9,72.8 322,219.4 393.5,160.5 352.2,47.1 336,158.8 378,46.3 351.7,73.8 379.4,39 375,21.6 352.3,31.7 350.6,72.2 352.1,45.4 349.3,47 327.5,166.8 413.3,253.6 404.1,226.6 330.5,243.6 340.7,127.4 404.6,225.6 377.2,29.2 345.8,103 386.1,98.4 393.5,208.6 412.9,238.6 398.5,195.6 404.3,190.9 344.6,68.8 395.6,150.4 321.2,271.1 383.1,64.1 382.3,79 347.7,83.4 403.5,210.5 350.6,49.6 401.1,263.1 397,202.1 394.5,116.8 377.7,38.6 385.5,120.5 343.2,120.3 405.3,167.1 410.2,236 384,97.4 383.7,79.3 380.2,52.2 348.9,115.6 363.9,4.6 379,45.6 353.1,42.4 341,104.7 339.3,149.4 405.2,223.9 375.8,22.7 343.4,109.9 377.1,40.1 418.3,274 347.8,64.2 378.5,35.4 338.5,110.5 320.8,275.5 382.3,77.3 394.2,145.2 392.1,114.8 322.2,203.6 396,187.9 380.2,47.9 372.1,12.3 371.5,7.9 383.5,51.1 339.8,144.5 370.5,10.5 344.3,118.6 347.2,85.7 356.1,30.8 369.3,5.4 350.7,55.6 376.8,38.6 360.4,15.7 346.8,78.9 408.5,212.8 333,203 378,50.7 348,72 385.9,90.6 413.8,260.5 377.8,36.5 358.9,16.7 346.3,71.9 377.6,61.8 326.3,243.3 341.4,173.4 312.8,255.9 393.3,234.4 403.7,200.9 395.1,153.2 384.6,60 351.6,54.7 373.4,24.7 329.8,268.1 329.7,206 387.7,82.5 360.6,10.9 355.9,23 389.5,98.2 349.7,44 392.8,123.4 369.6,8 307.2,290.5 400.1,173.3 334.7,156.7 407.9,264.7 384.2,65.5 355.6,25.1 353.1,53.5 339.5,132 386.7,90.1 326.8,201.7 321,244.8 376.5,34.4 411.4,258.3 346.6,125 338.7,172.4 402.2,174.2 395.2,161.8 331.7,194.2 372,16.2 390.4,114 373,20.4 344.4,122.3 292.3,313 347.8,88.4 407.2,238.6 319.6,229.6 359,23.6 381.3,64.4 418.6,275.2 392.6,155.3 346.5,107.4 385.5,67.1 392.4,139.2 370.2,11.6 390.3,125.4 378.9,58.9 345.5,100.7 323.6,244.7 344.7,109.8 396.5,185.9 392.2,140.6 349.3,64 399.6,192 379.8,55.2 352.2,37.8 355.2,27.7 363.4,6.4 337.5,201.3 321.6,210.6 375.5,14.4 410.3,244.9 389.9,135.1 395.6,161.8 380.5,53.8 419.2,307.4 412.1,277.3 392.9,169.7 393.9,192 384.8,90.4 379.5,97.5 364,4.1 334,215.1 369.8,7.3 405.3,269.8 376.8,33.6 385.6,67.5 353.1,46.9 373.2,19.5 393,161.7 336.3,129.3 398.1,158.1 355.5,23.3 389.2,111.8 332,205.6 348.9,82.4 387.4,142.7 395.1,126 371.6,13.7 393.7,163 384.8,68.7 333.7,156.3 395.7,133.8 392.3,218.7 378,64.8 354.3,31.3 326.3,217.1 383.3,86.3 354.4,41.6 326.2,223.8 382.9,78.6 384.7,90.5 375.9,17.8 374.8,33.4 379.7,45.3 412.3,246.1 345.3,114.4 338,183.7 354.2,25.9 372.9,12.6 331.5,260.9 384.9,60.9 391.4,214.8 382.6,81.6 351.2,54.9 403.2,176.3 326,184.9 392.7,125.1 315.5,280 400,276.4 312.1,295.6 349.1,82.1 314.7,272.6 375.9,36.6 392.8,175 335.2,203.6 375,20.3 333.1,187.5 327.2,264.9 389.9,140.7 387.2,101.5 389,99.4 385.6,106.8 376.3,36.1 381.3,42.5 382.1,68.9 349.7,60.6 391.1,97.1 354.7,37.1 397.7,151.3 401.5,227.3 376.3,22.6 423.5,282.6 343.9,131.9 331.2,191.4 374,18.6 338,196.5 382.6,66.5 373.5,22.6 349.9,61.4 361.4,14.8 355.9,18.3 403.1,258.8 415.2,294.3 377.9,54.9 387.6,94 379.8,49.4 311.6,274.8 423.9,297.2 378.5,34.8" marker-start="url(#mmed)" marker-mid="url(#mmed)" marker-end="url(#mmed)"/>
<polyline points="531.8,153 459.2,73.6 436.5,152.3 460.8,49.7 478.8,13.9 559.2,219.3 442.9,139.8 502.2,21.6 506.7,34 467,32.3 566.4,255.8 508.6,62.2 459.8,55.9 477.3,15 557.4,242 517.9,79.9 504.9,20.7 442.7,140.8 470.8,29.8 480.2,5.7 511.9,55.7 474.3,29.6 462.4,49.5 466.5,33.3 496,7.2 438.8,193.8 453.9,75.3 376.3,306.5 513.8,62.6 515.1,100.3 456.9,76.2 484.1,4 467.5,33.1 440,163.9 526,82.2 461.1,69.3 519.3,138.7 566.7,312.4 498.8,13.5 506.7,38.3 483.8,4.6 512.8,71 523.9,135.9 536.2,191.4 548,216.7 480.1,8.5 397.7,286.4 477.6,28.8 454.9,116.3 477.6,9.2 522.1,95.8 462.8,70.6 460.5,67 432,204.9 464.6,35.9 537.6,184.3 549,213.5 466.5,50.3 473.2,24.9 511.9,80.3 533.6,172.8 453.3,102.4 458,74.2 536.8,166.2 511.6,47.4 456,87.5 566,240.3 474.6,15.5 449.8,86.7 530.8,142.1 537.7,142 460.1,64.6 470.8,41.4 513.9,63.8 529.8,179.4 518.7,104.6 468.8,38.7 341.2,314.4 588.7,294.2 440.8,128.3 542.1,239.3 522.7,126.1 499.2,14.4 521.2,70.1 470.3,22.7 445.1,97.2 510.1,43.6 508.7,36.8 560.9,199.3 526.1,107 441.7,148.5 456.7,105 437.9,189.6 467,40 456.3,71.6 509.4,40.1 538.8,179.9 506.5,34.8 388.8,279.8 475.6,10.9 552.4,190.6 510,37.3 528.2,92.4 497.4,15.9 431.2,211.7 510.4,47 533.1,141.1 435.7,143.2 543.7,256.3 584.5,300 452.7,93 464.9,54.4 446,132.9 501.3,16.9 559.1,255.8 465.4,42.9 521.7,81.2 563.7,240.9 515.3,88.2 436.8,177.5 496.9,9.7 466.1,53.3 498.3,14.8 442.8,141.6 543.3,206 517.5,66.3 476.1,18.7 410.5,233.7 511.1,37.3 519.6,103.5 464.8,68.4 562.6,244.8 475.3,13.6 465,43.4 536.4,156.1 566.8,280.1 556.1,281.9 468.4,48.3 532.7,170.8 511.5,65.8 494.5,10 417.2,258.2 466.1,36.8 535.8,164.6 544.9,180.3 450.1,144 439.3,193.3 495.4,12 542,120.4 466,40.5 541.1,199.1 561,252 437.7,168.1 444.5,114.5 478.8,10.9 548.7,273.9 478.5,8.2 423.9,220.1 508.1,50.1 450.4,117.7 463.4,55.9 401.1,274 495,8.4 429.7,221.1 496.5,7.8 500.9,24.6 514.4,77.2 410.5,215.6 500.4,13.2 503.8,21.2 444.4,136.5 452.8,94.9 586.9,297.7 517.5,150.5 517.8,96.6 468.1,19.7 416.2,191.3 451.9,89.9 473,25.6 468.9,43.6 572.9,258 560.2,272.8 444,151.9 586.4,294.1 523,121.4 509.2,60.3 536.7,160.3 382.5,305.9 502.1,16.9 551.6,260.4 469.5,26.6 547.7,193.2 449.3,117.2 509,43.9 466.8,54.5 478.6,8.4 494.2,8.4 517.1,95 494.7,8.5 464.4,67.5 459.8,88.2 475.4,21.3 466.5,56.9 466,33.1 510.8,63.8 491.2,5.3 449.6,98.5 473.3,27 473.8,19.6 464.1,62.3 511.2,80.9 558,264.6 525.1,140.4 448.7,113.5 514.5,67.4 473.6,12.5 491.7,5 429.9,167.2 435.1,169.1 515.6,53.7 457.7,68.6 507.3,68.6 525,120.5 453.8,76.7 454.5,90.4 542.3,235.1 507.3,30.3 514.1,80.1 419.7,255.4 469.4,24.2 470.6,30 529.3,135.1 417.3,234.8 514.2,67.3 439.5,174.1 465.1,49.8 509.5,40.9 454.1,101 545,183.7 518.1,126.5 475.3,19.1 474.2,20.5 468.3,31.5 394.7,309.7 457.5,87.9 510.4,58.7 357.7,319.8 457.6,95.1 517,66.1 513.2,56.3 552.3,210 456.8,52.9 427.4,180 508.4,43.7 431.5,141.2 447.5,117.8 437.8,175 514.6,51.2 472.9,14.9 502.2,22.3 438.7,188 450.8,116 502,18.5 557.4,248 517.8,76.4 444,104.4 541.5,204.9 529.2,150 404.3,294 510.8,70.8 408.3,256.5 546.7,171.7 457.1,90.1 476.5,10.4 355.2,319.6 571.6,284.7 504,52.4 354.3,310.2 547.2,213.9 456.1,71.2 465.3,50.2 522.3,125.5 509.6,39.4 446.2,124.6 436.8,158.8 524.4,157.5 523.1,112.3 422.9,188.9 561.1,261.9 464.6,50.7 480.7,4.7 467.3,47.6 450.6,75.9 459.7,104 449.5,96 506.8,40.8 539.7,207.6 503.5,23.5 474.7,21.2 450.4,96.7 531.8,171.6 537.4,190.5 470,33.2 516.2,83.1 436.8,160.8 464,53.9 500,18.7 456.1,84.2 419.2,260.3 522.8,111.5 609.4,320.1 409.1,289.7 523.1,93.8 510.4,56.4 535.5,222.8 529,169.6 505.5,34.9 460.1,60.4 468.5,29.8 535.6,152.6 519.6,80.4 378.6,306.3 450.1,112.1 535.7,164.4 495.4,6.2 516.3,101.7 464.4,53.9 462.3,59.8 471.3,23.5 437.4,168.5 475.2,11.9 419.8,280.7 562.4,217 548.7,254.3 405.4,275.4 573.5,286.2 516.1,70.9 448.2,99.4 459.8,87.7 504.5,34.4 535.1,127.1 421.9,181.9 416.5,224.5 455.9,67.3 529.8,127.2 501.3,14 532.1,167.2 438.6,126.8 538.5,189.9 453.5,84.8 472.9,29.6 549.4,192.7 496.4,9 427.4,187.4 422.4,237.6 522.1,106.7 516.2,55.5 440.4,158.8 421.2,269.8 472,29.6 416.8,277.2 523.6,122.7 541.9,228.2 519.8,66 374.2,312.8 366.9,306.3 522.3,109.2 548.4,216.5 453.4,73.7 514.6,55.8 521.3,89.9 458.3,79.9 416.6,251.5 480.5,9 368.2,312.8 611,313.8 527.3,105.7 476,11.7 516.5,68.2 513.4,64.3 492.4,5.4 437.8,196.5 444.1,166.3 468.6,60.6 473.8,25.6 513.5,73.5 517.4,69.9 463.2,42.5 418.8,233.4 450.8,117.5 516.6,59.6 409.1,252.6 403.5,273 567.3,239.1 512.7,46 520.3,98.9 543.9,226 465.5,54.2 564.7,259.5 405.6,244.3 461.9,55.2 542.6,202.6 530.6,154.8 477.5,10.5 521.4,82.5 424.2,225.5 541.7,202.8 413.3,207.7 568,248.2 564.8,264.3 464.3,58.7 435.4,161.5 504.2,36.6 469.5,20.8 438.6,157 535.9,172.5 455,76.6 430.7,150.9 454,99.2 513.5,66.2 464.8,48.5 466.1,40.9 533.8,124.3 442.2,136.8 408.9,309.9 502,20.1 504.8,27.4 505.7,28.6 459.4,63.2 429.5,203.9 442.7,160.4 518.8,119.1 558.1,275.4 526.7,87.9 558.1,207.8 458.6,94.9 529.5,165.3 536.2,152.1 478.6,13.5 457.2,87.7 467.6,33.6 498.3,20.6 532.2,121.1 502,21.8 549.7,249.2 417.1,235.3 460.6,53.7 545.5,170.8 542.1,183.8 553.7,242 534.8,158 525.7,120.6 460.7,70.2 463.1,49.4 530.5,98.5 415.7,271.5 569,280.5 469.5,27.5 446,175.7 448.8,118.6 518.5,113.6 526.9,103.7 422.3,204.8 429.4,197.2 469.7,38 547.9,221 505.2,28 431.1,182.9 433.4,208.8 443.3,135.1 461.2,59.1 514.1,50.4 522,114.9 565.4,246.6 448.4,107.7 521.3,94 447.8,86.3 410.7,245.7 548.1,231.1 511.2,49.3 458.5,84.9 479.3,10.7 519.9,98.8 562.7,274 538.8,135.4" marker-start="url(#mhigher)" marker-mid="url(#mhigher)" marker-end="url(#mhigher)"/>
<polyline points="656,60.1 612.1,184.8 657.8,22.8 663,16.4 625.2,104.2 668.9,9.6 640.2,56.3 516.4,302.1 658.4,25 616.6,147.6 563.2,250.7 636.9,54.5 537,272.8 638.3,48.2 629.5,78.6 632.5,63.7 562.1,277.8 438.2,315.4 631.5,70.9 640.1,47.9 638.5,39.6 546.4,275.4 646.8,49.1 573.6,247 546.2,258.9 562.4,266.5 545.4,280.3 642.4,75.7 660.1,15.5 647.9,33.6 636.5,76.8 575.6,256.1 632.1,82.2 626.2,87.7 611.3,188.1 537.7,261.5 672.5,5.4 553.1,245.5 629.2,51.6 668.2,6.9 556.3,211 619,167.4 666.4,13.4 619.9,114.3 621.5,70.9 643,59.9 562.8,310.6 587.5,204.6 614.5,120.8 631.8,82.5 646.7,37.8 555.4,286.3 654,29.3 628.6,51.9 518.4,303 589.8,240.1 665.4,8.4 610,150.6 601.1,157.6 642,50.7 634.8,127.8 652.4,26 659.9,25.9 633,42.9 633.5,80.8 646.9,45.9 645.4,65.6 601.4,157.7 641.8,81.7 659.2,22.5 655.6,28.4 615.3,95.9 667,9.2 668.7,7.2 658.4,25.8 621.8,139.9 613,107.9 630.3,95.7 609.8,192.2 513.7,295.8 654.1,26.2 566.5,284.3 662.3,15.5 668.2,6.3 619.6,119.6 669.1,7.9 670.1,7 602.2,142.9 572,252.9 664.4,9.2 635.8,41.9 535.8,248.2 561.1,272 619.2,98.9 657,19.1 616.3,117.1 648.6,36.5 621,97.7 575.5,309.4 633.3,58.2 562.2,176.4 648.4,52.8 635.5,59.1 604.1,127 567.3,270.8 551.6,186.1 620.1,162.5 656.1,18.1 577.1,228.1 592.6,270.6 594.9,223.1 665.4,13.4 653.8,43 587.6,204.2 653,30 644,54.7 626.8,83.7 649.4,33.9 610.9,104.3 670,10.8 664.9,11.5 629.8,124.7 628.3,160.9 623.2,151.9 660.6,16.4 591.3,200.2 602.2,201.9 649.3,36.9 571.2,282.9 596.6,154.1 548.9,270.4 616.1,128.6 580.3,231.2 642,71.5 524.9,311.3 606.7,110.3 634.3,107.1 622.7,182 616,110.3 625.3,66 603,132.8 661.3,18.3 593.6,231.3 521,300.3 562.5,213.9 627.7,97.1 615.6,122.1 649.9,39 628.3,111.1 602.9,130.3 598.3,129.4 663.2,28.4 629.7,99.9 556,234 653.7,31.6 565.7,256.7 656.5,19 655.1,28.1 632.1,122.9 641.3,58.3 669.8,7.8 557,284.2 651.3,33.1 622.6,118 517.6,301.5 665.2,10.4 606.6,210.2 506.3,316.3 627,55 633.2,80.9 567.7,221.4 629.1,93.3 636.3,86 664.4,19.5 675.4,4.7 642.2,79.1 654.4,31.9 639.2,44.3 593.5,242.1 502.2,293.1 658.2,15.4 655.2,34 641.8,42.7 665.2,9.7 612.6,117.1 609.1,119.7 635.2,93.5 654.7,21.1 659.1,20.5 652.6,26.8 638.3,74 640.7,45.7 653.4,25.7 625.4,110.6 652.5,50 580.9,192.6 666.9,17.9 631.8,98 593,228 512.3,276.6 600.4,221.1 634.4,79.8 608,141.4 635.2,40.4 667.5,10.6 650,29.2 614.1,123.7 624.9,92.3 528.4,253.4 653,26.6 621.5,130.9 666.6,12.2 662.5,13.3 637.6,68.9 635.8,72.1 640.7,71.1 651.3,42.7 641.4,64.1 632,75.8 613.6,101.3 594.6,140.7 675.7,3.2 587.6,180.2 661.8,13.8 654.1,22.3 579.9,193.7 635.3,59.9 658,31.4 590.8,164.1 646.6,45.7 638,52.5 653.2,63.3 639.8,40 560.6,264.6 659,31.5 624.4,82.7 574.4,232.2 619.7,236.4 655.9,32.7 621.1,142.6 657.1,23.6 612,144.7 646.2,43.4 589.7,158.7 647.6,40.4 662.7,25 652.7,41.6 657,29.1 642.7,49.9 614.5,133.7 652.5,52.4 627.5,79 617.5,118.9 661.9,27.1 631.1,86 624.8,96.1 620.2,88.2 654.6,30.6 671.3,6.2 634.5,80.8 663.4,13.2 549.2,249 656.5,37.2 654.3,26.6 617.5,136.3 613.1,104.5 565.8,232 593.2,172 575,208.6 651,30.7 631.5,120.8 660.5,19.2 655.3,35.9 647.2,47.1 632.4,80.8 611.4,183.8 669.9,8.9 649,25.8 591.6,173.7 615.5,111.6 559.4,219.1 652.2,33.6 609.6,100.3 591,175.3 576,199.4 662.4,19.7" marker-start="url(#mhigh)" marker-mid="url(#mhigh)" marker-end="url(#mhigh)"/>
<polyline points="117.3,107.4 92,52.6 91.6,55.7 95.3,71 258.4,316.9 93.6,63.4 111.2,106.8 84.1,37.2 113.9,107.7 150.2,244.4 119.7,105.4 119.7,144.2 145.5,217 129.1,186.3 69.6,21.5 104.3,125.2 76.6,24.9 143.7,213.4 116.3,121.9 71.3,19.2 99,113.3 156.4,241.7 66.2,10.9 70,31.4 80.9,28.6 183.5,277 120.7,167.3 86.1,40.3 70.6,26.9 168.4,269.4 116.6,105.4 155.6,210.2 113.3,139.9 156.2,226.9 103.7,114.3 142.7,202.3 94.7,97.8 164.3,259.6 93.3,63.2 84.7,51.1 192.5,249 81.3,34.3 118.6,155.5 111.9,182.2 79.5,51.2 130.8,152.7 97.6,92.6 79.5,32.8 119.7,121.6 97.1,70.3 82.6,35.8 89.3,50.8 80.1,41.9 103.3,87.4 154.5,225.1 135.2,199.1 121.1,143.2 103.9,98.4 82.7,58.7 87,72.9 125.5,117.7 76.2,32.1 124.6,156.9 83.2,58.6 93.7,68.5 74.5,25.4 64.4,10.1 94.1,79.8 107.8,91.3 108.2,123.2 150.9,179 98.2,103 68.1,14.9 91.6,76.5 98.5,83.8 116,154.1 107.4,143.9 118.5,152.8 125,143 85.4,40.7 67.5,15.2 74.3,20.5 84.1,40.6 98.9,105.9 87.9,37.8 119.4,133.5 77.1,41.6 142.7,213.9 138.8,225.4 136.9,170.2 98.4,113.1 93.3,49.2 84.3,50.6 101,72.7 177.4,248.3 70.2,16.2 120.6,145.8 75.6,39.3 70.2,15.2 143.4,172.9 97.2,91 78.6,39 115.9,120.2 65.1,11.3 116.3,199 111.4,132.4 73.7,38 95.2,80.7 139.5,174.9 118.9,113 156,223.5 136.7,229.4 156,259.2 130.8,185.6 155,221.5 81.1,30 119.8,182.1 82.1,74 99.5,106.9 97.5,78.3 137.3,221.3 79.6,32.5 107.6,133.8 128.9,135.6 112.2,122.2 63.2,9.3 140.9,201.3 85.5,50.1 157,216.6 81.4,51.8 100.2,106.6 97.8,66.7 117.2,122.6 83.2,35.5 73,18.5 93,59 131.5,139.1 82.4,39.2 254.9,317.8 130.8,210.5 115.3,161.7 176.9,249.4 94.5,66.5 133.4,161.8 64.4,15.6 172,307.2 158.3,250.1 73.8,27.7 94.8,62.5 214.7,303.5 99.8,96.8 69,14.9 74.9,29.7 123.3,137.6 131.9,193.1 125.2,170.3 81.2,43.9 86.1,36.6 117.2,124.5 77,32 66.6,10.8 106,78.1 117,140.4 118.9,157.2 124.5,107.8 82.4,36.7 87.9,64.6 72.4,16.1 147.9,240.1 67.6,14.7 129.4,160.2 68,16.6 149.6,212.2 131.5,173.5 127.6,117.6 171.7,271.4 105.9,110.7 74,26.1 133.7,224.7 126.2,128.5 72.8,22.7 75.7,22.3 71.6,17.5 73.9,20.6 68.7,17.5 94.2,109.9 133.3,169.5 62,8.1 67.7,13.7 115.4,76 82.9,29.5 123,127.1 59.3,5.2 90.9,62.8 112.5,153.3 142.5,188.1 125.9,135.3 202.3,264.7 71,18.2 116.6,154 117.9,122.3 90.5,57.3 134.5,157.7 98.1,90.5 95.1,43.3 89,65.6" marker-start="url(#mlow)" marker-mid="url(#mlow)" marker-end="url(#mlow)"/>
<polyline points="243.8,168.1 101.7,110.2 225.1,132.5 233.9,145.5 130.1,31.5 85.1,146.5 69.1,194.6 83.9,145.6 181.7,20.7 53.4,232.9 312.8,305 204.1,68 211,86.2 220.2,117.4 103.7,97.8 103.5,92.7 222.4,110.2 207.3,71.7 97.1,114.5 62.4,213 61.3,204 238.8,159.9 199.5,50.3 247,197.4 133.2,25.2 184,23.7 205.3,69.8 218.7,105 175,13.4 210.6,79.1 227.6,125.6 182.2,23.1 133.4,25.7 212,91.4 100.9,98.2 94.6,120.7 144.9,9.6 108.2,78.2 203.8,64.2 102.2,100.2 283.6,272.1 214.7,101.6 116.2,69.8 235.1,159.1 92.4,129.4 239.7,169.2 233.3,155.5 236.1,174.3 112.4,78.2 243.1,194.5 304.5,290.6 182,20.3 66.9,207.5 138.6,20 198.9,61.2 116.5,63.9 108.9,87.7 130.5,27.6 294.2,285.7 175.5,12.7 275.9,249.7 250.3,216 233,146.4 212.3,94.9 228.5,141.7 94,132.6 120.5,50.2 66.4,187.7 120.9,52.8 232.6,151.8 104,100.9 102.7,97.6 126.7,42.7 65.3,173.3 207.6,68.6 245.8,185 174.7,12.1 198.5,61.2 231.3,149.5 129.3,36.1 128.1,37.2 186.6,31.3 172.7,7.8 151.1,4.6 127.4,36.5 94.2,116.4 130.4,32.4 108.5,78.4 212,86.3 241.5,163.4 126,42.5 244.1,164.6 284.5,276.5 137.6,23.2 129.4,33.6 109.3,75.7 114.8,65.4 129.7,31.1 191.1,43.5 142.7,13.6 219.2,115.2 237.4,176.8 266.1,244.7 266.5,222.5 231.4,157.7 57.7,222.8 119.8,58.8 125.9,38.1 257.2,206.9 126.5,33.9 78.6,180.2 95,132.8 221.5,111.2 245.2,196.3 138.3,21.8 114.9,70.6 75.2,172.6 202.9,58.6 127.6,41.6 100.8,116.8 250.1,175.6 199.5,59 139.8,20 112.4,87.3 274.7,239.3 201.9,64.7 242.2,173.8 125.4,41.1 214,108.4 222.3,104.4 203.2,63.5 196.5,43.4 215.6,87.4 195.9,44.6 245.5,179 283.3,250.9 197.4,45.4 83.9,146.8 99.8,117.5 253.4,192.4 185.7,27.8 134.7,24.1 202.9,65.4 183.8,22.7 83.5,161.8 207.6,76.6 272.3,244.2 137.5,21 236.8,161.4 114.6,65.5 223,121.2 63.6,221.1 255.5,204.5 257,222.5 210.3,83.4 78.3,194.2 193.3,40.8 137.7,20.7 119.8,49.8 219.5,121.8 197.4,59.4 179,15.5 197,51.8 55.8,235.1 182.7,21.4 70.4,185 190,37.5 267,242.6 118,58.2 181.1,16.9 99.3,103.7 246.7,188.7 126.3,46.2 62.1,209 176,14.7 190.9,33.8 128.9,33.6 200.9,55.1 52.9,230.9 146.3,9.1 60.6,215.7 51.5,223.3 95.7,116.6 194.8,47.4 232,149.8 106.3,94.2 236,159.2 75,165.8 209.5,74.2 93.9,125.9 259.3,226.9 203.1,67.3 243.4,161.8 92.2,123.8 57.1,235.8 120.2,53.9 215.9,106.7 313.6,301.7 225,123.2 313.6,286.6 174.3,10.8 293.6,286 226.4,120.3 225,121.8 173.6,9.2 139.5,16.5 133.1,26.5 237.2,170.5 278.8,261.7 116.9,55.1 235.9,182.1 194.1,40.9 223.6,125 137.1,18.6 114.1,63.8 243.2,179.5 204.7,72.1 178.1,18.2 88,143.8 126.2,40.7 264.6,240.3 130.9,32 74.7,200.5 194,43.7 185,28.9 73.5,174.7 109.9,87.5 223.3,117.6 132.5,26.1 211,82.2 226.6,139.1 295.3,277.5 227.3,133.8 215.3,99.6 236.7,145 135.5,23.3 150.4,5.8 178.2,16.5 146.3,8.6 123.8,44 108.4,86.9 103.9,95.5 113.3,72.5 204.5,78.2 216.9,106.7 128.5,31.3 116.2,67.8 221.4,113.2 200.6,62.5 271.6,249.3 250.2,188.3 307.8,294.4 132,31 104.8,89.5 224,118.8 201.9,67.4 272.3,254.2 207.6,74 257.6,213.6 189.9,38.3 71.7,168.2 186.3,25.2 205,69.5 128,36.3 136,24.4 240.4,166.1 217.5,105.3 100.9,99.2 176.8,13.4 413.5,320.7 211.4,88 106.4,94.4 195.9,48.8 79.8,182 228.2,137.4 213.3,109.1 130.4,30.1 246.8,176.3 97.9,129.1 287.7,281 230,138.5 273.6,262.9 131.8,30 230,139.7 140.2,16.6 314.2,297.9 219.6,113.7 252.1,202 76.3,180.1 97.4,116.5 193.5,44.5 50.7,231 118.2,57.5 264.3,235.3 93.5,131.1 251.1,203.3 216.8,114.1 139.8,16.1 188.7,32 112.6,63.1 98.6,129.9 170.7,7.4 115.5,69.8 204.1,63.5 147.8,7.6 118.6,51.5 208.8,76.6 198.5,52.5 307.1,295.5 117,60.2 211.7,88.6 202.2,69.1 309.8,304.3 242.2,194.1 239.6,166.4 275.6,245.4 109.9,82.4 60,216.7 264.8,228.1 247.3,197.2 286.2,280.8 268.7,236 243.1,170.8 51.7,247.7 173.7,9.4 250.3,208.8 88.5,137.7 79.2,173.9 98.8,122.4 117.3,67.2 97.6,121.3 99.5,105.9 60.4,211.6 244.6,188.6 182.8,22.1 291,277.9 219.7,102.2 171.4,7.9 125.9,45.1 100.4,108.7 123.5,42 99.5,102.1 121,54.2 101.4,102.9 117.7,65.1 183.9,20.8 179.2,15.9 197.3,46 239.9,150.1 245.1,158.3 226,152.5 194.6,52.1 144.8,11.5 178.8,14.1 98.6,97.9 257.9,215.8 85.8,189.1 78.5,190.3 200.7,63.3 65.6,201.4 231.4,165.3 54.8,225.7 110.1,76 90.4,135.2" marker-start="url(#mmgmt)" marker-mid="url(#mmgmt)" marker-end="url(#mmgmt)"/>
<polyline points="265.1,38.7 296.4,206.6 276.8,59.4 285.8,162.2 301.5,191.5 329.9,261.3 195.2,255.9 193.3,204.4 286.9,138 275.7,84.8 299.3,172.3 231.8,22.7 174.1,253.8 198.8,137.2 228.1,61.1 162.2,234.5 299.9,213.9 254.3,13.6 197.3,141.4 284.5,99.9 223.3,51.8 206.4,134.2 298.1,173 178.9,270.2 323.6,251.4 212.5,99.4 208.9,158.4 204.3,125.2 203.3,109.4 263.7,36.7 307.1,209.6 233.3,12.4 199.9,177.7 313.3,244.8 193.6,207.4 223.3,64 338.5,283.2 212.2,129.4 337.8,301.4 196.5,148.6 257.1,19.5 215.1,93.3 254.1,13.7 155.1,294.9 267.1,38.4 225.7,56.4 289.9,203.8 277.5,76.2 317.5,203.6 227.9,48.7 286.3,93.3 316.2,258.5 293,215.9 221,56.3 314.7,259.7 313.9,228.9 278.2,115.4 230.1,49.4 210.3,171.2 177,266.1 211.9,96.1 305.7,281.8 254.3,10.8 274,51.2 278,146.3 164.4,274 237.4,9.8 286.5,185.6 264.3,31.5 165.6,248.9 197.4,204 190.4,201.6 192.3,188.7 261.9,23.1 232.7,14.7 328,276.2 209.7,96.9 198.2,155.5 219.6,44.8 160.2,304.6 270.8,62.4 181.3,231.2 279.6,89.6 253,12.9 293.2,126.5 269.7,63.4 169.7,282.9 213.7,89.9 269.2,55.8 232.1,34.5 285.3,94.5 199.4,134.6 304.9,235.3 212.7,78.6 230.7,26.4 203.1,180.1 264.1,59.9 188,268.8 296.6,165.7 203.3,120.8 264.4,32.6 191.9,182.2 145.1,302.2 218.8,51.7 255.6,9.7 202.5,174.4 234.6,30.2 299.1,179.9 209.8,132.3 439.5,320.9 196.4,170.2 261,28.7 311.7,188.6 194,181.6 272.9,69.8 196.8,151.8 303.7,221.9 316.3,195.7 287.2,116.9 215.6,65.6 200.9,219.1 206.1,117.5 221,57.2 310.7,249.4 211.7,162.8 193.8,174.6 207.5,161.6 192.2,154.7 274,93.5 183.8,270.6 364.9,298.6 212.5,87.9 182.3,221.1 276.8,53.3 291.1,144.9 282.2,186.8 265.8,44.3 222.8,75 237.2,7.4 282.8,104.8 282.3,124.3 272.7,74.1 281.1,103.9 157.8,297.2 226.3,48.8 284.8,163.6 229.3,36.3 221.2,77.5 220,68.2 158,284.3 261,25.3 268.3,30.7 214,111.2 175.1,286.6 229.7,22.8 199.8,186.1 286.2,125.6 232.4,17 180.3,244.7 217.1,85.8 327.9,258 212.5,113.7 234.3,23.6 198,183 269.7,86.9 193.3,223.3 263.3,41.9 286.7,123.4 284.7,102.9 228,39 252.7,9.1 265.8,43.9 224.4,41.1 213.5,101.6 272.2,148 264.5,27.5 279.7,72.6 321.8,243.3 212.4,81.4 216.5,62.8 223.4,28.5 174.2,214.3 214.7,73.7 281,89 183.3,235.4 272.6,71.6 299.6,234.5 213.4,103 231.1,35.3 210.4,131.8 293.4,119.9 285.7,133.6 153.7,298.3 220.5,88.7 229.7,22.7 150.4,307.2 255,9.6 274,47.1 286.8,118.4 186.5,210.5 267.4,28 359.6,320.3 217,80.3 269,89.6 303.3,254.2 279.3,87 284,106.5 299.9,181.8 177.7,259.8 264.9,43.5 229.8,33.6 305.4,229.4 267,33 259.6,14.4 254.8,8.9 199.8,179.6 178.1,238.6 236.2,21.5 295.3,132.8 270.9,73.6 308.2,257.1 199.8,134.3 295.5,208.1 219.5,65.7 237.1,9.6 200.9,137.4 312.9,244 277,95 275.3,62.9 183.6,197.3 272.5,72.8 302.2,207.8 192.1,257.8 272.3,84.1 175.8,230.4 174.2,217 281.1,109.5 287.9,160.9 223.6,46.4 275.7,122.7 195.3,160.8 205.9,154.2 267.5,39 306.5,185.6 173.1,242 263.4,41.4 323.5,298 192,180.3 286.3,186.8 263.2,56.3 304.4,182.6 286.8,83.8 227.4,29.8 197.8,161.1 311.3,313.7 215.4,110.9 217,63.9 260.1,40.9 317.2,220.6 226,36.3 269.5,41.9 277.6,91.9 338.4,299.3 260,19.4 325.2,252.7 197.4,206.6 195.9,147.1 239.1,6.5 253.4,14.2 297.5,167.5 291.9,127.6 227.7,41.5 211.2,111 286.4,134.3 196.5,219.5 226.4,41.4 191.6,150.7 178.9,230.3 261.2,17.2 181.4,205.5 217.7,56.7 299.3,186.2 318.4,236.4 176.2,194.3 201.5,113.4 210.1,102.8 198.3,192.9 293.3,196.8 284.4,113.8 217.8,125 268.4,55.9 321.2,202.3 233.5,27.7 209.5,134.7 310.7,209.6 268.1,41.5 147.2,305.2 278.4,96.5 186.7,233.8 195.7,218.7 292.5,141.8 239.6,15.3 193.6,216.7 259.1,23.2 214.7,122.2 205,92.5 311.3,258.2 297.7,192.8 265.8,42.9 220.3,68.7 224.3,59.4 149,297.4 234.2,29.4 224.5,68.9 275.2,77.5 199.3,267.6 265.9,27.7 265.2,32.7 222.8,61.7 219.5,78.7 320,250.9 281.4,78.9 323.2,289.9 207.6,144.3 274.8,103.6 284.3,189.8 325.4,276.9 220.6,65 182.2,213.3 281.9,128.9 289.6,111.3 269.5,52.1 317.5,213.3 215.6,94.1 166.6,240 327.7,285.4 258.8,17.6 270,93.6 321.2,296.8 255.9,8.4 300.4,255.5 329.9,275.1 291.3,173.2 266.8,59.4 227.5,28.9 274.9,77.1 224.7,45.5 264,31.7 301.8,216 202.3,130.9 217.3,106.6 333.6,244 195.4,138.5 308.2,160.2 218.3,69.4 227.6,45.9 287.7,162.2 232.3,36.6 291.2,199.9 338.6,284.1 207.8,105.5 184.9,187.8 163.6,257.5 214.5,111.2 221,63.4 210.6,92.5 310.5,196.6 271.2,66.2 268.5,55.7 180.2,256.5 203.1,105.2 256.6,16 314.5,234.8 266.3,66.9 276.7,88.4 230.1,32.7 225.3,41.8 148.1,247.1 221.3,58.4 157.5,270.1 215.5,55.3 291.2,155.1 230.1,59.5 224.3,49.4 277,71.5 225.9,54.4 274.5,59.5 213.9,72.9 190.8,226.8 181.2,221.6 277.8,103.7 222.7,61.8 227.2,47.7 340.6,308.1 201.6,174.9 190.6,209.4 223.1,71.7 268.7,35.6 331.1,264.6 206,132 212.4,84.6 187.7,216.4 211.8,99.9 210,107.6 224.7,76.5 263.2,35.8 155.1,282.8 303.8,210.2 264.5,25.4 198.3,206.6 274.7,72.1 223.9,45 272.6,88.1 237.5,15.9 210,137.9 275.9,100.5 279.5,82.6 258.7,17.3 309.1,231 216.4,55 266.4,36 200.2,126.6 268.6,40.1 259.2,14 233.8,20.7 215.1,77 177.1,199 312.9,246.1 221.7,60.7 211.7,115.2 218.5,67.9 259.2,13.7 267.7,40 260.4,21.8 205.1,171.5 301.8,133.5 262.4,26.5 277,92.9 347.9,285.9" marker-start="url(#mlower)" marker-mid="url(#mlower)" marker-end="url(#mlower)"/>
<polyline points="381.8,61.1 348.9,87.6 342.6,198.3 382.1,68.6 401.6,240.4 340.9,127.1 348,66 379.6,27.1 389.7,152.9 395.7,181.6 353,36 374.4,31.6 331,167.3 385.7,62.7 344.9,85.8 405.9,270.4 356,37.8 394,122.4 389.9,156.8 376.8,48.8 379.8,32.7 351.5,65 413.8,293.2 379.7,68.3 318.4,245 325.4,264.6 381.7,44.9 359.8,17.8 331.8,188.4 343.4,93.7 352.3,68.2 318.8,267.5 383.3,85.9 323.6,285.1 410.9,276.4 333.2,265.8 347.1,93.5 378.3,64.8 394.6,122.2 345,76.1 322.5,279.9 388.2,116.1 342.5,81.7 394.8,250.4 318.6,283.4 381.6,38.1 329.2,206.3 349.5,77.2 341.1,131.3 417.2,228 349,102.6 385.2,119.4 343.7,112.3 406.1,200.6 355.1,41.3 378.3,48.4 385.5,183.4 344.3,126.1 388.3,99.2 381.3,52.1 375.3,39 340.1,121.1 356.5,40.2 381.7,56.3 333.2,259.1 351.8,69.3 340,150 399.9,197.6 344.9,117.6 357.7,27.1 380.2,62.4 353,99.4 394.3,168 339.6,98.5 342.9,111.6 354.6,27.8 407.5,248.8 393.2,139.4 391.8,123.1 348.8,92.3 351.9,40.7 400.3,206.1 377.7,40.8 328,213 375.6,23.4 306.3,287.3 386.1,115.4 351.3,128.3 318.1,268.4 358.3,23.7 409.2,281.4 358.7,13 410.4,276.5 355.6,29 393.1,129.4 352.9,49.9 410.1,256.5 383.1,73 337.5,192.1 388,105.8 398.9,153.2 379.3,36.2 345.6,67.5 334.5,145.2 407,259.7 388.9,100.2 337.5,114.2 330.1,206.9 383.5,109.8 316.9,286.1 372.3,9.7 372.9,16.1 345.8,96.7 349.2,91.6 387.5,95.7 339.3,141.5 331.2,177.8 322.7,281.8 393.5,204.1 333.5,208.5 372.6,14.5 389.2,107.3 356.7,51.6 376.5,31.1 409.3,293 347.6,87.2 321.1,248.9 361.4,8.9 394.6,177.6 391.5,160.9 399,179.9 346,80.3 339.9,108.2 354.2,45.5 374.8,17.1 386.4,119 350.8,53 401,185.5 354.2,35.8 388.9,150 353.5,57.9 449.2,318.6 376.1,43.9 389.7,112.9 339.6,115.2 399.9,198 398,158.9 382.7,47.4 379.2,31.7 347.5,56.8 349.2,48.8 338.6,159.1 405.4,251.8 379.5,54.1 348.2,80.9 391.8,177.5 376.3,23.1 360.6,9.9 394.8,199.2 373.1,11.5 389.9,120.5 417,295.2 428.7,303.6 345.7,114.2 380.8,37.3 349.6,97.8 375.6,46.9 406.2,209.1 319.1,224.3 338.2,165.5 353.8,31.2 326.8,244.8 355.7,34.8 372.9,14.7 319.8,237.9 377.2,32 364.3,4.3 338.2,150 330.8,190.7 356.8,20.5 331.6,166.8 353.2,38.5 392.1,208.6 396.5,198.1 337,112.5 384.1,59.3 306.9,297 347.4,127.6 401.1,196.8 335,122.4 401.8,201.6 357.7,19.3 379.2,51.9 338.7,119.2 350.2,39.9 399.6,178.6 399.9,186.1 372,14 391.6,188.3 345.4,159.3 378.9,26.6 443.4,319.1 347.9,119.9 385.1,81.5 396.6,196.6 400,192.3 387.2,106.9 332.8,215.9 393,140.7 359.1,38.4 380.9,43.8 351.3,53.5 385.7,80.3 345.3,80.6 374.7,22.3 349,70.2 374.3,26.4 343.6,99.1 379,38.2 378.6,42.5 356.5,19 378.5,40.3 341.6,113.9 371.7,8.8 353.4,35.3 386.8,103.5 381.3,79.4 416.2,298.9 357.3,29.2 387.5,87 363.4,10.4 389.6,78.8 410.8,286.2 401.3,173.4 345.4,135.7 326,203.4 350.6,50.8 382.1,82.1 388.6,133.1 348.6,62.1 408.4,255.9 350.7,52.6 378.6,44.8 328.6,288 382.2,50.2 342.4,115.7 328.3,230.8 387.3,97.3 340.7,150 383.7,81.1 398.7,173.2 323.4,242.4 353.5,65.1 405.9,271.3 384.8,62.3 391.9,89 388,100 383.2,60.3 388.9,85 330.5,209.5 329.6,210.1 355.8,25.6 336,193.5 382.9,69.5 346.6,114.5 407.4,261.4 379.7,107 415.3,300.6 399,175.3 324.4,209.9 378.8,53.3 380,49.2 356.6,32.5 335.8,210.1 339.2,118.4 357.4,23.4 362.3,6.5 349.9,60.6 348.9,56.7 378.9,45.9 342.6,109 383,74.9 353.1,83.7 357.7,25 330.1,213.6 388,65.4 339.2,173.1 337,146.2 347.1,75.3 422.4,276.9 408,192.6 323.4,220.9 377.2,20.7 389,95.9 357.4,16.9 341.6,157.8 386.7,87.5 354.2,40.8 423.8,280.8 371.7,11 395.9,155.8 376.7,36.7 340.2,139.6 340.2,148 333.4,175 390.3,144.8 353.4,39.4 348.4,97.4 355.8,34 340.3,120.3 356.8,26 333.5,142.9 409.1,218.3 399.1,178.2 395.2,155.1 348,44.4 342.7,88.3 349.7,54.3 383.7,72.8 371.8,7.9" marker-start="url(#mmed)" marker-mid="url(#mmed)" marker-end="url(#mmed)"/>
<polyline points="524.6,95.1 466.1,77.9 422.3,234.6 433.8,188.9 469.1,31 544.3,198.8 499.4,14.9 448,139.3 402.5,253.5 443,146.7 519.4,68.4 388,305.3 435.9,162.7 507.1,47 458.7,57.2 443,153.9 527.8,117.3 588.9,300.6 505.1,45 544.3,222.6 473.9,23.7 506.1,28.9 422.8,247.7 473.1,37.4 474.7,17.8 398.2,260.6 508.9,61.2 465.4,40.9 524.2,126.6 491.4,3.6 515.3,72 441.5,164.3 511.2,67.4 508.3,36.2 467.3,36.9 504.2,22 471.8,27.7 458.6,68.5 434.3,193 537.8,136 474.9,18.1 457.9,60.4 524.8,105.5 498.7,12.1 478.3,9.7 450.8,93.7 545.3,197.8 481,5.9 530.4,114.9 461.7,58.5 531.1,153.9 430,186.3 455.8,90.8 448.8,123.9 404.9,249.5 467.2,39.1 425.6,214 405.3,247 572.1,297.1 472.5,18.7 531.7,175.6 525,162.9 555,228.1 443.3,153.3 553.5,296.2 413.9,266.6 510.9,66 524.4,110.5 518.7,106.5 476.1,16.5 435.8,198.7 498.9,12.4 530.5,139.6 543,217.6 533.8,114 462.8,74.3 508.7,33.4 541.2,219.6 549.5,199.6 514.1,74.3 455.4,58.6 534.7,147.6 521.9,104.5 439.6,138.4 555.4,186.6 549.1,230.2 463.5,66.4 513.2,42.1 468.7,34.2 502.8,36.1 392.2,305.9 446.5,147.5 511.4,51.3 455.8,119.4 426.3,211.3 463.2,50.4 394.8,279.6 524,113 502.9,27.9 588.4,309.7 453.6,114.8 514.8,71.2 464.4,41 517.1,101.3 462.9,51.3 465.1,50.7 462.7,46.2 460.4,67.4 554.4,266.5 461.8,48 587.3,297.6 523.5,97.1 357.4,314.5 473.8,16.2 419.6,228.1 436.2,191.4 519.8,70.9 452.2,107.2 524.2,176.1 412.4,242.1 505.2,24.8 550.6,210.7 504.6,21 467.4,41 529.9,153.9 438.4,190.4 506.8,44.7 416.7,243.6 504.9,41.2 501.3,20.5 455.2,86.2 568,236.6 511.3,49.9 501.5,20.1 499.2,20.7 471.6,56.4 442.9,163.3 423.2,231.8 594.8,296.4 430.6,154.2 454.9,96.3 413.7,257 511.9,56.2 517.6,79.6 470.4,33.1 453.1,118.4 432.9,173.3 502,25.8 565.6,258.2 532,148.3 500.7,29.4 524.1,86.8 508.8,40.7 526.7,121.8 525.2,121 427.6,164.5 458.7,75 557.8,223.7 451.2,100.7 424.5,261.3 544.3,180.4 510.7,45.8 542.5,181 448,114.8 495,9.3 502.6,18.4 475.2,11.6 476.2,15 512.5,41.9 446.6,152.8 527.3,117.7 454.4,82.5 478.8,12.5 449.4,139.6 566.3,259.7 578.4,288.1 455.4,79 429.9,177.4 557.5,232.2 497,14.4 507.7,31.7 464.4,67.1 513.6,45.4 526.3,141.7 468.7,29.5 517.3,80.3 522.2,134.7 473,23.7 461.4,58.1 434.1,211.9 467.5,46.9 496.8,8.9 436.9,151.4 407.1,253.6 453.6,116.2 552.6,218.6 517.5,62 557.9,278.8 519.1,112.2 507,29.7 528.6,130.4 450.2,206.6 452.9,100.9 462.5,67.3 479.8,8 441.6,124.9 443.6,121.5 426.6,177.7 532.6,207.8 449.3,127.1 538.4,202.4 532.3,166.5 382.2,271.8 501.3,25.6 385.4,290.7 499.8,18.2 478.6,12.7 542.7,207.7 507.9,26.2 442.9,173.4 521.8,80.3 515.2,73.2 515.9,91.5 614.6,319.2 482.2,6.3 515.1,57.5 571.4,298.2 442.2,142.1 533.1,166.2 463.6,45.7 479.3,9.7 499.8,20.9 492.5,6.9 516.2,84.9 528.4,197.4 447.8,129.8 573,295.4 497.7,9.6 463.9,66.2 447.3,100.2 512.2,52.3 564.4,260.2 471.3,29.7 447.3,145.1 544.2,209.6 443.7,141.6 512.8,52.4 515.4,77.9 421.1,191.4 508.8,81.8 510.7,49.4 523.4,128.7 476.1,28.3 438.2,221.6 397.1,296.1 463.3,48.2 517.5,70.9 460.4,58.2 525.7,119.3 448.2,135.2 531.8,191.7 512.9,67.5 462.6,70.3 513.1,100.4 561.3,251.7 521.6,74.1 451.4,157.3 435,173 472.6,22.5 453.2,94.7 498.1,13.6 561.1,243.9 509.8,43.8 517.5,73.1 444.7,127.7 518.5,107 461.6,52.5 441.6,125.8 469.9,26.1 462.3,54.3 510.7,49.8 458.8,103.2 459.4,53 528.3,125.9 380.2,315.6 547.7,169.2 566.3,228.2 467.5,29.4 469.6,27.8 442.5,132.1 464.1,50 430.3,239.3 416.2,286.2 529.6,135.7 498.4,17.7 543,172.1 421.7,193 499.6,16.1 546,157.2 391.6,278.8 568.9,288 492.9,10.4 428.3,178.7 434.4,167.8 430.3,156 443.9,126.3 510.9,52.9 421,229.2 554.7,286.3 461.8,74.6 416.7,226.1 471.5,41.8 505.4,46.5 468.6,38.5 572.5,282.5 440.5,133.6 514,59.5 369.6,311.9 458.5,71.2 473.1,27.1 440.5,111.3 446.4,189.6 449,113.2 468,47 444.7,140.3 422.6,226.9 414,283.4 418.1,216.4 424.8,165.9 472.5,41.9 505.4,39.1 478.6,13.2 520.1,87.5 539.7,146.9 500.8,21.9 461.3,48.2 443.6,156.7 468,42.6 549.6,218.4 386.7,307.3 437.8,195.1 502.5,23.3 512.2,63.4 465.4,36.7 549.3,242 568.5,283.6 505.6,22.9 508.8,48.7 451.2,140.1 474.2,22.4 502.9,22 447,131.1 531.9,126.8 492.5,4 372,307.4 518.9,92.4 556.5,284.2 530,87.1 470.5,30.7 420.9,249.8 555,208.8 442.2,134.1 463.9,40.1 533.4,140 549.9,178.9 423.1,201.8 449.4,112.5 513.5,57.7 494,5.7 528.2,123.1 510.7,66.3 428,187.8 470.6,31.4 467.2,27 524.3,110.8 539.5,279.7 473.7,17.9 504.9,30.1 452.8,94.1 434.4,185.5 437.1,191.6 425.3,213.5 544,173 501.4,22.9 519.5,94 510.1,55.3 478.3,11.3 545,235.3 513.8,73.5 564.2,270.9 513,55.6 561.9,229 616.4,318.4 518.8,68.6 464.5,59.9 452.4,69.2 463.2,46 422.8,233.9 494.6,6.6 458.8,91.2 471.1,20.4 550.9,215.8 520,63.4 528,133.7 520.4,120.6 457.7,67.6 531.2,125.5 552.3,190.1 437.9,150.7 527.7,125 516.9,51.1 460.8,79.3 532.7,124.3 527.8,138.8 389.3,278.1 542.4,218.9 434.1,142.5 528.7,120.6 438.7,134.5 517.1,87.6 538.3,210.6 470,38.4 455.8,73.1 427.2,229.3 457,58.3 557.9,255.6 434.5,146 549.6,208.7 519.1,106.2 515.2,61.1 522.8,81.6 463.2,42.9 494.8,12 447.9,167.9 407,275.5 525,86.4 493.4,7.6 448.4,123.1 526.5,90.8 451,92.3 541.8,182.8 524.4,144.7 474.2,17.6 523.3,124.9 512.6,55.3 434.4,203.1 431.3,229.7 460.1,52.1 446.9,135.3 475.6,14.4 520.2,80.2 479.8,9.8 455.5,94.4 525.9,107.5 436.6,169.7 425.4,171.5 460.7,54.7 462.2,68.3 460.2,51.1 526.7,105 454.8,78.4 557.3,246.5 471.6,21.6 463.5,55.4 539.5,165.4 535.6,178.7 457.1,93.1 438.3,165.8 465.9,35.7 528.7,132.6 533,182.3 453.2,86.1 449.4,130.9 535.5,141.5 551,215.3 439.6,195.9 525.3,108.6 418.8,210.1 452.1,99.3 442.9,133 513.5,72.9 447.1,143.7 534.5,130.4 527.1,147" marker-start="url(#mhigher)" marker-mid="url(#mhigher)" marker-end="url(#mhigher)"/>
<polyline points="627.7,108.3 575.6,253.5 644.5,50.6 671,8.5 582.6,215.7 650.2,30.1 635.7,92.3 575.3,280.1 629.8,111.6 641.4,59.9 664,10.3 639.8,57.5 614.8,113.4 639.1,73.3 602.1,144.3 544,277.4 670.2,10.2 624,94.4 643.9,38 594.6,160.3 602.8,174.6 589.3,247.2 596,233.8 603.8,118.1 636.8,91.1 598.6,137.3 565.7,242.5 631.1,147.7 625.8,80.2 550.3,273.9 661,22.9 617.3,199.6 641.9,53.9 640.2,61.1 611.8,149.7 630.6,98.1 654.9,23.7 667.6,11.9 642.7,38.1 661.6,21.5 595,202.8 595.8,170.5 615.5,118.7 518.1,275.4 554.6,296.4 617.9,115.5 596.1,184.6 613.3,86 667.4,6.9 629.7,97.5 645.2,38.9 652.9,47.2 591.5,191.3 621.4,129.7 636.8,50.6 620.2,97.8 575.7,202.6 633.1,101 541.6,267.8 646.4,43.8 573.4,247.4 586.6,202.8 668.1,9.5 586.6,205 560.6,250.9 645.3,51 663.4,14.9 587.6,224.3 628.1,85.8 622.2,111 621.6,114.5 616.1,117.9 607.7,110.6 640.4,60.5 609.8,202.6 579.3,153.3 656.3,36.4 585.9,263.1 638.1,67.9 557.9,294.1 654.5,21.4 665.9,9.7 578.2,218 583.3,173.3 610.6,123.8 665.7,10.6 640.8,53.4 657.2,37.9 653.8,38.9 664.5,20.2 549.4,261.6 654.7,22.1 639.3,64.5 678,2.7 571.6,235.4 573.4,212.2 637.5,98.8 616.6,126.6 614.2,135.7 624.8,122.5 645,61.7 648.1,41.2 657.5,21.8 581.9,194.2 625,83.3 596.1,161.4 644.5,40.4 566.9,253.7 647.9,62.6 662.9,13.8 652.5,30.3 550.8,292.6 635.1,56 646.1,56.2 648.4,43.4 597.4,161.2 561.7,223.7 628.9,70.2 605.6,180 609.4,140.2 643.3,48.5 637.6,73.5 615.3,115.2 617.1,127 655.6,24.2 638.6,59.5 575.1,266.9 589.1,191.8 655.4,26.2 653,32.1 669.4,6.8 667,6.7 647.1,29.7 641.5,42.8 668.9,8.4 630.1,79.9 639.6,57.5 674.1,5 586.9,182.5 647.5,37.1 609.1,142.4 651.4,44.8 634.2,112 643.1,37.2 599.3,157.5 587.2,217 637.8,87.6 568.1,276.3 662.3,13 616.7,164.1 664.7,8.1 612.1,130.9 662.7,17.3 610.1,174.9 589.8,214.2 622,120.8 662.3,29 640.6,137 623.9,121.1 622.6,158.2 661,13 568.2,239.6 628,123.9 641.8,88.3 669.3,10.3 600.5,159.2 656.2,31.7 576.7,171.7 623,140.2 593.2,174.9 632,52.5 668.3,10 644.3,54.5 646.7,36.2 643.6,32.4 457.1,308.3 636.8,52.2 660.1,15.1 590.1,171.4 588.6,207 615.2,131.1 596.7,166.3 649.9,42.8 649.7,43.8 627.9,94.9 641.1,71.8 598,168.3 610.6,123.5 647.9,23.4 631.8,79.8 520.9,309.3 608,151.6 644.1,55.4 671.9,6.4 663.4,20.1 647.1,50.2 629.3,107.1 657.7,21.1 652.5,28.2 664,14.9 663.8,17.8 541.7,276.5 596.1,202.9 639.1,145.4 651.7,20 666.3,22.5 662.7,16.1 648.8,39.9 657.5,14.9 468.4,305.4 650.7,42.5 544.4,265.5 540.7,273.5 598.1,147 646.7,24.2 566.1,237.6 620,109.9 582.7,236.5 657.2,30.6 592.6,181.6 643.4,38.5 660,16.9 628.9,101.3 642.8,82 633.4,90.6 639,61.7 597.4,98.7 657.9,44.8 572.3,203.9 543.1,276.3 566.6,269.1 665.5,9.5 566.5,256.6 513.8,302.8 648.6,38.3 499.6,310.3 600.5,142 652.1,37.7 665.7,9.8 665.7,7.3 572.3,255.1 636.3,56.4 635,89.7 633.2,65.5 583.1,215.8 615.2,122.4 660.3,13 627.4,116.8 592.4,119.2 598.4,138.5 663.4,25.8 630,68.7 660,29.9 674.3,6.4 579,239.8 640.4,110.3 620.4,154.3 650.6,36.9 613.6,94.6 658.7,17.6 653.2,28.7 661.8,8.8 612,110.8 556.9,199.5 635.9,70.1 614.9,115.6 655.9,17.3 583.4,183.2 527.6,297.4 628,90.3 541.5,270.8 672.3,6.7 647.4,54.2 607.6,101.8 623.3,100.7 628.1,67.1 642.2,54.5 608.4,229 608.7,157.2 636.1,85.8 649,61.3 660,17.8 618.5,120.7 663.4,13.4 670.4,8.6" marker-start="url(#mhigh)" marker-mid="url(#mhigh)" marker-end="url(#mhigh)"/>
</g>

<g class="tl"><text x="53.6" y="341.3" text-anchor="middle">0</text>
<text x="114.9" y="341.3" text-anchor="middle">0.1</text>
<text x="174.9" y="341.3" text-anchor="middle">0.2</text>
<text x="237.4" y="341.3" text-anchor="middle">0.3</text>
<text x="299.7" y="342" text-anchor="middle">0.4</text>
<text x="364.6" y="342" text-anchor="middle">0.5</text>
<text x="431.1" y="341.3" text-anchor="middle">0.6</text>
<text x="497.8" y="341.3" text-anchor="middle">0.7</text>
<text x="556.9" y="341.3" text-anchor="middle">0.8</text>
<text x="622.0" y="341.3" text-anchor="middle">0.9</text>
<text x="681.2" y="343" text-anchor="middle">1</text>
<text x="43.6" y="325.9" text-anchor="end">0</text>
<text x="45.2" y="294.0" text-anchor="end">0.1</text>
<text x="45.2" y="262.2" text-anchor="end">0.2</text>
<text x="45.2" y="230.3" text-anchor="end">0.3</text>
<text x="45.2" y="198.5" text-anchor="end">0.4</text>
<text x="45.2" y="166.7" text-anchor="end">0.5</text>
<text x="45.2" y="134.8" text-anchor="end">0.6</text>
<text x="45.2" y="103.0" text-anchor="end">0.7</text>
<text x="45.2" y="71.1" text-anchor="end">0.8</text>
<text x="45.2" y="39.2" text-anchor="end">0.9</text>
<text x="43.6" y="12.0" text-anchor="end">1</text></g>
<g stroke="#4676D2" stroke-width="2.2" fill="none" stroke-linecap="round" stroke-linejoin="round"><path d="M97.3 195.5L111.3 155.8M112.8 162.3L111.6 155.0L106.0 159.9"/><path d="M168.3 79.2L139.8 24.0M145.6 27.4L139.4 23.3L139.2 30.7"/><path d="M269.6 202.3L284.5 163.7M285.8 170.4L284.8 163.0L279.1 167.8"/><path d="M376.6 202.6L390.7 163.8M392.2 170.3L391.0 163.0L385.4 167.9"/><path d="M511.0 204.0L525.9 166.0M527.2 172.7L526.2 165.3L520.5 170.0"/><path d="M657.6 211.8L623.3 164.8M629.5 167.3L622.8 164.2L623.7 171.6"/></g>
<g class="an"><text x="73" y="205">Low risk</text>
<text x="132.5" y="95">Management</text>
<text x="140.5" y="111">factor risk</text>
<text x="232" y="209.7">Lower risk</text>
<text x="336" y="212.6">Medium risk</text>
<text x="471" y="210.6">Higher risk</text>
<text x="625.5" y="221.5">High risk</text></g>
<text class="tt" x="355.2" y="363.5" text-anchor="middle" font-size="18" fill="#111">Assessed value at risk</text>
<text class="tt" transform="translate(5,192.5) rotate(90)" text-anchor="middle" font-size="18" fill="#111">Ddegree of affiliation</text>
</svg>
</div></body></html>
